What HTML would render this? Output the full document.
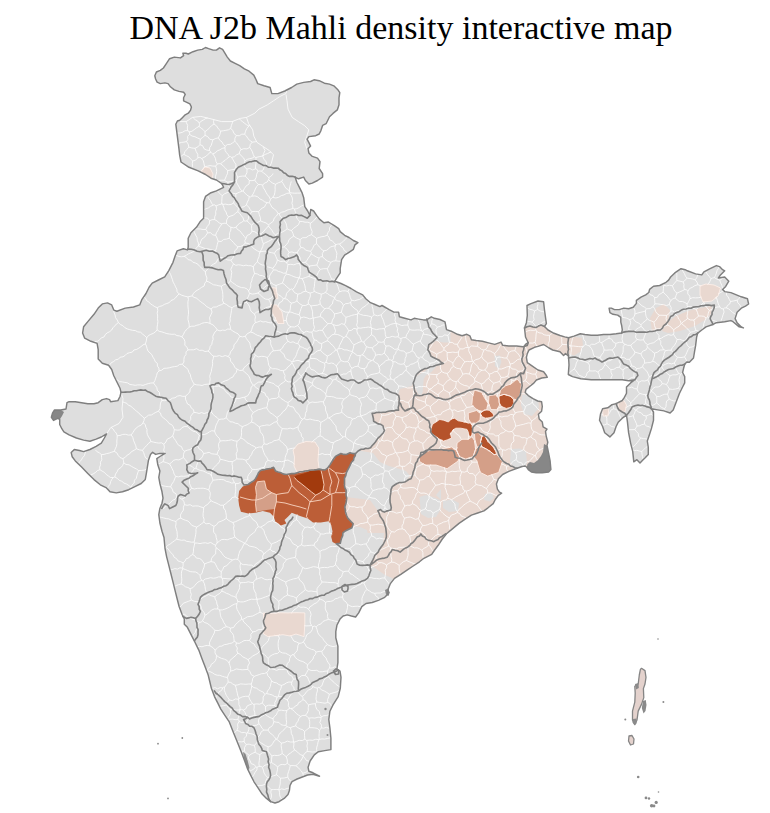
<!DOCTYPE html>
<html><head><meta charset="utf-8"><title>DNA J2b Mahli density interactive map</title>
<style>
html,body{margin:0;padding:0;background:#fff;width:770px;height:813px;overflow:hidden}
h1{position:absolute;left:0;top:0;width:770px;margin:0;text-align:center;font-weight:normal;font-size:34px;font-family:"Liberation Serif","Times New Roman",serif;color:#000;line-height:1}
svg{position:absolute;left:0;top:0}
</style></head><body>
<svg width="770" height="813" viewBox="0 0 770 813">
<defs><clipPath id="c"><polygon points="155.6,79 154.8,75.8 156.4,72 160.3,70.4 163.4,68 166.5,63.4 169.6,58.7 174.3,57.1 180.5,57.9 183.6,55.6 182.9,53.2 186,53.2 188.3,54 193,51.7 197.7,50.1 202.3,49.4 205.5,47.5 208.6,48.6 213.2,50.1 216.4,50.1 219.5,47.8 222.6,49.4 224.9,53.2 227.3,57.1 230.4,61 235.1,63.4 239.7,65.7 244.4,68.8 249.1,71.2 253.8,75.1 256.1,79.7 257.7,83.6 264.1,85.8 270.1,87.5 271.8,93.6 277.9,93.6 284.8,91 291.6,87.5 296.8,84.1 303.7,82.4 310.6,81.5 314,79.8 319.2,80.7 324.4,83.2 329.5,84.1 333.8,85.8 338.1,90.1 339.8,92.7 339,97.9 339,104.8 337.3,109.9 333,113.4 329.5,116.8 326.1,123.7 322.6,125.4 320.9,130.6 319.2,134 315.7,135.7 308.9,136.6 307.1,139.2 308.9,142.6 310.6,146.1 308,148.7 308.9,153 312.3,156.4 317.5,158.1 320,161.6 319.2,168.5 322.6,173.6 322.6,177.1 317.5,180.5 312.3,183.1 308.9,184 305.4,180.5 303.7,177.1 298.5,178.8 295.1,177.1 296.8,182.2 299.4,187.4 302,192.6 303.7,197.7 304.8,206.6 307.7,211 309.9,215.4 310.7,209.5 313.6,211 316.6,215.4 319.5,219.1 323.9,222.8 328.4,222 334.3,225.7 338.7,228.7 340.2,231.6 344.6,235.3 349,237.5 353.4,240.5 357.9,242.7 354.9,244.9 353.4,249.3 349,252.3 344.6,255.2 341.6,259.7 340.9,264.1 340.2,268.5 340.2,272.9 337.2,277.4 334.3,281.8 336.2,281.7 341,283.5 345.6,285.6 351,288.5 356.5,291.8 362.7,294.9 365.8,298.8 370.5,302.7 375,304.5 379.9,306.6 382,305.5 389.2,309.7 393.9,312.1 398.6,312.1 399.4,316.8 404.8,318.3 411,319.9 414.2,318.3 418.8,319.1 423.5,319.9 426.6,319.9 431.3,316.8 434.4,318.3 440,319.5 445,321.8 446.5,329.6 451.2,331.2 457.4,334.3 462.1,335.8 466.8,334.3 469.9,335.8 471.4,339.7 476.1,340.5 482.3,341.3 488.6,342.9 494.8,344.4 501,342.1 502.6,345.2 508.8,346 516.6,346 522.9,346.8 527.3,345.5 528.2,342.7 525.5,337 524.5,328 526.4,322.7 527.3,315.5 527,305.5 531,303.6 538,301 543.6,301.8 544.5,310 545.5,317.3 546.4,323.6 544.5,326.4 548,330 552.7,332.7 560,335.5 564.7,336.9 568.6,337.7 574,336.1 580.3,333.8 584.9,334.5 591.2,335.3 597.4,335.3 603.6,334.5 609.9,334.5 616.1,333.8 621.6,333 622.3,329.9 621.6,325.2 620.8,322.1 620.8,317.4 617.7,315.1 613,314.3 609.9,312.7 609.1,308.1 611.4,308.1 614.5,309.6 619.2,309.6 623.9,308.1 628.6,308.8 633.2,307.3 636.4,303.4 636.4,300.3 641,297.1 645.7,294.8 648.8,292.5 649.6,289.4 653.5,286.2 659.7,285.5 666,282.3 668.6,280.1 670.6,277 674.8,272.9 681,268.7 685.2,269.7 687.3,270.8 695.6,273.9 701.8,274.9 703.9,271.8 710.1,268.7 716.4,265.6 719.5,266.6 722.6,269.7 724.7,270.8 720.5,274.9 718.4,278 724.7,277 728.8,281.2 725.7,286.4 722.6,289.5 724.7,291.6 730.9,292.6 741.3,296.8 747.5,298.8 748.6,304 745.5,306.1 741.3,308.2 737.1,312.3 735.1,318.6 737.1,322.7 741.3,326.9 743.4,327.9 739.2,326.9 733,321.7 730.9,320.6 724.7,321.7 716.4,322.7 712.2,324.8 706,326.9 701.8,330 697.7,333.1 696.6,337.3 695.6,345.6 694.5,351.8 693.5,358 689.4,362.2 686.8,362 684.7,364.2 683.6,368.3 682.6,372.5 684.7,376.6 684.7,382.9 682.6,387 679.5,393.2 676.4,401.6 673.2,409.9 670.1,413 663.9,410.9 657.7,409.9 651.4,408.8 653.5,412 653.5,420.3 651.4,428.6 649.4,434.8 647.3,441 648.3,447.3 648.3,454.5 645.2,457.7 643.1,459.7 640,462.9 636.9,459.7 633.8,461.8 632.7,451.4 630.6,443.1 628.6,432.7 627.5,422.3 626.5,415.1 622.3,418.2 618.2,422.3 616.1,426.5 614,432.7 609.9,436.9 604.7,432.7 602.6,426.5 599.5,420.3 600.5,414 602.6,408.8 607.8,407.8 612,404.7 616.1,403.6 622.3,400.5 624.4,397.4 626.5,393.2 626.5,387 630.6,382.9 634.8,379.7 628.6,380.8 622.3,379.7 612,379.7 601.6,379.7 591.2,379.7 580.8,378.7 572.5,376.6 568.3,374.5 569,365 568.5,356 565.5,353.6 563.6,355.5 560,351.8 552.7,350 549,348 543.6,344.5 538,346.4 534.5,347.3 529,350 527.3,353.6 526.4,357.3 527.3,362.7 532.7,366.4 538,370 543.6,371.8 546.4,375.5 547.3,377.3 541.8,378 536.4,380 533.8,383.1 529.9,386.2 526,389.4 525.2,392.5 528.3,395.6 533,398.7 537.7,401 541.6,401.8 542.3,406.5 541.6,411.2 538.4,414.3 539.2,419 542.3,422.1 543.1,426.8 547,429.1 545.5,431.4 546.2,436.1 547.8,442.3 547,445.5 548.6,453.2 550.1,461 550.9,469.6 548.6,472 542.3,472.7 536.1,472.7 531.4,472 528.3,469.6 526.8,467.3 525.2,466 522,466.5 517.1,468.3 508.8,471.4 502.6,474.5 498.4,478.7 496.4,483.9 497.4,489.1 499.5,492.2 501.6,493.2 498.4,495.3 495.3,499.5 493.2,503.6 488,507.8 483.9,510.9 477.7,513 471.4,515.1 465.2,519.2 459,523.4 452.7,528.6 446.5,533.8 442.3,539 438.2,545.3 434.3,550.5 431.7,554.4 427.8,556.4 423.9,558.3 419.5,561.8 413.2,566 407,570.1 400.8,574.3 394.5,578.4 390.4,583.6 388.3,588.8 387.8,594.2 384.7,597.3 378.4,600.4 372.2,602.5 366,603.5 361.8,606.6 358.7,612.9 355.6,617 351.4,616 347.3,614.9 343.1,616 340,619.1 336.9,625.3 335.8,631.6 335.8,637.8 337.9,646.1 337.9,654.4 337.9,662.7 336.9,669 340,671 341,677.3 340.3,688.3 338.2,696.6 333,704.9 329.9,711.2 328.8,719.5 329.9,727.8 330.9,738.2 330.9,749.6 324.7,750.6 318.4,751.7 314.3,754.8 310.1,761 308.1,767.3 308.8,771.2 313,772.8 319.5,776.2 313,774.2 307.5,775 302.3,777 297.1,779 292,781.6 290,785.5 289.4,790.6 288,794.5 284.2,798.4 279,801.7 275,803 270.6,801.6 266.5,798.4 262.3,794.3 258.2,788.1 254,781.8 250.9,775.6 247.8,769.4 244.7,761 241.6,752.7 237.4,742.3 233.2,731.9 229.1,721.6 224.9,715.3 220.8,709.1 217.7,702.9 214.5,696.6 211.4,688.3 209.4,680 208.2,675.1 205.1,666.8 201.9,658.4 198.8,650.1 194.7,641.8 191.6,635.6 187.4,627.3 184.3,624.2 184.3,619 182.2,614.8 179.1,606.5 177,598.2 174.9,589.9 172.9,581.6 170.8,573.2 168.7,564.9 166.6,556.6 165,548.3 164.5,543 164,537.5 162,531.3 159.9,523 158.8,514.7 159.9,508.4 162,503.2 163,498.1 162,491.8 159.9,483.5 158.8,477.3 159.9,471 157.8,464.8 156.8,458.6 159.9,456.5 165.1,453.4 159.9,453.4 155.7,454.4 152.6,452.3 150.5,454.4 148.4,460.6 147.4,466.9 146.4,473.1 145.3,479.4 141.2,483.5 134.9,486.6 128.7,489.7 122.5,491.8 116.2,492.9 110,491.8 106.5,487.9 100.3,484.8 94,479.6 87.8,473.4 81.6,467.1 75.3,460.9 72.2,456.8 71.2,452.6 74.3,449.5 79.5,450.5 83.6,451.6 89.9,449.5 96.1,446.4 101.3,443.2 104.4,438 106.5,433.9 101.3,437 96.1,439.1 89.9,441.2 83.6,440.1 76.4,438 69.1,434.9 63.9,431.8 61.8,428.7 59.7,424.5 59.7,419.4 57.7,418.3 53.5,420.4 51.4,417.3 52.5,413.1 54.5,410 60.8,410 66,409 67,402.7 69.1,401.7 75.3,401.7 81.6,402.7 87.8,403.8 94,403.8 98.2,402.7 102.3,399.6 106.5,398.6 109.6,399.6 110.6,401.7 117.9,400.6 120,396.5 121,392.3 120,388.2 116.9,382 113.8,375.7 111.7,369.5 108.6,365.3 102.3,363.2 98.2,359.1 98.2,349.6 97.1,343.4 90.9,341.3 84.7,338.2 82.6,333 83.6,326.8 87.8,321.6 94,314.3 98.2,308.1 102.3,303.9 107.5,302.9 111.7,304.9 113.8,310.1 116.9,311.2 125.2,308.1 133.5,307 139.7,304.9 141.8,299.7 146,293.5 149.1,287.3 152.2,283.1 158.4,280 164.7,276.9 168.8,270.6 173,262.3 175.1,256.1 177.1,250.9 183.4,248.8 187.5,249.9 188.2,247.3 188.2,238.2 190.9,232.7 196.4,227.3 200,221.8 203.6,218.2 203.6,209.1 203.6,201.8 205.5,196.4 211,192.7 216.4,190.9 223.6,187.3 221.8,183.6 216.4,180 211,178.2 205.5,174.5 198.2,170.9 189,167.3 181,162 179.7,155.3 179,149.1 178.2,142.9 177.4,136.6 176.6,130.4 175.8,124.2 177.4,121 179.7,120.3 182.1,117.9 185.2,114.8 188.3,113.2 190.6,110.1 191.4,107 189.9,103.9 186.8,102.3 183.6,100.8 183.6,97.7 185.2,94.5 183.6,92.2 179,91.4 174.3,89.9 170.4,86.8 168.1,83.6 164.9,82.9 160.3,83.6 157.1,82.1"/></clipPath></defs>
<polygon points="155.6,79 154.8,75.8 156.4,72 160.3,70.4 163.4,68 166.5,63.4 169.6,58.7 174.3,57.1 180.5,57.9 183.6,55.6 182.9,53.2 186,53.2 188.3,54 193,51.7 197.7,50.1 202.3,49.4 205.5,47.5 208.6,48.6 213.2,50.1 216.4,50.1 219.5,47.8 222.6,49.4 224.9,53.2 227.3,57.1 230.4,61 235.1,63.4 239.7,65.7 244.4,68.8 249.1,71.2 253.8,75.1 256.1,79.7 257.7,83.6 264.1,85.8 270.1,87.5 271.8,93.6 277.9,93.6 284.8,91 291.6,87.5 296.8,84.1 303.7,82.4 310.6,81.5 314,79.8 319.2,80.7 324.4,83.2 329.5,84.1 333.8,85.8 338.1,90.1 339.8,92.7 339,97.9 339,104.8 337.3,109.9 333,113.4 329.5,116.8 326.1,123.7 322.6,125.4 320.9,130.6 319.2,134 315.7,135.7 308.9,136.6 307.1,139.2 308.9,142.6 310.6,146.1 308,148.7 308.9,153 312.3,156.4 317.5,158.1 320,161.6 319.2,168.5 322.6,173.6 322.6,177.1 317.5,180.5 312.3,183.1 308.9,184 305.4,180.5 303.7,177.1 298.5,178.8 295.1,177.1 296.8,182.2 299.4,187.4 302,192.6 303.7,197.7 304.8,206.6 307.7,211 309.9,215.4 310.7,209.5 313.6,211 316.6,215.4 319.5,219.1 323.9,222.8 328.4,222 334.3,225.7 338.7,228.7 340.2,231.6 344.6,235.3 349,237.5 353.4,240.5 357.9,242.7 354.9,244.9 353.4,249.3 349,252.3 344.6,255.2 341.6,259.7 340.9,264.1 340.2,268.5 340.2,272.9 337.2,277.4 334.3,281.8 336.2,281.7 341,283.5 345.6,285.6 351,288.5 356.5,291.8 362.7,294.9 365.8,298.8 370.5,302.7 375,304.5 379.9,306.6 382,305.5 389.2,309.7 393.9,312.1 398.6,312.1 399.4,316.8 404.8,318.3 411,319.9 414.2,318.3 418.8,319.1 423.5,319.9 426.6,319.9 431.3,316.8 434.4,318.3 440,319.5 445,321.8 446.5,329.6 451.2,331.2 457.4,334.3 462.1,335.8 466.8,334.3 469.9,335.8 471.4,339.7 476.1,340.5 482.3,341.3 488.6,342.9 494.8,344.4 501,342.1 502.6,345.2 508.8,346 516.6,346 522.9,346.8 527.3,345.5 528.2,342.7 525.5,337 524.5,328 526.4,322.7 527.3,315.5 527,305.5 531,303.6 538,301 543.6,301.8 544.5,310 545.5,317.3 546.4,323.6 544.5,326.4 548,330 552.7,332.7 560,335.5 564.7,336.9 568.6,337.7 574,336.1 580.3,333.8 584.9,334.5 591.2,335.3 597.4,335.3 603.6,334.5 609.9,334.5 616.1,333.8 621.6,333 622.3,329.9 621.6,325.2 620.8,322.1 620.8,317.4 617.7,315.1 613,314.3 609.9,312.7 609.1,308.1 611.4,308.1 614.5,309.6 619.2,309.6 623.9,308.1 628.6,308.8 633.2,307.3 636.4,303.4 636.4,300.3 641,297.1 645.7,294.8 648.8,292.5 649.6,289.4 653.5,286.2 659.7,285.5 666,282.3 668.6,280.1 670.6,277 674.8,272.9 681,268.7 685.2,269.7 687.3,270.8 695.6,273.9 701.8,274.9 703.9,271.8 710.1,268.7 716.4,265.6 719.5,266.6 722.6,269.7 724.7,270.8 720.5,274.9 718.4,278 724.7,277 728.8,281.2 725.7,286.4 722.6,289.5 724.7,291.6 730.9,292.6 741.3,296.8 747.5,298.8 748.6,304 745.5,306.1 741.3,308.2 737.1,312.3 735.1,318.6 737.1,322.7 741.3,326.9 743.4,327.9 739.2,326.9 733,321.7 730.9,320.6 724.7,321.7 716.4,322.7 712.2,324.8 706,326.9 701.8,330 697.7,333.1 696.6,337.3 695.6,345.6 694.5,351.8 693.5,358 689.4,362.2 686.8,362 684.7,364.2 683.6,368.3 682.6,372.5 684.7,376.6 684.7,382.9 682.6,387 679.5,393.2 676.4,401.6 673.2,409.9 670.1,413 663.9,410.9 657.7,409.9 651.4,408.8 653.5,412 653.5,420.3 651.4,428.6 649.4,434.8 647.3,441 648.3,447.3 648.3,454.5 645.2,457.7 643.1,459.7 640,462.9 636.9,459.7 633.8,461.8 632.7,451.4 630.6,443.1 628.6,432.7 627.5,422.3 626.5,415.1 622.3,418.2 618.2,422.3 616.1,426.5 614,432.7 609.9,436.9 604.7,432.7 602.6,426.5 599.5,420.3 600.5,414 602.6,408.8 607.8,407.8 612,404.7 616.1,403.6 622.3,400.5 624.4,397.4 626.5,393.2 626.5,387 630.6,382.9 634.8,379.7 628.6,380.8 622.3,379.7 612,379.7 601.6,379.7 591.2,379.7 580.8,378.7 572.5,376.6 568.3,374.5 569,365 568.5,356 565.5,353.6 563.6,355.5 560,351.8 552.7,350 549,348 543.6,344.5 538,346.4 534.5,347.3 529,350 527.3,353.6 526.4,357.3 527.3,362.7 532.7,366.4 538,370 543.6,371.8 546.4,375.5 547.3,377.3 541.8,378 536.4,380 533.8,383.1 529.9,386.2 526,389.4 525.2,392.5 528.3,395.6 533,398.7 537.7,401 541.6,401.8 542.3,406.5 541.6,411.2 538.4,414.3 539.2,419 542.3,422.1 543.1,426.8 547,429.1 545.5,431.4 546.2,436.1 547.8,442.3 547,445.5 548.6,453.2 550.1,461 550.9,469.6 548.6,472 542.3,472.7 536.1,472.7 531.4,472 528.3,469.6 526.8,467.3 525.2,466 522,466.5 517.1,468.3 508.8,471.4 502.6,474.5 498.4,478.7 496.4,483.9 497.4,489.1 499.5,492.2 501.6,493.2 498.4,495.3 495.3,499.5 493.2,503.6 488,507.8 483.9,510.9 477.7,513 471.4,515.1 465.2,519.2 459,523.4 452.7,528.6 446.5,533.8 442.3,539 438.2,545.3 434.3,550.5 431.7,554.4 427.8,556.4 423.9,558.3 419.5,561.8 413.2,566 407,570.1 400.8,574.3 394.5,578.4 390.4,583.6 388.3,588.8 387.8,594.2 384.7,597.3 378.4,600.4 372.2,602.5 366,603.5 361.8,606.6 358.7,612.9 355.6,617 351.4,616 347.3,614.9 343.1,616 340,619.1 336.9,625.3 335.8,631.6 335.8,637.8 337.9,646.1 337.9,654.4 337.9,662.7 336.9,669 340,671 341,677.3 340.3,688.3 338.2,696.6 333,704.9 329.9,711.2 328.8,719.5 329.9,727.8 330.9,738.2 330.9,749.6 324.7,750.6 318.4,751.7 314.3,754.8 310.1,761 308.1,767.3 308.8,771.2 313,772.8 319.5,776.2 313,774.2 307.5,775 302.3,777 297.1,779 292,781.6 290,785.5 289.4,790.6 288,794.5 284.2,798.4 279,801.7 275,803 270.6,801.6 266.5,798.4 262.3,794.3 258.2,788.1 254,781.8 250.9,775.6 247.8,769.4 244.7,761 241.6,752.7 237.4,742.3 233.2,731.9 229.1,721.6 224.9,715.3 220.8,709.1 217.7,702.9 214.5,696.6 211.4,688.3 209.4,680 208.2,675.1 205.1,666.8 201.9,658.4 198.8,650.1 194.7,641.8 191.6,635.6 187.4,627.3 184.3,624.2 184.3,619 182.2,614.8 179.1,606.5 177,598.2 174.9,589.9 172.9,581.6 170.8,573.2 168.7,564.9 166.6,556.6 165,548.3 164.5,543 164,537.5 162,531.3 159.9,523 158.8,514.7 159.9,508.4 162,503.2 163,498.1 162,491.8 159.9,483.5 158.8,477.3 159.9,471 157.8,464.8 156.8,458.6 159.9,456.5 165.1,453.4 159.9,453.4 155.7,454.4 152.6,452.3 150.5,454.4 148.4,460.6 147.4,466.9 146.4,473.1 145.3,479.4 141.2,483.5 134.9,486.6 128.7,489.7 122.5,491.8 116.2,492.9 110,491.8 106.5,487.9 100.3,484.8 94,479.6 87.8,473.4 81.6,467.1 75.3,460.9 72.2,456.8 71.2,452.6 74.3,449.5 79.5,450.5 83.6,451.6 89.9,449.5 96.1,446.4 101.3,443.2 104.4,438 106.5,433.9 101.3,437 96.1,439.1 89.9,441.2 83.6,440.1 76.4,438 69.1,434.9 63.9,431.8 61.8,428.7 59.7,424.5 59.7,419.4 57.7,418.3 53.5,420.4 51.4,417.3 52.5,413.1 54.5,410 60.8,410 66,409 67,402.7 69.1,401.7 75.3,401.7 81.6,402.7 87.8,403.8 94,403.8 98.2,402.7 102.3,399.6 106.5,398.6 109.6,399.6 110.6,401.7 117.9,400.6 120,396.5 121,392.3 120,388.2 116.9,382 113.8,375.7 111.7,369.5 108.6,365.3 102.3,363.2 98.2,359.1 98.2,349.6 97.1,343.4 90.9,341.3 84.7,338.2 82.6,333 83.6,326.8 87.8,321.6 94,314.3 98.2,308.1 102.3,303.9 107.5,302.9 111.7,304.9 113.8,310.1 116.9,311.2 125.2,308.1 133.5,307 139.7,304.9 141.8,299.7 146,293.5 149.1,287.3 152.2,283.1 158.4,280 164.7,276.9 168.8,270.6 173,262.3 175.1,256.1 177.1,250.9 183.4,248.8 187.5,249.9 188.2,247.3 188.2,238.2 190.9,232.7 196.4,227.3 200,221.8 203.6,218.2 203.6,209.1 203.6,201.8 205.5,196.4 211,192.7 216.4,190.9 223.6,187.3 221.8,183.6 216.4,180 211,178.2 205.5,174.5 198.2,170.9 189,167.3 181,162 179.7,155.3 179,149.1 178.2,142.9 177.4,136.6 176.6,130.4 175.8,124.2 177.4,121 179.7,120.3 182.1,117.9 185.2,114.8 188.3,113.2 190.6,110.1 191.4,107 189.9,103.9 186.8,102.3 183.6,100.8 183.6,97.7 185.2,94.5 183.6,92.2 179,91.4 174.3,89.9 170.4,86.8 168.1,83.6 164.9,82.9 160.3,83.6 157.1,82.1" fill="#dedede"/>
<g clip-path="url(#c)">
<polygon points="433,341.6 437,341 443,342.5 450.5,342.5 450.5,315 523,315 523,329 530,326 536,327.5 541,325 546,328 552,331 560,334 568.6,337.7 568,356 568,380 556,380 556,480 515,480 505,486 500,500 490,515 470,522 450,538 430,558 410,574 396,582 392,578 385,575 375,568 370,565.3 371.4,562.7 374,557.5 376.6,553.6 379.2,549.7 383.1,544.5 384,533 346,533 344,480 350,465 354,462 358.1,457 361.2,449.2 370.5,447.7 376.8,439.9 384.5,430.5 383,425.8 373.6,421.2 372.1,413.4 383.1,412.2 391.4,410.8 398.6,410.3 398,395 400,389 412,386 414,380 415.3,376.9 418.4,372.7 424.7,368.6 433,366.5 439.2,364.4 443.4,363.4 439.2,360.3 430.9,356.1 427.8,349.9 428.8,344.7" fill="#e9d8d0"/>
<polygon points="431.5,365.4 435.9,364.3 440.4,365.4 437,365.4 431.5,372 426,375.4 423.8,378.7 423.2,385.3 422.7,392 421.6,394.7 418.2,394.2 416,389.8 413.8,385.3 413.3,380.9 414.9,377.6 419.3,374.3 423.8,372 428.2,368.7" fill="#dedede"/>
<polygon points="346,450 362,451 373,453 380,462 389,466 398,468.6 406,471 410,476 404.8,482 397,483.5 392.3,486.6 390.8,492.9 390,499.1 390.8,505.3 390.8,510 384.4,512.1 380.5,509.5 377.9,510.8 370,500 346,497" fill="#dedede"/>
<polygon points="340,527 350,526 360,527 367,530 369,540 368,550 368,558 367.7,565.4 364.9,565.3 359.7,565.3 357.1,564 355.8,560.1 353.2,556.2 349.4,552.3 342.9,548.4 340,545" fill="#dedede"/>
<polygon points="419.5,497 426,495 433,497 440,500 440.3,510 436,517 428,518 421,514" fill="#dedede"/>
<polygon points="443,501 452,499.5 459,503 458,511 449,512 443,508" fill="#dedede"/>
<polygon points="485,494 492,493 494,498 490,501.6 484,500" fill="#dedede"/>
<polygon points="494.5,356 500,355.5 501.4,362 499,369 495,366" fill="#dedede"/>
<polygon points="522,395 530,394 538,398 539,408 532,416 524,414 521,405" fill="#dedede"/>
<polygon points="511,449 520,448.6 526,452 527,462 525,470.4 515,470 510,462" fill="#dedede"/>
<polygon points="436,495 441,489 441,500" fill="#dedede"/>
<polygon points="293,450 298,444 306,441.5 315,442 318.8,448 318,460 319.1,469 311.8,470 302.7,471.8 297.3,472.7 294,466 294.5,457" fill="#e9d8d0"/>
<polygon points="263.2,613 270,613.5 278,612.7 288,612.9 297,612.7 304.8,612.9 304.8,624 304,636.6 296,634 290,636 283,634.7 276,635.5 268,636.6 263.5,634 264.5,625" fill="#e9d8d0"/>
<polygon points="271.7,287.7 276,288 278,298.6 275,299 272.5,294" fill="#e9d8d0"/>
<polygon points="271,304.8 277,305 282,312 284,323.5 278,323.5 274,316 271,310" fill="#e9d8d0"/>
<polygon points="201,171 205,167 210,168 213,174 212,180 209,181 205,176" fill="#e9d8d0"/>
<polygon points="569,338 575,337 582,338 583,345 580,352 574,355.5 569,354" fill="#e9d8d0"/>
<polygon points="662,331 668,322 676,316 688,311 700,308 712,306 711,314 705,320 695,326 680,331 668,333" fill="#e9d8d0"/>
<polygon points="650,318 656,308 664,304 670,310 668,322 662,330 652,331" fill="#e9d8d0"/>
<polygon points="700,286 706,284 714,285 720.5,288 718,296 712,301 703,302 700,295" fill="#e9d8d0"/>
<polygon points="602.6,409 608.8,408.8 608,416 603,416" fill="#e9d8d0"/>
<polygon points="618,401 624,400.5 626.5,405 625,412 619,411" fill="#e9d8d0"/>
<polygon points="474.4,390 481.8,392.4 484.2,397.3 488,403.5 486.7,409.7 481.8,411.5 476.8,409.7 471.9,404.7 472.5,397.3" fill="#d49f88"/>
<polygon points="489,395.5 496,394.8 499,399 499.5,405 497,409.7 491,409.5 488.5,403" fill="#d49f88"/>
<polygon points="500.5,390 505,386 511,384 517,379 521.5,384 520.5,393 518,399 514,400 510.1,396.1 504,394.3 499,396.1" fill="#d49f88"/>
<polygon points="468.2,413 476.5,410.5 480.5,413.5 480,420 476,423.2 471,423.2 468.5,419" fill="#d49f88"/>
<polygon points="457.1,443 462,439.3 468.2,439.3 471.9,436.8 474.4,440.5 475.6,449.2 473.1,456.6 465.7,459 459.5,456.6 456.5,450.4" fill="#d49f88"/>
<polygon points="474.4,433.1 478,431.9 481.8,436.8 480.5,441.8 481.8,446.7 477,447 475,440" fill="#d49f88"/>
<polygon points="419.4,455.8 425,451.5 432,450 440,449 447.2,448 451.5,447 456.5,450.4 459.5,456.6 458.1,461 447.1,468.7 436,465 424.9,465 419.4,461.3" fill="#d49f88"/>
<polygon points="478,447 481.8,446.7 486.7,449.2 490.4,451.6 494.1,454.7 496.6,454.1 502.4,461.3 498.7,472.4 487.7,476.1 480.3,472.4 476.6,460 473.1,456.6 475.6,449.2" fill="#d49f88"/>
<polygon points="431.2,428.2 432.4,424.5 437.3,420.8 439.8,419.5 443.5,420.2 448.4,422 451.5,418.9 454.6,418.3 458.3,420.8 462,421.4 467,422.6 470.7,423.2 472.5,425.7 472.5,430.7 471.9,434.4 470.7,436.8 468.8,435.6 468.2,431.9 467,429.4 460.8,428.2 455.8,428.2 452.8,430 451.5,433.1 450.3,433.1 451.5,438.1 447.2,439.9 443.5,441.1 439.8,439.3 436.1,436.8 432.4,434.4 430.6,431.9" fill="#b5532b"/>
<polygon points="480.5,413.4 484.2,409.7 489.2,410.3 492.9,413.4 494.1,416.5 489.2,417.7 485.5,418.3 481.8,416.5" fill="#b5532b"/>
<polygon points="499,396.1 504,394.3 510.1,396.1 513.8,398 513.8,403.5 511.4,407.2 506.4,408.4 501.5,406.6 499,402.3" fill="#b5532b"/>
<polygon points="481.8,436.8 484.2,435.6 486.7,439.3 489.2,443 492.9,446.7 495.3,450.4 496.6,454.1 494.1,454.7 490.4,451.6 486.7,449.2 481.8,446.7 480.5,441.8" fill="#b5532b"/>
<polygon points="238.2,498.2 239.1,490.9 242.7,486.4 248.2,484.5 253.6,480.9 257.3,475.5 260,470.9 266.4,469.1 273.6,467.3 275.5,470.9 280.9,472.7 286.4,474.5 291.8,473.6 297.3,472.7 302.7,471.8 311.8,470 319.1,469.1 324.5,470 328.2,467.3 331.8,461.8 335.5,456.4 340.9,453.6 346.4,454.5 350,452.7 355.5,453.6 353.6,460 350,465.5 346.4,472.7 344.5,478.2 344.5,485.5 346.1,492.6 346.8,497.8 346.1,503 344.8,506.9 345.5,512.1 346.8,516 349.4,519.9 353.2,523.8 351.9,527.7 346.8,530.3 342.9,532.9 341.6,538.1 340.3,543.2 336.4,543.9 332.5,541.9 331.2,536.8 332.5,531.6 331.2,525.1 328.6,521.2 320.8,522.5 313,522.5 307.8,518.6 300,516 291.8,512.7 288.2,516.4 284.5,520 286.4,523.6 280.9,525.5 275.5,521.8 273.6,516.4 270,512.7 262.7,510.9 255.5,512.7 248.2,513.6 240.9,511.8 239.1,505.5" fill="#bc5e37"/>
<polygon points="257.3,481.8 264.5,480.9 266.4,489.1 271.8,492.7 276.4,494.5 276.4,501.8 274.5,509.1 266.4,510 256.4,511.8 255.5,503.6 256.4,494.5 255.5,487.3" fill="#d49f88"/>
<polygon points="294.4,476.4 297,475.3 304.3,473.2 309.5,471.2 314.7,470.1 321,470.6 322,474.3 323,479.5 324,484.7 323,489.9 319.9,493 315.7,495.1 311.6,492 306.4,487.8 301.2,483.6 297,480.5 294.4,477.4" fill="#a23a0d"/>
<path d="M282.1,799.7 282.1,799.4 280.3,797.3 279.7,794.9 279.5,792.4 279,789.9 M279,789.9 281.6,788.9 284.5,789.5 287,788.4 289.7,788.2 M93.9,342.3 94.6,341.6 97.8,341.2 99.7,339.7 101.4,337.8 104.1,336.9 105.3,334.5 107.2,332.9 109.6,331.7 111.6,330.1 112.9,327.8 114.7,326 116.3,324.1 118.4,322.6 M113.5,309.4 113.5,309.9 114,312.5 115.1,315 115.5,317.6 117.3,320.1 118.4,322.6 M199.9,144.7 200.1,141.9 200.3,139.2 M199.9,144.7 197.8,146.9 195,148.3 M200.3,139.2 197.6,138 194.9,136.7 192,136 189.5,134.3 M195,148.3 191.9,148 188.8,147.1 M188.8,147.1 188.2,144.1 186.5,141.5 M186.5,141.5 187.9,139.3 187.6,136.3 189.5,134.3 M180.1,157.5 181.6,155.7 183.9,154.4 M183.9,154.4 184.9,151.6 186.9,149.4 188.8,147.1 M178.3,143.6 179,143.2 181.5,142.4 184,142.1 186.5,141.5 M199.3,123.1 199.6,124.8 199,126.4 M199.3,123.1 197.7,121 195.2,119.7 193.3,117.9 192.8,117.4 M199,126.4 196.6,127.8 194.2,129.6 191.9,131.3 189,132 M186.2,121.6 186.4,122.7 187.7,125.4 187.3,128 187.7,130.7 M187.7,130.7 188.7,131 189,132 M214,119.6 213.5,121.6 214,124 M207.6,118 205.8,118.4 203.6,119.9 201.2,121.1 199.3,123.1 M214,124 211.5,125.7 209.4,127.9 207.4,130 204.9,131.7 M204.9,131.7 203.2,129.6 201.1,128.1 199,126.4 M205,135.4 202.7,137.4 200.3,139.2 M205,135.4 205.1,133.6 204.9,131.7 M189.5,134.3 189.7,133.1 189,132 M176.9,133.1 177.3,133 179.8,133 182.4,132.3 185.1,130.7 187.7,130.7 M245,761.8 246.6,759.9 248.8,758.7 M248.9,771.6 249.2,771.4 251.5,770.3 253.8,769.1 255.8,766.7 M255.8,766.7 254.2,764.6 251.2,763.7 250.2,761 248.8,758.7 M241,751.2 241.9,751.1 244.5,751.2 M248.8,758.7 248.4,757 249.3,755.4 M244.5,751.2 246.8,753.4 249.3,755.4 M255.8,766.7 256.4,767.3 257.1,767.1 M251.9,777.5 252.2,777.1 253.8,774.7 255.1,772.2 256.9,769.9 257.1,767.1 M143.6,297.1 145.5,298.2 146.7,300.8 148.9,302 150.6,304 152.8,305.3 154.8,306.7 157.3,307.7 M169.1,270 169.3,272.2 170.7,274.6 171.5,277.1 172.4,279.5 173.1,282.1 174.5,284.4 175.5,286.8 176.8,289.2 177.1,291.8 179.1,293.9 M179.1,293.9 177.2,295.8 175.5,297.9 173.5,299.6 171,300.5 169.3,302.6 166.8,303.5 164.3,304.4 162.2,305.8 159.5,306.4 157.3,307.7 M183.9,154.4 186.3,155.7 188.9,156.9 190.7,159 192.7,161 M195,148.3 196.1,151.4 197.8,154.4 197.8,157.8 M192.7,161 195.7,160.1 197.8,157.8 M192.7,161 192.3,163.6 192.5,166.4 191.5,168.3 M682,268.9 682.1,269.2 683.1,271.5 684.5,273.8 685.4,276.1 687.2,278.2 M697.9,274.3 697.8,274.6 696.9,277.4 695.2,279.9 M695.2,279.9 692.6,279 689.9,278.5 687.2,278.2 M264.9,784.4 265.8,780.8 267.6,777.5 M264.9,784.4 267.3,785.7 269.2,787.7 271.2,789.7 M267.6,777.5 270.5,776.6 273.5,775.8 276.5,774.8 M271.2,789.7 273.7,789.5 276.2,789.4 278.7,789.7 M278.7,789.7 279.5,786.9 280.2,784 280.3,781.1 280.5,778.2 M280.5,778.2 278.6,776.4 276.5,774.8 M256.7,785.9 259,785.4 262,785.4 264.9,784.4 M257.1,767.1 258.2,766.7 259.3,766.5 M262.4,767.5 261.1,766.3 259.3,766.5 M262.4,767.5 263.4,770.1 264,773 265.6,775.3 267.6,777.5 M270.6,801.6 270.1,799.8 271.3,797.5 271.4,795 270.8,792.2 271.2,789.7 M279,789.9 278.8,789.9 278.7,789.7 M287.8,777.1 284.2,778 280.5,778.2 M291.9,781.8 291.5,781.4 289.1,779.8 287.8,777.1 M118.4,322.6 120.4,324.5 122.8,325.6 124.8,327.6 127.2,328.9 129.8,329.7 132.5,330.3 135.4,330.6 137.7,331.9 140.6,332.2 142.7,334.2 144.8,335.8 146.8,337.8 M157.3,307.7 157.8,310.5 157.2,313.2 157.7,316 157.5,318.7 157.9,321.5 157.6,324.3 157.1,327 157.1,329.8 M157.1,329.8 155.4,331.9 153.2,333.4 150.7,334.4 148.4,335.6 146.8,337.8 M205,135.4 207.7,136.6 209.8,139.3 212.9,139.8 M199.9,144.7 202.6,145.7 204,148.7 206.5,150 209.5,150.5 M209.5,150.5 209.7,147.6 211.3,145.2 212.1,142.5 212.9,139.8 M179.1,293.9 181.9,295.3 184.8,296.2 187.9,296.9 M157.1,329.8 159.3,331.4 161.9,331.9 164.3,332.7 166.8,333.6 169.3,334 171.9,334.3 174.6,334.2 176.9,335.6 179.5,335.9 181.9,336.9 M181.9,336.9 183.5,334.3 184.8,331.4 187,329.3 189.2,327.1 M189.2,327.1 189.2,324.6 188.7,322.1 188,319.6 188,317 188.4,314.5 188.5,312 188.3,309.5 188,307 187.9,304.5 187.9,301.9 188.4,299.4 187.9,296.9 M145.4,343.9 146.3,340.9 146.8,337.8 M108.7,365.4 109.8,364.9 111.3,362.7 113.7,361.5 115.6,359.8 118.4,359.2 120.1,357.2 123,356.8 125.2,355.4 127,353.5 129.5,352.7 132.3,352.1 133.9,350 136.7,349.4 138.9,348.1 141,346.6 143,344.9 145.4,343.9 M95.5,450 97.1,451.8 99.5,452.8 101.3,454.7 M86.1,450.8 86.1,450.8 85.1,453.2 84.4,455.7 82.6,457.7 81.4,459.9 79.5,461.9 78.4,463.9 M90,475.6 90.7,474.9 93.2,473.9 95.4,472.5 97.4,470.6 99.9,469.7 M101.3,454.7 101.6,457.3 101.8,459.8 100.4,462.2 100.6,464.7 99.6,467.2 99.9,469.7 M219.3,706.1 220.9,706.1 223.7,705.6 226.6,705 M226.6,705 228.2,707.4 230.2,709.5 M227.5,719.2 228.3,717.1 230,714.9 230.6,712.4 230.2,709.5 M740,296.3 739.4,298.2 737.2,300.1 M741.4,308.1 741.1,307.2 739.8,304.9 737.8,302.8 737.2,300.1 M723.1,277.3 722,278.9 719.8,280.1 M719,266.4 718.4,268.4 717,270.6 716.4,273.1 715.5,275.4 714.4,277.7 M719.8,280.1 717,279.2 714.4,277.7 M705.1,271.2 706.1,272 707.5,274.5 709.3,276.6 711,278.8 M714.4,277.7 712.6,278 711,278.8 M259.3,766.5 258.9,763.5 259.3,760.5 259.6,757.6 259.8,754.6 M249.3,755.4 252.1,753.5 255.2,752.2 M259.8,754.6 257.4,753.7 255.2,752.2 M115.8,379.7 117.1,379.7 119.6,381.6 122.2,381.9 124.8,382.4 127.4,382.8 130,384.5 132.6,384.8 135.2,385.3 137.8,384.9 140.4,384.9 143,385.4 145.7,384.4 148.3,383.6 150.9,383 153.5,382.9 M145.4,343.9 146.5,346.1 147.1,348.7 148,351.1 150,352.9 151.9,354.7 152.9,357.1 154.3,359.2 155.2,361.6 157.3,363.3 157.4,366.1 158.9,368.1 159.1,370.9 M153.5,382.9 154.9,380.6 155.7,378.1 156.6,375.5 157.2,372.9 159.1,370.9 M184.1,256.3 186.4,255.2 188.5,253.8 190.9,252.8 193.2,251.7 195,249.9 196.5,247.6 198.4,246 M184.1,256.3 186.4,257.6 188.1,259.7 191,260.2 192.8,262.2 195.5,263 197.9,264.2 199.6,266.3 201.6,268.1 203.5,269.9 205.3,271.9 M205.3,271.9 207.1,269.6 209.2,267.7 211.2,265.7 213.6,264.1 216.2,262.6 217.5,259.9 219.1,257.5 M219.1,257.5 218.5,254.9 216.6,253 215.5,250.7 M198.4,246 200.8,246.9 203.1,247.8 205.5,248.7 208.1,248.9 210.5,249.5 213,250.1 215.5,250.7 M217.4,164 216,161.6 215.5,158.7 214.4,156.2 212.7,153.9 M217.4,164 216.5,165 215.7,166.1 M215.7,166.1 212.9,166.1 210.1,165.6 207.4,166.2 204.6,166.6 M210.1,152.5 211.6,152.9 212.7,153.9 M210.1,152.5 208.1,154.2 206.3,156.1 204,157.4 201.6,158.5 M201.6,158.5 203.4,160.9 204,163.8 204.6,166.6 M197.8,157.8 199.9,157.3 201.6,158.5 M209.5,150.5 210.4,151.3 210.1,152.5 M201.1,172.4 201.9,171.5 201.9,171.4 M202.4,170.3 203,168.9 204.6,166.6 M214,124 216.7,126 218.4,128.9 220.7,131.1 M233,121.2 232.5,122.5 231.4,125.4 230.7,128.3 M220.7,131.1 223.3,130.8 225.9,130.3 228.5,129.8 230.7,128.3 M212.9,139.8 215.6,138.5 218.4,137.8 M220.7,131.1 219.9,134.5 218.4,137.8 M215.8,699.2 216.1,696.6 218,694.6 218.9,692 221.5,690.4 222.8,688 M211.5,688.6 212.2,688.6 214.9,687.5 217.5,688.8 220.2,687.6 222.8,688 M641.8,451.6 639.3,451 636.8,450.3 634.1,450.7 632.2,449.3 M643.2,459.6 643.1,459.2 642.5,456.7 642,454.2 641.8,451.6 M695.2,279.9 697,282.1 697.9,284.7 M684.5,289.6 683.8,287.1 684,284.4 683.2,282 M684.5,289.6 686.5,289.7 687.8,291.3 M687.2,278.2 685.1,280.1 683.2,282 M697.9,284.7 694.9,285.6 692.4,287.3 689.6,288.5 687.8,291.3 M493.8,479.3 492.7,477 491.6,474.7 491.6,474.3 M493.8,479.3 492.1,481.7 490,483.8 488.1,486 486.5,488.5 M475.4,476.4 475.9,479.1 475,481.9 476.2,484.5 M475.4,476.4 477.4,473.8 479.7,471.7 480.5,471.4 M476.2,484.5 478.9,485.2 481.7,485.6 484,487.3 486.5,488.5 M506.5,466.3 509.6,465.7 511.4,463 513.6,461 516.2,459.6 M506.5,466.3 506.5,468.9 507.7,471.2 507.9,471.8 M516.2,459.6 518.3,462.1 521.8,462.9 523.1,466.1 M523.1,466.1 523.2,466.3 M498.6,495.2 498.4,495.1 495.3,495.2 493,494 490.6,493 487.6,492.9 M487.6,492.9 487.6,490.6 486.5,488.5 M493.8,479.3 496.3,480.1 497.8,480.2 M550.3,463.1 548.4,463.5 545.8,464 543.2,464.1 540.7,465.4 M540.7,465.4 539.8,467.7 538.7,470 538.1,472.5 537.9,472.7 M506.5,466.3 503.4,464.5 501,463.8 M244.5,751.2 244.5,747.6 246.4,744.4 M255.2,752.2 255.2,748.7 254.4,745.3 M254.4,745.3 251.8,745.1 249.1,744.1 246.4,744.4 M237.4,742.2 239,741.7 241.7,741.9 244.2,741.3 M244.2,741.3 244.8,743.2 246.4,744.4 M236.9,730.4 239.4,731.2 241.6,732.7 244.4,732.5 246.8,733.3 M233.7,733.2 235,732.2 236.9,730.4 M244.2,741.3 244.2,738.3 246.4,736.1 246.8,733.3 M227.7,719.5 229.9,719.2 232.5,719.1 235.1,719.6 237.7,719.6 M236.9,730.4 237.9,727.5 237.6,724.2 239,721.4 M237.7,719.6 238.9,720.1 239,721.4 M303.5,776.5 303.7,775.9 302.7,773.3 M287.8,777.1 287.8,774.1 288.7,771.3 289.6,768.5 290.3,765.6 M290.3,765.6 293.1,765.6 295.9,765.8 M302.7,773.3 301.4,771 299.6,769.3 298,767.3 295.9,765.8 M290.3,765.6 288.8,764.5 287.3,763.3 M276.5,774.8 276.9,772.2 277.5,769.7 277.6,767.1 M287.3,763.3 285.1,764.8 282.2,764.4 279.6,765 277.6,767.1 M262.4,767.5 264.2,765.5 266.7,764.7 269.1,763.6 271.4,762.4 M271.4,762.4 273.5,763.8 275.8,765.1 277.6,767.1 M189.2,327.1 191.7,326.2 194.3,326.2 196.8,325.2 199.4,324.7 201.8,323.3 204.4,322.7 207.1,322.5 209.9,323.4 M209.9,323.4 210,320.5 209.5,317.6 210.9,314.8 212.1,312 211,309 M187.9,296.9 190,296.4 192.1,295.9 M211,309 208.7,307.7 206.5,306.5 204.7,304.5 202.6,303.1 200.6,301.6 198.5,300.1 196.7,298.1 194.1,297.4 192.1,295.9 M175.4,255.4 176.5,255.5 179,256.5 181.6,256.8 184.1,256.3 M205.3,271.9 205.8,275 207,278 206.4,281.2 M192.1,295.9 193.4,293.5 195.1,291.6 197.3,290.2 199.6,288.8 201.6,287.3 204.1,286.1 204.8,283.2 206.4,281.2 M144.3,418.3 142.5,416.4 140.4,414.9 138.7,412.8 136.6,411.4 134.8,409.5 132.7,408.1 130.9,406.1 128.5,405.3 126.8,403.3 124.4,402.5 122.7,401.9 M144.3,418.3 146.5,416.8 148.6,415.1 151.4,415 153.6,413.6 155.8,412.3 158.3,411.3 M153.5,382.9 155.1,385.2 156.8,387.5 157.3,390.3 159.4,392.4 159.7,395.3 161.3,397.7 161.8,400.5 M158.3,411.3 160,408.9 160.2,406 160.5,403.1 161.8,400.5 M207.4,195.1 207.7,195.5 208.5,198.3 210.4,200.4 211.5,203.1 213.4,205.1 M203.6,209.7 205.7,208.9 208.4,207.9 210.7,206.2 213.4,205.1 M213.4,205.1 214.9,204.8 216,206 M221.6,204 218.7,204.8 216,206 M221.6,204 221.8,201.2 221.9,198.5 222.2,195.8 M222.2,195.8 220.4,193.9 218.4,192.2 217.5,190.3 M215.7,166.1 216.4,168.8 216.7,171.4 216.2,174 215.4,176.6 215.5,179.2 215.4,179.7 M198.4,246 198.2,245.9 198.4,246 M193.5,230.2 194.4,232.4 195.6,235 197,237.5 197.3,240.4 198.4,243 198.4,246 M203.6,216.5 204.7,217.8 207.8,218.3 209.6,220.7 M216,206 216.6,208.8 215.7,211.4 215.8,214.2 214.7,216.9 214.7,219.6 M209.6,220.7 212.1,219.7 214.7,219.6 M194.9,228.8 195,228.9 197.8,228.9 200.5,229 203.1,229.5 205.8,229.4 M209.6,220.7 209.3,224 207.2,226.5 205.8,229.4 M198.4,246 200.1,243.9 200.8,241.2 202.1,238.8 204.5,237.3 206.1,235.1 207.5,232.9 M205.8,229.4 207,231 207.5,232.9 M192.4,637.2 193.3,634.8 195.3,632.5 196.1,629.9 197.7,627.5 197.9,624.6 199.4,622.2 M199.4,622.2 196.7,621.5 194.4,619.8 191.8,618.9 189.2,618.1 186.9,616.3 184.7,614.4 181.9,614 181.9,614 M428.6,544.9 430.4,546.8 431.8,549.4 433.6,551.3 433.7,551.5 M428.6,544.9 426.7,547.1 424,548.3 421.9,550.2 M423.4,558.7 423.1,557.7 422.9,555.2 422.9,552.6 421.9,550.2 M409.3,545.8 411.9,546.7 414.3,547.9 417.1,547.8 419.6,548.8 421.9,550.2 M409.3,545.8 409,546.9 407.9,547.2 M415.9,564.2 413.9,563.7 411.5,562.6 409,561.7 406.6,560.5 M407.9,547.2 408,549.9 408.1,552.5 408.1,555.2 407.3,557.8 406.6,560.5 M117.2,435.7 120,435.5 122.7,434.4 125.5,434.3 128.4,435.1 131.2,434.9 M117.2,435.7 117.1,438.4 116.8,441 116.9,443.7 116.4,446.4 115.2,448.9 114.3,451.4 M131.2,434.9 132.8,437.4 133.5,440.3 134.6,443 135.8,445.8 136.4,448.7 M136.4,448.7 134.1,450.3 131.5,451.6 129.7,453.8 127.2,455.1 125.3,457.3 122.8,458.6 M114.3,451.4 116.8,452.8 118.2,455.4 120,457.5 122.8,458.6 M144.3,418.3 144,420.6 143,422.7 M111.1,427.4 111.1,427.4 113.2,429.1 114.5,431.3 116.3,433.1 117.2,435.7 M143,422.7 141.4,425 138.5,426.3 136.2,428 134.4,430.1 132.9,432.6 131.2,434.9 M101.3,454.7 104,454.4 106.6,453.6 109.2,453.1 111.8,452.1 114.3,451.4 M123.7,462.7 122.7,465.4 120.9,467.6 118.3,469.2 117.1,471.8 115.5,474.1 114.8,477 M123.7,462.7 123.5,460.6 122.8,458.6 M99.9,469.7 102.1,471.1 104.4,472.4 106.2,474.4 108.3,475.9 110.4,477.5 113.4,477.5 M113.4,477.5 114.1,477.3 114.8,477 M113.4,477.5 111.7,479.5 110.6,481.8 110,484.3 108.4,486.3 107.4,488.7 107.4,488.9 M169.8,569.1 169.9,569.1 172.5,569.5 174.9,568.6 177.6,569.1 179.9,567.8 182.5,568.2 M165.8,547.4 165,547.8 M165.8,547.4 168,548.8 169.5,551 171.2,552.9 173,554.8 174.2,557.3 176.5,558.6 177.9,560.9 180.7,561.7 183.1,562.9 M182.5,568.2 183.1,565.6 183.1,562.9 M143,422.7 145.3,424.5 145.8,427.1 147,429.3 146.9,432.1 147.4,434.7 148.6,437 150.1,439.1 150.9,441.5 M136.4,448.7 139.4,449.9 142.5,450.3 M142.5,450.3 144.4,447.9 146.5,445.7 148.5,443.4 150.9,441.5 M131.1,488.5 131.1,487.4 M131.1,487.4 132.1,484.9 134.2,483 134.4,480.2 136.4,478.2 136.9,475.6 137.7,473 138.6,470.5 M138.6,470.5 141.8,470.4 144.9,470 147.2,468.3 M114.8,477 117.2,478.3 119.2,480.3 121.9,481.3 124,483.1 126.7,484.1 129,485.6 131.1,487.4 M123.7,462.7 126,464.5 129,464.8 131.4,466.3 133.8,467.7 136.3,468.9 138.6,470.5 M142.5,450.3 143.7,452.7 144.5,455.4 145.6,457.9 148.4,459.6 148.6,460 M163.9,444.3 161.5,442.8 158.7,443.1 156.1,442.7 153.5,442.1 150.9,441.5 M163,461.6 160.6,462.9 158.2,464.2 157.7,464.1 M163,461.6 164,458.8 163.8,455.9 164.5,453.7 M164.7,453.4 164.8,453 163.7,450.1 164.4,447.2 163.9,444.3 M262.1,447.1 259.1,447 256.2,447.9 M262.1,447.1 263,449.9 263.9,452.7 265.1,455.3 266.9,457.7 268.1,460.3 M256.2,447.9 254.3,449.8 252.5,451.8 251.6,454.6 249.9,456.6 248.7,459.2 245.8,460.2 M268.1,460.3 265.9,462.2 265.3,465 264.1,467.4 M264.1,467.4 261.1,468 258.2,469.2 255.2,469.5 252.2,469.3 M245.8,460.2 246.8,462.8 249,464.7 250.4,467.1 252.2,469.3 M240.7,437.9 243.1,439 245.3,440.6 247,442.7 249.5,443.8 251.7,445.3 254.1,446.3 256.2,447.9 M240.7,437.9 239.2,439.8 237.1,441.2 M237.1,441.2 236.7,443.7 236.5,446.2 237.2,448.8 237.3,451.3 236.1,453.8 236.5,456.4 236.8,458.9 M245.8,460.2 242.8,459.2 239.8,459.1 236.8,458.9 M265.6,469.9 264.1,467.4 M251.9,482.6 250.4,481.3 247.8,479.9 M252.2,469.3 251.1,472 248.9,474.2 247.7,476.8 247.8,479.9 M169.5,463.9 166.3,462.6 163,461.6 M169.5,463.9 171,466.3 172.2,468.8 173.4,471.3 174.1,474.1 175.7,476.4 M160.2,484.8 160.5,484.9 163,485.8 165.5,486.3 168.1,486.7 170.7,486.8 M175.7,476.4 174.6,479 173.6,481.7 171.8,484.1 170.7,486.8 M238.8,498.9 237.4,498.2 235.2,496.9 M247.8,479.9 245.1,479.9 242.6,480.6 240.5,482.4 238.1,483.6 235.5,483.6 M235.2,496.9 235.1,494.2 235.6,491.6 235.8,488.9 235.5,486.3 235.5,483.6 M236.8,458.9 234.7,460.5 232.3,461.6 M232.3,461.6 232,464.3 232.7,466.9 232.5,469.6 233.2,472.2 232,475 232.3,477.6 233.2,480.2 234.5,482.7 M235.5,483.6 234.8,483.3 234.5,482.7 M170.7,486.8 172.3,489.2 173.2,492.1 176.1,493.8 176.6,496.9 M159.7,509.7 160.5,509.4 163,508.6 165.2,507.3 166.8,505.1 169.1,504 170.9,502.1 172.7,500.2 175.1,499.3 176.6,496.9 M159.1,516.9 161.5,517.4 163.9,518 166.3,518.6 168.8,518.9 171.2,520.1 173.6,520.8 176,521.5 M165.8,547.4 167.7,545.3 170.1,544.1 172.2,542.4 174.4,540.8 176.6,539.2 M176.6,539.2 177.4,536.7 177.2,534.1 177,531.6 176.3,529.1 175.5,526.6 176,524 176,521.5 M174.1,586.5 176.2,585.5 178.6,584.7 181.1,584 M182.5,568.2 182.9,568.2 182.8,568.6 M181.1,584 181.7,581.4 181.8,578.9 181.4,576.2 181.4,573.6 181.7,571.1 182.8,568.6 M263.8,553.8 262,551.1 259.4,550.2 257.3,548.3 254.8,547.1 252,546.6 249.2,546 247,544.3 244.3,543.5 M263.8,553.8 266,552.4 267.8,550.5 270,549.1 M270,549.1 271,546.8 271.3,544.3 M271.3,544.3 269.8,542.3 267.8,540.5 266.7,538.2 265.8,535.8 264.6,533.6 264.1,530.9 262.7,528.8 260.6,527.2 M258.3,526.8 259.4,527 260.6,527.2 M258.3,526.8 256.2,528.6 255.3,531.3 253.2,533.1 251,534.8 248.9,536.6 247.5,538.9 246.4,541.5 244.2,543.2 M244.2,543.2 244.5,543.3 244.3,543.5 M273.8,515.8 273.5,518.2 272.6,520.6 M249.7,512.9 249.8,515.3 M249.8,515.3 251.5,517.6 253.2,519.9 255.8,521.5 257.3,524 258.3,526.8 M272.6,520.6 269.9,521.4 267.3,522.3 265.3,524.5 263,525.8 260.6,527.2 M234.9,536.9 237,538.9 239.2,540.5 241.9,541.6 244.2,543.2 M232.9,522.5 234.1,525.3 233.5,528.3 234.2,531.1 234.1,534.1 234.9,536.9 M232.9,522.5 235.5,521.7 237.8,520.6 240.2,519.4 242.6,518.5 244.9,517.2 247.5,516.6 249.8,515.3 M237.1,441.2 234.3,440.8 231.5,439.8 228.6,440.4 225.8,440.8 223,440.7 220.2,441 M220.2,441 218.7,443.5 218.6,446.2 219.3,449.2 217.9,451.7 217.1,454.3 M232.3,461.6 229.1,461.6 226.2,460.7 223.2,459.9 220.2,459.2 M220.2,459.2 219.2,456.4 217.1,454.3 M676.8,280.5 674.6,283.1 672.4,285.8 M676.8,280.5 680,281.2 683.2,282 M684.5,289.6 682.1,290.9 679.5,292 677,293.1 M677,293.1 674.7,291.1 673.5,288.5 672.4,285.8 M677,293.1 676.1,295.4 675.3,297.9 M690,298.7 689.8,296.1 687.8,294 687.8,291.3 M690,298.7 688.7,301.4 687.2,303.9 M687.2,303.9 684.9,302.5 682.4,301.5 679.4,301.5 677.2,300 675.3,297.9 M654.6,297.6 657.4,297.3 658.7,294.7 661,293.6 663.1,292.1 M654.6,297.6 652.9,295.5 650.1,294.7 648.5,292.7 M663.7,285.4 663.4,288.8 663.1,292.1 M663.7,285.4 662.9,283.9 M675.3,297.9 672.8,298.9 670.8,300.6 M670.8,300.6 668.9,298.4 667.2,296.1 665.2,294.1 663.1,292.1 M672.4,285.8 669.5,285.2 666.6,285.9 663.7,285.4 M532.2,322.2 534.4,324.3 536,326.9 M534.7,310.9 534,313.7 533.5,316.5 534.1,319.6 532.2,322.2 M537.6,309.4 539.9,310.9 542.5,311.5 544.8,312.3 M537.6,309.4 536.2,310.2 534.7,310.9 M536,326.9 537.8,325 540.6,324.2 542.4,322.3 545.2,321.7 546,320.9 M733.7,322.3 734.3,321.8 736,320.4 M641.8,451.6 643.7,449.6 645.6,447.7 647.9,446.1 648.1,445.8 M631.7,447.4 633.8,446.3 635.7,444.4 637.4,442.3 639.2,440.2 640.7,437.9 M640.7,437.9 643.3,438.6 646,438.8 647.9,439.3 M640.7,437.9 638.5,436.4 638.3,433.5 636.5,431.6 634.9,429.6 M628.3,430.2 629.1,429.7 632,429.7 634.9,429.6 M711,278.8 709.9,281.4 708.5,283.7 707.4,284.7 M697.9,284.7 700.4,285.7 701.2,286.1 M690,298.7 692.8,297.7 695.8,297.9 698.7,297.7 701.5,297.1 M687.2,303.9 687,305.3 687.5,306.5 M687.5,306.5 690.7,306.4 693.3,308.3 696.2,309.4 M704,301.4 703.6,301.9 704,302.6 M696.2,309.4 698.3,307.8 700.2,306.1 701.8,304 704,302.6 M719.9,306.9 721.2,308.6 723.3,308.9 M719.9,306.9 718.3,304 717.4,300.8 716.5,297.7 M730.5,301.5 729.7,304 727.4,305.5 726.4,307.9 M730.5,301.5 729.2,299.3 728.2,297 726.6,295.1 726.3,292.4 725.7,291.8 M726.4,307.9 724.7,307.9 723.3,308.9 M723.7,290.6 720.9,292.3 718.1,294 M716.9,296.3 716.5,297.7 M721,322.1 721.1,320.6 722.2,317.7 723,314.9 724.1,312 723.3,308.9 M717.7,322.5 715.5,321.2 712.6,320.3 710,319 707.6,317 M709.3,310.4 708.2,313.6 707.6,317 M709.3,310.4 711.9,309.4 714.4,308.1 717,307 719.9,306.9 M709.3,310.4 707.2,308 705.3,305.5 704,302.6 M714.9,298 716.5,297.7 M736.2,315.1 734.8,313.8 732.6,312.4 730.7,310.6 728.7,308.9 726.4,307.9 M737.2,300.1 733.9,300.9 730.5,301.5 M719.8,280.1 720.6,282.8 721.8,285.3 722.5,288 723.1,289 M487.6,492.9 486,495.1 484.3,497.1 482.1,498.7 479.6,500 478.2,502.3 477,504.8 M482.2,511.5 482.1,511 480.2,509 478.7,506.9 477,504.8 M466.1,491.2 469.2,490.3 471.6,488.5 473.8,486.4 476.2,484.5 M466.1,491.2 466.9,493.8 468,496.3 469.2,498.7 470.3,501.2 M470.3,501.2 472.6,502.3 474.9,503.5 477,504.8 M465.1,490.8 463.4,493.3 460.8,494.3 458.5,495.6 456,496.8 453.8,498.4 451.4,499.7 M465.1,490.8 465.6,490.8 466.1,491.2 M470.3,501.2 467.7,502.3 465.4,503.9 463.2,505.5 461.3,507.6 459.1,509.2 457.4,511.6 M451.4,499.7 452.9,501.9 454.9,503.9 455.2,506.7 455.9,509.3 457.4,511.6 M466.3,518.5 466,518 463.7,516.8 461.1,515.9 459.7,513.6 457.3,512.5 M457.4,511.6 457.9,512.1 457.3,512.5 M475.4,476.4 473.2,473.7 469.4,473.5 467.2,471 M467.2,471 467.4,468.3 469.1,466.3 470.8,464.2 472.2,462.1 M477.8,462.1 475.7,462.2 472.2,462.1 M226.6,705 227.6,702.2 229.3,699.9 M222.8,688 223.4,687.1 224.6,687.2 M229.3,699.9 227.8,697.5 226.2,695.2 225.3,692.7 224.2,690.2 224.6,687.2 M273.1,718.7 274.3,716.5 276.4,714.8 277.3,712.4 278.8,710.3 M273.1,718.7 273.2,720.2 273.8,721.6 M273.8,721.6 276.3,722.2 278.9,722.4 280.9,724.6 283.3,725.3 286,725.4 M286,725.4 286.6,722.4 286.2,719.4 286.1,716.5 286,713.5 287,710.6 M278.8,710.3 281.5,710.2 284.3,710.7 287,710.6 M265.4,706.5 265.5,709.1 265.8,711.7 265.2,714.3 M265.2,714.3 267.6,716.2 270.2,717.7 273.1,718.7 M275,705.6 271.7,705.3 268.5,705.2 265.4,706.5 M275,705.6 276.9,708 278.8,710.3 M254.4,745.3 256.5,743.1 258.4,740.6 M246.8,733.3 247,732.8 247.5,732.9 M258.4,740.6 257.6,738.9 258,737 M247.5,732.9 250.3,733.6 253,734.2 255.5,735.7 258,737 M307.1,751.5 309.8,751.7 312.4,752 315,751.8 317.6,752.3 M307.1,751.5 304.9,753.2 303.2,755.6 M303.2,755.6 303.3,755.9 303.2,756.2 M303.2,756.2 305,758.3 306.5,760.6 309.8,761.2 310,761.5 M317.6,752.3 317.6,752.3 M319,739.7 315.8,739.2 312.8,740.3 309.7,740.1 306.7,740.4 M306.7,740.4 307.5,743.2 306.9,746 307.5,748.7 307.1,751.5 M319,739.7 318,742.1 317.6,744.6 316.8,747.1 316.5,749.6 317.6,752.3 M302.7,773.3 305.3,772.5 307.6,771.3 308.6,770 M295.9,765.8 298,763.6 300.2,761.5 301.9,759 303.2,756.2 M330.9,737.7 330,737.9 327.3,738.5 324.5,739.1 322,738.9 319.3,739.4 M319.3,739.4 319.2,739.7 319,739.7 M217.3,330 220,330.9 222.6,330.1 225.2,330.4 227.8,329 230.5,329.3 M230.5,329.3 230.3,326.5 229.2,323.7 230.3,321.1 230.1,318.4 230.6,315.7 231.1,313 231.5,310.3 232,307.7 M209.9,323.4 213,324.9 215.4,327.2 217.3,330 M211,309 213.3,307.1 216.3,307 218.8,305.6 221.5,304.7 223.9,303.2 M232,307.7 229.1,306.5 226.6,304.6 223.9,303.2 M206.4,281.2 208.9,282 211.2,283.4 213.5,284.8 216.2,285.1 218.8,285.8 221.4,286.2 M223.9,303.2 222.5,300.5 222.9,297.5 222.8,294.7 222.6,291.8 221.8,289 221.4,286.2 M169.5,463.9 171.6,462.5 173.4,460.4 175.9,459.6 178.8,459.9 181.1,458.9 183.3,457.6 M163.9,444.3 165.9,442 167.3,439.1 170.2,437.8 172.7,435.9 M183.3,457.6 183.5,454.3 184.5,451.3 M172.7,435.9 174,438.4 175.7,440.6 177,443.1 178.6,445.3 181.5,446.6 182.5,449.3 184.5,451.3 M158.3,411.3 160.5,413 161.2,415.9 163.2,417.7 165.4,419.4 167.5,421.2 169,423.5 171.7,424.7 173.3,426.9 174.3,429.7 M172.7,435.9 173.8,432.9 174.3,429.7 M217.8,180.9 219.4,180.3 221.9,180.2 224.5,180.3 M217.4,164 219.1,163.6 220.7,163.9 M220.7,163.9 223.2,165.9 225.5,168.2 227.6,170.6 M224.5,180.3 225.5,178 226.5,175.6 227.6,173.3 227.6,170.6 M218.2,241.2 217.1,238.1 215.7,235.3 M218.2,241.2 221.2,241.5 223.7,239.4 226.6,239.1 229.3,238.2 M215.7,235.3 216.4,232.7 217.9,230.6 218.9,228.2 220.4,226.1 221.8,223.9 M229.3,238.2 229.5,235.4 229.7,232.6 230.9,230 230.8,227.2 M230.8,227.2 228.3,225.6 226.4,223.4 M226.4,223.4 224,223.2 221.8,223.9 M215.5,250.7 216.6,247.6 217.3,244.4 218.2,241.2 M207.5,232.9 210.5,232.7 212.8,234.9 215.7,235.3 M219.1,257.5 222.2,257.5 225,258.6 227.8,260 230.9,260.1 M237.8,246.8 236.8,249.1 234.7,250.8 234.8,253.7 233.5,255.8 232.9,258.4 230.9,260.1 M237.8,246.8 235.4,244.9 233.5,242.5 231.4,240.4 229.3,238.2 M214.7,219.6 217.1,221 219.2,222.9 221.8,223.9 M221.6,204 222.4,203.6 222.6,204.5 M228.5,216.9 226.8,214.7 226.1,212 224.4,209.8 223.8,207 222.6,204.5 M228.5,216.9 226.7,219.9 226.4,223.4 M212.7,153.9 215.3,152.9 217.3,150.8 219.9,149.8 222.2,148.4 225,147.7 M220.7,163.9 222.7,161.8 225.1,160.4 227.1,158.4 229.4,156.8 M229.4,156.8 228.2,154.6 226.4,152.6 225.1,150.5 225,147.7 M218.4,137.8 219.7,140.2 222,141.9 223.2,144.4 225.3,146.2 M225,147.7 224.9,146.9 225.3,146.2 M222.2,195.8 224.5,193.8 227.3,192.6 230,191.4 M224.5,180.3 226.1,181.4 227.9,182.1 M230,191.4 230,188.1 228.1,185.3 227.9,182.1 M249.6,293.2 248.5,296.2 246.9,299.1 246.5,302.4 M254.4,313.9 251.9,312.2 250.3,309.9 249.7,307 248.4,304.5 246.5,302.4 M254.4,313.9 256.4,312.2 258.9,311.6 261.2,310.7 263.5,309.7 265.5,308 267.9,307 270.4,306.6 M270.4,306.6 270.8,303.9 269.8,301.6 268.6,299.3 M249.6,293.2 252.2,294.1 254.9,293.8 257.6,293.1 M257.6,293.1 259.8,294.4 261.7,296.1 263.5,298.1 265.8,299.2 268.6,299.3 M320.9,422.4 318.4,420.7 315.5,420.4 312.7,419.8 310,419 306.9,419.8 304.2,418.6 M320.9,422.4 323.3,421 325.7,419.6 327.8,417.8 M304.2,418.6 305.3,416.1 305.4,413.3 306.8,410.8 306.9,408 307.3,405.3 309.4,403.1 M309.4,403.1 312.1,402 315,402.4 317.8,402.2 320.6,401.7 323.4,401.8 M327.8,417.8 327.6,415 326.5,412.5 325.5,409.9 325.6,407 324,404.5 323.4,401.8 M323.4,401.8 325,399.1 326.3,396.1 M325.8,393.7 325.8,395 326.3,396.1 M325.8,393.7 323.7,392.2 321.8,390.2 319.5,388.9 316.9,388.1 314.8,386.6 312.6,385.1 M309.4,403.1 307.7,400.7 306,398.2 304.1,395.9 M304.1,395.9 305.5,393.5 306.9,391.1 308.6,389 310.2,386.8 312.6,385.1 M254.4,313.9 255.5,316.7 254.9,319.7 255.3,322.7 M239.9,336.3 238,333.8 235.3,332.5 232.8,331 230.5,329.3 M232,307.7 234.2,306.2 236.7,305.6 239.1,304.8 241.9,304.8 244,303 246.5,302.4 M239.9,336.3 242.6,336.9 245.3,336.2 M245.3,336.2 247.5,333.5 250.6,332.1 M255.3,322.7 253.5,324.7 252.4,327.1 251.7,329.7 250.6,332.1 M327.4,644.7 325.9,642.5 323.9,640.7 322.7,638.3 320.8,636.4 318.8,634.6 317.6,632.2 317,629.5 316.1,627 M327.4,644.7 325,646.4 324,649.3 321.8,651.2 M321.8,651.2 318.9,651.4 316.1,652.1 M316.1,652.1 314.3,650 311.4,649.3 308.9,648.1 306.4,646.8 305.1,644.2 303.4,641.9 M303.4,641.9 304.7,639.8 305.8,637.5 306.6,634.9 308.9,633.3 311.1,631.7 312.3,629.4 312.7,626.7 M316.1,627 314.5,626.1 312.7,626.7 M293.8,654.8 295.3,652.7 297.1,650.8 297.6,648.2 297.9,645.6 299,643.3 M299,643.3 301.3,643.1 303.4,641.9 M293.8,654.8 295.3,657.5 297.5,659.4 300,660.8 302.9,661.5 305.3,663 307.6,664.7 M307.6,664.7 309.6,663 311.1,661 313,659.2 313.6,656.5 315.3,654.6 316.1,652.1 M366.9,589.4 369.4,590.9 371.8,592.6 374.6,593.3 M374.6,593.3 375.6,595.7 378.2,597.6 378.7,600.1 378.7,600.2 M366.9,589.4 365,591.5 363.9,593.9 362.7,596.3 361.9,598.8 362.1,601.7 361.9,604.5 360.1,606.6 M360.1,606.6 360.9,608.5 M329.6,668.1 330,665 328.3,662.8 327,660.5 326.1,658 324.1,656 322.4,653.8 321.8,651.2 M329.6,668.1 332.2,668 334.5,666.9 337.2,667.3 M327.4,644.7 330.2,645.9 333,646.6 335.7,646.1 337.7,645.5 M406.6,560.5 403.8,561.5 401.4,563.2 399.3,565.4 M399.3,565.4 399.1,568.1 399.4,570.8 400,573.4 400.4,574.5 M368.5,577.8 371.2,577.7 373.9,578.4 376.6,578.4 379.3,578.9 382.1,578 384.8,578 M368.5,577.8 366.6,580.8 363.9,583.1 M363.9,583.1 365.4,586.3 366.9,589.4 M374.6,593.3 377.5,593 380.5,593 383,591.9 385.7,591 388.1,589.2 388.3,589.1 M384.8,578 386.2,580.1 387.8,582 389.2,584.1 389.9,584.8 M399.3,565.4 396.9,563.8 394.4,562.4 391.5,562.1 M407.9,547.2 405,547.1 402.2,547.3 399.4,547.4 396.6,548.8 393.7,548.6 390.9,548 M390.9,548 390,550.9 390.9,553.7 391,556.5 391.8,559.3 391.5,562.1 M384.8,578 385.3,575.4 385.5,572.8 385.2,570.1 386.7,567.6 386.5,565 M386.5,565 388.9,563.4 391.5,562.1 M383.9,487.6 384.2,484.8 382.6,482 382.6,479.2 383.1,476.4 383.2,473.6 M383.9,487.6 381.3,488.9 378.3,488.9 375.5,489.8 372.8,490.6 M372.8,490.6 370.9,487.7 371.1,484.5 370.8,481.4 370.5,478.3 M383.2,473.6 380.5,474 378.1,475.3 375.1,475 372.8,476.8 370.5,478.3 M288,405.1 290.2,406.5 293.3,407 294.6,409.3 295.8,411.7 297.9,413.2 299.4,415.3 300.5,417.9 302.7,419.2 M288,405.1 286.7,407.7 285.2,410.1 282.8,411.7 281.3,414.1 279.2,415.9 276.9,417.6 M282.3,428.6 285,428.8 287.6,428.9 290.2,428.1 293,429 295.5,427.9 298.1,426.8 M282.3,428.6 279.9,426.7 278.1,424.4 276.9,421.6 M302.7,419.2 300.8,421.5 299.6,424.3 298.1,426.8 M276.9,417.6 277.7,419.6 276.9,421.6 M279,439.5 279.9,436.8 280.6,434.1 281.3,431.3 282.3,428.6 M279,439.5 281,441.3 282.9,443.2 284.9,445 286.7,446.9 287.4,449.7 M287.4,449.7 289.8,448.8 292.3,448.3 295,448 295.3,448 M303.8,442.7 302.8,441.1 303.3,438.2 301.4,436.2 301.2,433.7 299.6,431.6 298.3,429.4 298.1,426.8 M264.1,443.9 263.9,441.4 263.8,438.8 263.3,436.3 262.2,434 260.3,431.9 259.9,429.4 259.3,426.9 M264.1,443.9 267,444.4 269.3,443.1 271.8,442.4 274,440.7 276.5,440.3 279,439.5 M259.3,426.9 261.7,425.8 264.3,425.5 266.9,424.9 269.8,425.3 272,423.8 274.3,422.3 276.9,421.6 M320.1,435.9 320.2,433.2 320.6,430.5 320.3,427.8 320.5,425.1 320.9,422.4 M320.1,435.9 317.7,437 315.9,438.7 313.8,440.2 312,442 311.7,442.3 M304.2,418.6 303.4,418.8 302.7,419.2 M232.9,522.5 230.5,521.5 228.2,520.1 226.3,518.3 M235.2,496.9 232.2,497.5 230.4,500 228,501.6 225.9,503.6 223.5,505.2 M226.3,518.3 226.3,515.5 225.9,512.9 225.3,510.3 223.5,508 223.5,505.2 M226.3,518.3 223.9,520 221.2,521.2 218.3,522.2 216.5,524.8 214,526.4 M234.9,536.9 232.5,538.1 229.8,538.8 227.3,539.8 224.4,539.4 221.6,539.6 219.3,541.2 217.1,543 M214,526.4 213.5,529.3 213.7,532.2 215.8,534.7 216.2,537.5 217,540.2 217.1,543 M184.4,504.6 183.4,507.2 183.4,510.1 181.7,512.5 180.4,515.1 180.8,518.1 M184.4,504.6 187.1,505.3 190.1,504.7 192.7,506.2 195.5,505.9 198.4,506 201,507 203.7,507.7 M180.8,518.1 183.1,519.4 185.6,520.3 188.1,521.1 190,523.1 191.7,525.3 194.2,526.3 196.7,527.1 M203.7,507.7 203.5,510.6 203.1,513.5 203.1,516.4 204.1,519.3 203.8,522.1 M196.7,527.1 199.1,525.6 201.4,523.8 203.8,522.1 M176.6,496.9 179.4,497.6 181.7,499.2 M181.7,499.2 184,501.4 184.4,504.6 M176,521.5 178,519.2 180.8,518.1 M176.6,539.2 179.1,539.8 181.6,540.3 184.2,540 186.5,541.3 189.1,541.7 191.5,542.2 194.1,542.1 M194.1,542.1 194.7,539.6 195.2,537.1 195.7,534.7 196,532.1 195.9,529.6 196.7,527.1 M211.2,500.9 213.5,502 216,502.9 218.4,504.1 220.7,505.3 223.5,505.2 M211.2,500.9 209.1,502.4 207.6,504.5 205.3,505.7 203.7,507.7 M214,526.4 211.6,525 209.3,523.4 206.1,523.8 203.8,522.1 M242.6,619.5 243.8,622.1 245.9,623.8 247.6,625.9 249.8,627.6 250.9,630.1 253,631.9 M242.6,619.5 245,618.3 247.3,616.8 250.1,616.4 252.8,616 255.2,614.7 257.6,613.4 260,612.2 M263.6,628.9 262.8,626.2 263.3,623.5 263.9,620.8 263.9,618.1 264.1,616.7 M253,631.9 255.7,631.3 258.1,629.8 260.9,629.5 263.6,628.9 M260,612.2 262.5,613.4 263.9,615 M194.2,468.6 195.1,468.4 195.9,468.3 M194.2,468.6 192.7,471.2 190.4,473.1 188.9,475.7 M195.9,468.3 198.1,469.5 200.4,470.5 203.1,470.9 205.3,472 207.5,473.2 210,473.9 211.6,476.3 M188.9,475.7 189.2,478.2 189.4,480.8 189.5,483.4 190.5,485.8 191.6,488.2 M191.6,488.2 194.4,489 197.3,488.3 200.2,488.3 203.1,488.2 205.9,488.8 208.7,489.9 M208.7,489.9 209.5,487.4 210.1,484.7 211.7,482.5 212.9,480.2 M212.9,480.2 212.4,478.1 211.6,476.3 M184.5,451.3 187.1,450.2 190,449.6 192.3,447.8 195.1,447.1 197.7,445.9 M203.6,453.5 202,450.7 199.1,448.9 197.7,445.9 M203.6,453.5 202.7,456.2 201.1,458.5 198.6,460.2 197.6,462.8 196.7,465.5 195.9,468.3 M183.3,457.6 185.1,459.3 186.7,461.5 187.9,463.9 189.9,465.5 192.4,466.7 194.2,468.6 M175.7,476.4 178.4,476.9 181,476.1 183.6,476.3 186.2,476 188.9,475.7 M220.2,459.2 219.4,461.9 217.6,464 215.5,466 213.4,468 212.2,470.5 211.2,473 211.6,476.3 M217.1,454.3 214.4,454.1 211.7,453.8 209.1,452.3 206.4,453 203.6,453.5 M181.7,499.2 184.7,497.9 185.7,494.8 188,492.9 189.7,490.5 191.6,488.2 M211.2,500.9 209.5,498.4 210.2,495.3 210.2,492.4 208.7,489.9 M234.5,482.7 231.7,483.1 229.1,481.9 226.4,481.4 223.9,479.8 221.2,479.5 218.4,479.6 215.6,479.9 212.9,480.2 M319.3,739.4 319,736.3 319.2,733.2 319.4,730.1 M329.9,727.8 328.8,728.2 326.4,727.3 323.7,728.2 321.2,727.8 M319.4,730.1 320.6,729.2 321.2,727.8 M329.6,668.1 328.2,669.3 327.8,671 M307.6,664.7 307.1,667.2 308.4,669.3 M327.8,671 325,671.2 322.2,671.8 319.4,671.8 316.7,670.3 313.9,670.5 311.1,670.5 308.4,669.3 M516.2,459.6 516.7,456.1 515.5,452.7 M515.5,452.7 512.9,451.4 511.2,449.1 M500.6,459.9 501.2,458 502.2,455.4 502.2,452.5 502.7,449.8 M511.2,449.1 508.3,448.8 505.6,450.3 502.7,449.8 M523.7,449.5 524.1,446.6 526,444.2 526.5,441.3 527.2,438.6 M523.7,449.5 526,451.8 528.7,453.3 531.8,454.2 534.6,455.6 M539.8,450.2 538.2,448 536.5,445.9 536.3,442.8 535.5,440.1 532.9,438.7 530.7,436.9 M539.8,450.2 536.9,452.2 535.5,455.5 M530.7,436.9 528.9,437.5 527.2,438.6 M534.6,455.6 535,455 535.5,455.5 M511.2,449.1 510.9,446.1 511.6,443.4 514,441 513.5,438 514.2,435.2 M514.2,435.2 516.8,435.8 519.5,436.1 521.9,437.8 524.7,437.6 527.2,438.6 M515.5,452.7 518.3,451.8 521.1,451 523.7,449.5 M523.1,466.1 524.6,463.9 526.4,462 529.3,461.3 531,459.3 532.9,457.6 534.6,455.6 M515.6,426.2 518.2,425.6 520.7,424.9 523.3,424.4 525.8,423.6 528.3,422.9 531,423.1 M515.6,426.2 514.2,429 512.1,431.4 M512.1,431.4 513.3,433.2 514.2,435.2 M533.7,431.6 531.7,429.1 531.1,426.2 531,423.1 M533.7,431.6 532.5,434.4 530.7,436.9 M540.7,465.4 539,463.1 537.9,460.5 536.2,458.3 535.5,455.5 M512.1,431.4 508.9,431.9 505.9,430.5 M498.9,416.2 498.5,416.4 498.7,416.7 M513.7,414.8 510.7,414.4 507.9,416.2 504.9,416.2 501.9,417 498.9,416.2 M513.7,414.8 513,417.8 514.2,420.6 515.2,423.3 515.6,426.2 M498.7,416.7 499.4,419.3 500.9,421.4 500.9,424.3 501.7,426.9 503.4,428.9 505.9,430.5 M501.1,448.7 501.6,449.6 502.7,449.8 M501.1,448.7 499.1,446.4 498.8,443.7 498.8,441 498.8,438.2 498.7,435.5 M498.7,435.5 500.7,433.3 503.7,432.5 505.9,430.5 M536,326.9 535.8,328.5 535.8,330.1 M535.8,330.1 536.5,330.6 536.6,331.3 M536.6,331.3 539,332.8 541.8,333.2 544.1,334.8 546.8,335.3 549.6,335.3 M549.6,335.3 551.7,333.7 553.5,333 M514.8,350.7 515.6,347.9 516.4,346 M514.8,350.7 517.2,352.7 519.1,355.1 520.7,357.8 M520.7,357.8 523.5,357.6 525.4,355.9 527.2,354.1 M527.2,353.9 526.7,351.4 526.2,348.8 524.7,346.4 524.7,346.3 M536.6,331.3 536.1,334.1 535.9,336.9 535.7,339.7 535.1,342.4 M525,332.5 525.1,332.4 527.5,331 530.2,330.2 533.1,330.4 535.8,330.1 M528.1,343.1 529.9,343 532.6,343.1 535.1,342.4 M549.6,335.3 549.4,338 549.5,340.8 548.4,343.4 548.1,346.1 547.7,347.1 M535.1,342.4 536.2,344.9 537,346.7 M707.6,317 706.9,317.6 706,317.9 M702.2,329.7 702.2,329.1 703.4,326.4 703.9,323.4 705,320.6 706,317.9 M696.2,309.4 697.5,312.6 698.5,316 M706,317.9 703.8,316.3 701.2,316 698.5,316 M651.4,428.7 651.3,428.6 649.2,426.8 646.5,426 644.5,424.1 M634.9,429.6 636,427.8 637.1,426 M644.5,424.1 641.9,424.6 639.7,425.8 637.1,426 M436.7,420.9 435.7,422.6 M433.4,434.4 433.2,435.3 M436.7,420.9 436.8,418.4 435.1,416.6 M431.5,435.5 429.7,433.4 426.8,432.8 424.8,430.9 422.2,429.8 419.5,428.8 418.1,426.1 M431.5,435.5 432.4,435.6 433.2,435.3 M418.1,426.1 418.1,424.2 419,422.4 M419,422.4 421.5,420.9 423.8,418.8 426.5,417.9 429.4,417.7 432.1,416.8 435.1,416.6 M367.8,430.5 368.5,428.4 368.2,426.2 M368.2,426.2 371,424.9 374,424.9 376.8,423.7 379.7,423 M379.3,441.2 380.6,441.3 381.4,440.1 M379.3,441.2 378,438.7 375.8,437.3 373.4,436 372,433.7 369.7,432.3 367.8,430.5 M381.4,440.1 382.6,437.3 383.5,434.4 384.7,431.6 385,428.4 M385,428.4 383.2,426.6 381,425.2 379.7,423 M446.4,472.2 449.3,472.1 452.1,471.2 455,471.7 457.8,471.1 460.7,471.1 M446.4,472.2 445.8,475.2 445.6,478.2 445.1,481.2 445.3,484.3 M445.3,484.3 445.7,484 445.4,484.4 M445.4,484.4 448.4,484.3 451.3,484.7 454.3,485.6 457.3,484.9 460.2,484.7 M460.2,484.7 460.5,482.1 460,479.4 460,476.8 460.9,474.3 461.7,471.8 M461.7,471.8 461.4,471.2 460.7,471.1 M444.5,467.3 444.6,468.9 445.8,471.4 M458.6,457.9 459.5,459.2 459.2,462.3 459.2,465.3 459.6,468.3 460.7,471.1 M445.8,471.4 446.7,471.4 446.4,472.2 M451.4,499.7 449.6,498.8 447.7,498.3 M447.7,498.3 448.2,495.4 446.7,492.7 446.1,490 445,487.3 445.4,484.4 M465.1,490.8 463,489.2 462.7,486.1 460.2,484.7 M467.2,471 464.5,472.2 461.7,471.8 M501.1,448.7 498.5,449.9 495.7,449.8 494.3,449.7 M489,451.3 489.7,450.5 M472.2,462.1 470.2,459.5 469.1,457.4 M458.9,456.5 460.1,456.3 M476.5,449.1 476,448.5 474.9,447.7 M293.3,679.2 292.2,676.3 289.1,674.6 287.6,672 286.7,669 M293.3,679.2 296.5,679 299.2,677.6 301.8,675.5 305,675.4 M293.8,654.8 292,654.7 290.8,656.2 M305,675.4 306.8,672.4 308.4,669.3 M290.8,656.2 289.6,658.6 289.3,661.3 287.3,663.6 286.6,666.2 286.7,669 M234.2,641.3 235.6,641.8 236.4,643 M234.2,641.3 232.1,643 229.4,643.5 226.9,644.3 224.2,644.7 221.9,646.1 219.2,646.3 217.2,648.4 215.1,650.1 M236.4,643 235.8,645.7 237.4,648 236.8,650.7 237.8,653.1 M237.8,653.1 236.1,655.2 234,656.9 232,658.7 230,660.4 229.1,663.1 M229.1,663.1 227.2,660.5 224.5,659.2 221.5,658.4 218.8,657.1 216.4,655.4 M215.1,650.1 215,652.9 216.4,655.4 M249.3,640.5 246.7,640.4 244,640.6 241.6,642.1 239.2,643.4 236.4,643 M249.3,640.5 251,637.8 250.8,634.4 253,631.9 M241.6,619.3 239.3,621 237.2,622.9 235.2,624.9 233.6,627.5 230.4,628.1 M230.4,628.1 230.1,631 232.4,633.2 233.6,635.7 233.9,638.5 234.2,641.3 M241.6,619.3 242.2,619 242.6,619.5 M259.7,651 257.7,648.8 255.5,646.9 254.2,644 251.5,642.6 249.3,640.5 M259.7,651 257.8,653.4 255.2,654.7 252.6,656.1 250.4,658 248,659.6 M248,659.6 245.4,658.1 242.6,656.8 240.5,654.5 237.8,653.1 M207.4,670.8 208.1,668.3 210.5,666.7 211.3,664.2 213.7,662.7 215.4,660.7 216.3,658.3 216.4,655.4 M206.7,671 207.4,670.8 M209.9,645.8 212.8,647.5 215.1,650.1 M209.9,645.8 207.2,645.4 204.6,645.9 202,646.8 199.3,646.3 197.2,646.8 M277.1,697 274.4,696.4 272.1,694.9 269.4,694.2 266.7,693.6 M275,705.6 274.8,702.6 276.3,699.9 277.1,697 M265.4,706.5 263.8,704.7 262.3,702.9 M262.3,702.9 263.2,700.1 263.1,697 264.9,694.5 M266.7,693.6 265.7,693.7 264.9,694.5 M287.2,700 289,697.5 290.7,694.9 292.7,692.5 294.1,689.8 M287.2,700 284.4,698.4 281.7,696.8 278.4,696.3 M278.4,696.3 279.1,693.6 279.7,690.8 281,688.2 281.5,685.4 M281.5,685.4 284,684.5 286.4,682.9 288.9,682 291.8,682.2 M294.1,689.8 293.8,687.1 291.5,685.1 291.8,682.2 M289.9,708.4 290.3,708.3 290.7,708.5 M290.7,708.5 293.5,708.1 295.2,706.1 297.5,705.1 298.7,702.5 301.1,701.5 302.8,699.6 M289.9,708.4 288.3,705.8 288.7,702.6 287.2,700 M302.8,699.6 303.1,697.9 302.2,696.4 M302.2,696.4 300.1,694.9 298.5,692.6 296.5,691 294.1,689.8 M289.9,708.4 288.2,709.1 287,710.6 M277.1,697 277.9,697 278.4,696.3 M271.5,680.9 270.9,683.6 270.3,686.3 269.3,688.8 267.5,691 266.7,693.6 M271.5,680.9 273.9,682.4 276.6,682.9 278.9,684.6 281.5,685.4 M266.8,672.5 267.8,675.7 270.1,678.1 271.5,680.9 M293.3,679.2 292.6,680.7 291.8,682.2 M269,668.8 268.2,670.8 266.8,672.5 M269,668.8 271.5,668.9 274,669.3 276.6,670.4 279.1,669.3 281.6,669.5 284.2,669.3 286.7,669 M313.2,686.7 310.7,685 309.7,682.3 308.5,679.7 307.5,677 305,675.4 M302.2,696.4 304.6,694.6 306.2,692.1 308.4,690.1 311.3,688.9 313.2,686.7 M287.3,763.3 287.3,760 286.3,756.8 M303.2,755.6 300.7,754.8 298.6,753.3 296.9,751.4 294.7,750.1 M286.3,756.8 288,754.7 290.3,753.2 292.4,751.5 294.7,750.1 M306.7,740.4 305.7,739.8 304.9,739 M304.9,739 302.3,740.6 299.2,740.3 296.5,741.4 293.8,742.3 M294.7,750.1 293.5,747.6 293.9,744.9 293.8,742.3 M246.6,722.2 248.1,719.6 248.9,716.8 M246.6,722.2 248.2,724.2 249.1,726.6 M249.1,726.6 251.6,725.9 254.1,725.5 256.8,725.1 259,723.7 M248.9,716.8 251.9,716.1 254.9,715.4 M254.9,715.4 257.3,716.4 259.2,718.2 M259.2,718.2 258.4,720.9 259,723.7 M239,721.4 241.5,722.5 244.1,721.9 246.6,722.2 M247.5,732.9 248.8,729.9 249.1,726.6 M263.9,730.1 261.2,731.8 260.1,734.8 258,737 M263.9,730.1 261.9,728.2 260.7,725.8 259,723.7 M262.3,702.9 259.7,704.2 256.8,703.9 254.1,704.2 M254.1,704.2 254.2,707 253.9,709.9 254.8,712.6 254.9,715.4 M265.2,714.3 262.2,716.2 259.2,718.2 M268.1,730.1 269.2,727.7 271.7,726.4 273.1,724.2 273.8,721.6 M268.1,730.1 266,730.1 263.9,730.1 M252.5,703.6 250.9,701.3 249.5,699 248.7,696.3 M252.5,703.6 249.8,704.7 247.2,705.9 245.8,708.8 243.2,710.1 M248.7,696.3 245.4,696.3 242.2,696.9 239.2,698.4 M243.2,710.1 241.7,709.3 240.1,709.9 M238.5,699.3 238.5,698.5 239.2,698.4 M238.5,699.3 238.9,701.9 238.9,704.6 240.1,707.1 240,709.9 M240,709.9 240.3,709.5 240.1,709.9 M254.1,704.2 253.1,704.3 252.5,703.6 M251.8,685.8 253.8,687.6 256.5,688.2 258.6,689.8 260.9,691.1 263.3,692.1 264.9,694.5 M251.8,685.8 251.3,688.5 250.5,691.2 249.9,693.9 248.7,696.3 M248.9,716.8 246.1,715.3 245,712.4 243.2,710.1 M237.7,719.6 238.5,717.2 239.1,714.8 239.1,712.2 240.1,709.9 M230.2,709.5 233.5,710.1 236.8,710 240,709.9 M229.3,699.9 232.4,700.7 235.4,698.9 238.5,699.3 M230.8,227.2 233.5,227.9 236.1,227.2 M237.8,246.8 240.8,246.4 243.3,245.2 245.3,243 M245.3,243 244.8,240.7 245.9,238.6 M245.9,238.6 244.4,236.6 242.8,234.7 241.3,232.7 239.7,230.7 237.4,229.4 236.1,227.2 M676.8,280.5 676.8,277.8 676.9,275.1 676.7,272.5 676.6,271.7 M230.9,260.1 232,262.1 233.5,263.9 M221.4,286.2 223.6,284.8 226.1,283.9 228.7,283.1 230.5,280.9 M233.5,263.9 232.1,266.6 230.8,269.3 231.8,272.4 231.3,275.2 231,278.1 230.5,280.9 M249.6,293.2 248.9,292.1 248.6,290.8 M230.5,280.9 232.5,282.6 234.6,284 236.7,285.6 239,286.7 241.5,287.6 244.4,287.8 246.8,288.8 248.6,290.8 M187.2,426.3 189,428.2 191,429.7 193.1,431.2 195.8,431.8 197.7,433.5 199.3,435.6 M187.2,426.3 188.8,424.2 189.1,421.5 190.8,419.4 190.6,416.5 192,414.3 194,412.4 M194,412.4 196.5,412.7 199.1,413.5 201.6,412.6 204.1,413.5 206.6,412.8 209.1,412.5 211.7,412.4 M199.3,435.6 201.8,434.7 204.5,434.5 207,433.5 209.3,431.9 211.8,430.7 214.6,431.1 M214.6,431.1 215.3,428 216.1,425 217.5,422.3 218.8,419.5 M218.8,419.5 217.1,417.5 214.9,416.2 213.2,414.4 211.7,412.4 M174.3,429.7 177.1,430.1 179.9,430 182,427.6 184.5,426.5 187.2,426.3 M197.7,445.9 196.9,443.1 197.7,440.6 198.5,438.1 199.3,435.6 M161.8,400.5 164.6,400.7 167.1,399.9 169.9,399.9 172.3,398.2 175,397.8 177.4,396.1 180,395.6 182.9,396.4 185.6,396.2 M185.6,396.2 185.5,399.2 186.5,401.6 187.5,404 190.3,405.5 191.2,408 193.5,409.7 194,412.4 M220.2,441 219.3,438.3 217.1,436.2 215.5,433.8 214.6,431.1 M159.1,370.9 161.7,370.2 164,368.3 166.7,368.2 169.4,367.8 172,367 174.7,366.6 177.3,366.2 179.6,364.4 182.4,364.2 M185.6,396.2 187.7,394 189.9,391.9 190.2,388.5 192.5,386.5 194.2,384.1 M194.2,384.1 192.8,381.9 191.7,379.6 190.8,377.1 190.3,374.5 188.9,372.3 188.1,369.8 186.5,367.8 184,366.2 182.4,364.2 M181.9,336.9 184,339.1 185,341.8 184.8,345.1 186.9,347.2 188,349.9 M217.3,330 215.1,331.8 213.8,334.1 212.8,336.4 213.1,339.4 212.2,341.8 211.8,344.4 210.1,346.5 209.7,349.1 207.9,351.1 M207.9,351.1 205,351.5 202.2,350.2 199.4,350.4 196.6,348.7 193.7,349.8 190.9,349.8 188,349.9 M188,349.9 186,351.9 186,354.6 184.3,356.7 183.9,359.3 183.9,362.1 182.4,364.2 M235.8,167.2 235.9,164.3 234.3,162.1 233,159.7 231.6,157.4 M235.8,167.2 238.6,166.9 241.2,165.8 243.9,165.3 M243.9,165.3 244.2,163.1 244.9,160.9 M244.9,160.9 243.7,158 241.3,155.9 239.4,153.6 M231.6,157.4 234.5,156.7 236.7,154.7 239.4,153.6 M227.6,170.6 231.1,169.9 234.7,169.3 M234.7,169.3 235,168.1 235.8,167.2 M229.4,156.8 230.6,156.6 231.6,157.4 M239.4,153.6 239.8,151.5 240.9,149.7 M254.3,156.8 252.1,158.2 249.5,158.7 247.1,159.4 244.9,160.9 M254.3,156.8 253.2,154.4 252.4,151.9 251.2,149.6 249.7,147.4 M240.9,149.7 243.8,148.7 247,148.9 249.7,147.4 M225.3,146.2 227.4,144.5 230.4,144.3 232.6,142.9 234.8,141.2 M240.9,149.7 239.7,147.3 238.2,145.2 236.7,143 234.8,141.2 M230.7,128.3 232.8,130.6 234,133.5 236.4,135.5 M236.4,135.5 234.9,138.2 234.8,141.2 M282.7,179.5 281.7,181.6 M291.3,181.4 290.6,183.8 289.9,186.3 289.4,189 289.6,192 M281.7,181.6 283.3,183.7 284.5,186 285.9,188.3 288.3,189.7 289.6,192 M302,192.6 300.2,193.1 297.6,193.1 294.9,193.2 292.3,193 289.7,192.7 M289.6,192 289.8,192.3 289.7,192.7 M261.3,171.1 263.8,173.1 266.5,175.1 268.6,177.7 M261.3,171.1 263.5,169.5 264.2,166.5 266.7,165.1 M268.6,177.7 270.8,176.3 272.7,174.5 273,173.5 M266.7,165.1 269.1,166.7 269.7,166.6 M262.7,156.1 265.1,154.4 267.7,153.5 270.2,152.2 271.1,152.3 M262.7,156.1 263.9,159.1 266.1,161.8 266.7,165.1 M268.6,177.7 269.1,178.6 268.6,179.5 M281.7,181.6 278.5,182.7 275.5,184.3 M268.6,179.5 270.5,181.6 272.8,183.2 275.5,184.3 M236.1,227.2 237.6,225.1 239.5,223.4 241.8,222.2 243.8,220.7 M228.5,216.9 231,215.9 233.6,215.1 235.6,213.1 237.9,211.7 M237.9,211.7 239.9,213.6 241.4,215.8 243.1,217.9 243.8,220.7 M532.2,322.2 529.7,321.5 527.1,321.2 526.6,321.3 M534.7,310.9 532.3,309.8 529.8,309.3 527.5,307.9 527.1,307.9 M538,301 537.9,301.8 538,304.3 537.2,306.9 537.6,309.4 M437.5,327 434.9,324.8 431.7,323.6 M437.5,327 436,329.4 436,332.1 436.9,334.9 435.7,337.4 M423.1,334 425.7,334.5 428.3,334.9 430.8,335.7 433,337.3 435.7,337.4 M423.1,334 423.6,332.4 422.3,331.3 M431.7,323.6 429.9,326.2 427.9,328.5 424.6,329.3 422.3,331.3 M445.5,324.5 445.2,324.6 442.6,325.2 440.2,326.4 437.5,327 M450.7,331 449.7,333.3 447.9,335.4 M435.7,337.4 435.4,337.8 435.9,337.7 M447.9,335.4 444.7,334.9 442,336.7 438.9,336.7 435.9,337.7 M420.2,340.9 421.7,343.7 424,345.7 426.2,347.7 428.5,349.6 M420.2,340.9 421.5,338.7 422.2,336.3 423.1,334 M435.9,337.7 436,338.6 436,339.6 M436,339.6 433.7,341.7 432.2,344.5 430.5,347.1 428.7,349.6 M428.5,349.6 428.6,349.4 428.7,349.6 M326.3,396.1 328.8,396.5 331.4,396.6 333.9,397 336.3,398.1 338.9,398.3 341.5,398.3 344,399.1 M328.6,418 331.2,416.8 333.5,414.9 336.1,413.7 339.1,413.3 341.8,412.3 M328.6,418 328.2,418.1 327.8,417.8 M341.8,412.3 341.7,409.6 342.9,407.1 341.7,404.1 342.3,401.5 344,399.1 M268.8,400.2 268,397.3 265.8,395.8 264.9,393 262.3,391.9 260,390.5 258,388.7 255.6,387.4 254.1,385.2 M268.8,400.2 271.1,398.8 274,398.5 276.8,398.2 279,396.4 M263.6,380.1 261.6,382 258.6,382.1 256.3,383.5 254.1,385.2 M263.6,380.1 266,381.3 268.6,382 271.2,382.8 273.8,383.6 275.8,385.6 278.2,386.7 M278.2,386.7 279.8,389.9 278.6,393.2 279,396.4 M266.7,407.8 268.2,410.4 269.9,412.6 272.5,414.1 274.7,415.8 276.9,417.6 M266.7,407.8 267.4,405.3 267.7,402.7 268.8,400.2 M288,405.1 288.1,403.8 287.9,402.5 M279,396.4 280.9,398.4 283.2,399.8 285.4,401.4 287.9,402.5 M304.1,395.9 301.6,395.3 298.9,395.8 296.5,394.9 M287.9,402.5 290.3,400.9 292.4,398.9 293.9,396.3 296.5,394.9 M269.4,338.8 266.9,338.5 264.7,337.3 262,337.3 259.8,336 257.4,335.3 255.2,334.1 253,332.7 250.6,332.1 M269.4,338.8 270.8,341 270.6,343.8 271.4,346.2 272.7,348.5 273.3,350.9 M255.4,355.2 253.7,353.1 252.5,350.6 251,348.4 250.3,345.7 249.8,343 248.1,340.8 246.4,338.7 245.3,336.2 M255.4,355.2 258.1,357 261.3,356.3 264.3,356.5 267.2,357.5 M273.3,350.9 270.8,352.6 269.4,355.4 267.2,357.5 M242.7,370.3 244.7,372.1 246.8,373.9 248.6,375.8 249.8,378.1 250.5,380.8 251.7,383.1 253.3,385.2 M253.3,385.2 253.7,385.1 254.1,385.2 M242.7,370.3 244,367.7 246.2,365.8 248.1,363.8 251.2,362.7 252.6,360.2 254.1,357.8 255.4,355.2 M263.6,380.1 265.6,377.9 266.4,375 267.6,372.4 269.5,370.1 270.2,367.3 M270.2,367.3 268.7,365.1 268.3,362.5 267.8,360 267.2,357.5 M301.4,376.7 299.3,378.2 297.5,380 295.7,381.9 293.5,383.2 M301.4,376.7 301.2,376.4 301.4,376 M301.4,376 299.2,374.3 298,371.8 296,369.8 294.5,367.5 293.4,365 291.9,362.7 M293.5,383.2 291.1,381.8 288.1,381.9 285.7,380.4 M285.7,380.4 284.6,378.1 285.1,375.4 283.9,373.1 283.2,370.7 M283.2,370.7 286.1,369.5 287.8,366.9 290.2,365.2 291.9,362.7 M312.3,383.4 310,382.2 307.5,381.4 305.1,380.4 303.1,378.8 301.4,376.7 M312.6,385.1 312.7,384.2 312.3,383.4 M296.5,394.9 295.6,392 295.4,389 294.7,386 293.5,383.2 M319,374.3 316.6,372.4 314.3,370.3 311.1,369.3 309.4,366.5 M319,374.3 317.1,376.4 315,378.3 313.2,380.5 312.3,383.4 M309.4,366.5 307.2,367.8 306,370.1 305.2,372.7 303,374.1 301.4,376 M278.2,386.7 280.4,384.3 283.2,382.5 285.7,380.4 M270.2,367.3 272.6,368.8 275.4,368.7 278.1,369.2 280.5,370.5 283.2,370.7 M402,466.3 402.7,468.9 403.3,471.5 403.9,474.2 406.1,476.1 M402,466.3 400.9,466.3 400,465.7 M400,465.7 397.4,466.3 395.2,467.5 393.2,469.1 390.8,470 388.8,471.4 M388.8,471.4 389.7,474 390.8,476.4 392.8,478 394.5,480 396.4,481.7 398.8,483.1 400.4,485 M400.4,485 403,483.6 404.3,481.3 404.5,478.3 406.1,476.1 M411.1,454.6 409.4,452.6 408.1,450.3 M396.5,453.1 399.4,452.6 402.4,452.4 405.3,451.5 408.1,450.3 M409.8,462.6 407.3,464.1 405.2,466.3 402,466.3 M409.8,462.6 410.8,460 410.9,457.3 411.1,454.6 M396.5,453.1 397.4,455.5 399.1,457.8 399.3,460.4 399.2,463.2 400,465.7 M422.8,443.4 420.2,442.2 417.7,440.8 414.7,441 M431.5,435.5 429.1,437.2 426.7,438.9 425.1,441.6 422.8,443.4 M418.1,426.1 417.3,427.5 415.7,428 M415.7,428 416,430.7 414.8,433.2 413.8,435.7 413.8,438.3 414.7,441 M422.8,443.4 423.1,447 424.5,450.4 M424.5,450.4 422.5,452.6 420.8,455.1 M420.8,455.1 417.6,455.5 414.4,455.1 411.1,454.6 M408.1,450.3 408.8,446.9 409.8,443.6 M414.7,441 412.1,441.9 409.8,443.6 M429.1,495.5 430.2,492.6 432.2,490.3 433.9,487.8 435.6,485.3 M445.3,484.3 442,483.3 438.8,484.7 435.6,485.3 M447.7,498.3 445.6,500 442.9,500.5 440.7,502 M429.1,495.5 428.8,495.7 429.1,495.7 M440.7,502 437.8,501.7 435.9,499.8 433.1,499.3 431,497.7 429.1,495.7 M400.5,487.3 398.8,488.7 397.9,490.7 M400.5,487.3 403.2,488.1 406.1,488.1 409.1,487.7 412.1,487.4 414.9,488 417.4,490.2 M397.9,490.7 398.4,493.5 400.2,495.8 400.5,498.8 402.5,500.9 403.7,503.5 404.7,506.1 M417.4,490.2 417.9,491.1 418.4,491.8 M418.4,491.8 416.2,493.7 415.5,496.3 414.4,498.8 412.7,500.9 412.4,503.7 M412.4,503.7 410.1,505.3 407.2,505.2 404.7,506.1 M385.1,470.9 384.2,472.2 383.2,473.6 M391.2,492.4 388.8,490.7 386.8,488.4 383.9,487.6 M400.4,485 400.9,486.1 400.5,487.3 M385.1,470.9 387,471 388.8,471.4 M391.2,492.4 394.3,490.8 397.9,490.7 M362.5,474 365.6,474.6 367.8,476.9 370.5,478.3 M372.8,490.6 371.1,493.4 369.2,496.1 M362.5,474 361.9,477 359.6,479 357.9,481.5 355.7,483.5 354.8,486.4 M369.2,496.1 366.6,494.8 364.1,493.3 361.9,491.4 359.5,489.8 357.6,487.5 354.8,486.4 M388.8,511.4 391.4,511.6 393.9,512 396.4,513.2 399,512.6 401.6,512 M388.8,511.4 388.3,514 386.9,516.5 386.6,519.1 386.9,521.9 386.3,524.5 M402.3,528.9 401.9,526 403.4,523.5 403.8,520.8 404.5,518.2 M402.3,528.9 399.5,529.1 396.9,530.1 394.5,532.1 391.6,531.6 M404.5,518.2 402.5,515.3 401.6,512 M386.3,524.5 387.6,527.2 389.1,529.7 391.6,531.6 M409.3,545.8 410.6,542.6 410.3,539.3 409.6,536 M409.6,536 408.1,533.9 406.3,532.1 405,529.9 402.3,528.9 M390.9,548 389.7,547.2 388.8,546.1 M388.8,546.1 387.8,543 387.4,539.9 M387.4,539.9 389.3,537.4 390,534.3 391.6,531.6 M370.8,551.8 369,553.6 368.2,556.1 366.4,557.9 364.5,559.6 363.1,561.7 M370.8,551.8 372.6,552.7 374.5,553.2 M374.5,553.2 376,555.4 376.1,558.2 376.5,560.9 378.7,562.8 M378.7,562.8 377.2,564.9 374.7,565.9 372.2,566.9 370.4,568.7 369.1,571.1 M369.1,571.1 368.1,568.4 366.7,565.9 364.4,564.1 363.1,561.7 M388.8,546.1 386.4,547.3 384,548.4 381.6,549.4 379.2,550.7 376.9,552 374.5,553.2 M386.5,565 384.1,563.5 381.5,562.6 378.7,562.8 M368.5,577.8 369.2,574.4 369.1,571.1 M272.6,520.6 274.7,522.2 277.2,523.1 279.2,524.7 280.7,526.9 283.1,528.1 285,529.8 M297.2,514.3 297.2,514.4 296.6,517 296.7,519.6 M296.7,519.6 294.4,520.9 292.3,522.4 291,524.9 289,526.6 286.8,528 285,529.8 M271.3,544.3 273.7,543.1 276.2,542.2 278.5,540.8 280.9,539.6 282.6,537.4 284.9,536.1 M285,529.8 284.7,533 284.9,536.1 M268.1,460.3 270.9,461.2 273.6,460.3 276.3,461.9 279.1,461.2 281.8,461.8 284.6,460.9 M281.5,473.4 282,471.8 282.2,469 283.8,466.4 284.1,463.7 284.6,460.9 M262.1,447.1 262.8,445.3 264.1,443.9 M287.4,449.7 287.2,452.5 285.9,455.1 285.1,457.8 285.1,460.6 M284.6,460.9 284.6,460.4 285.1,460.6 M392.7,442.5 392.7,445.2 393.4,447.7 394.8,450 395.4,452.6 M395.4,452.6 392.6,454.1 389.6,454.9 386.8,456.4 M381.4,440.1 384.1,441.1 387.2,440.2 390,441.3 392.7,442.5 M379.3,441.2 377.7,444.5 376.2,447.8 M376.2,447.8 378.5,449.4 380.2,451.6 381.8,453.9 384.6,454.9 386.8,456.4 M385.1,470.9 384.2,469.6 383.8,468 M395.4,452.6 396.2,452.3 396.5,453.1 M386.8,456.4 385.8,459.2 384.5,462 384,465 383.8,468 M230.4,628.1 228.5,627.2 226.4,626.7 M209.9,645.8 209.4,642.8 210.5,640.3 211.7,637.9 213,635.4 214.3,633 214.8,630.3 M214.8,630.3 218.1,630.6 221,629.7 223.5,627.6 226.4,626.7 M199.4,622.2 201.3,622.2 202.5,620.7 M214.8,630.3 213,628.4 211.2,626.5 209.2,624.8 207.1,623.3 204.5,622.5 202.5,620.7 M299,643.3 296.6,642 293.9,641.1 292.4,638.7 291,636.3 290.1,635.4 M312.7,626.7 312.3,626.1 311.7,625.6 M304.2,625.7 306.1,625.9 308.9,625.8 311.7,625.6 M200.1,575.5 200.4,578.2 201.9,580.4 M182.8,568.6 185.3,569.5 187.7,570.5 190.2,571.6 192.9,571.9 195.8,572 198.1,573.4 200.1,575.5 M181.1,584 183.4,585.1 185.4,586.8 187.9,587.5 190.1,588.7 M201.9,580.4 199.1,581.4 196.8,583.1 194.9,585.4 192.9,587.7 190.1,588.7 M179.5,607.5 179.7,607.3 181.6,605.4 183.4,603.2 186.1,602.2 188.7,601.2 191.3,600.1 M190.1,588.7 190.4,591.6 191.3,594.4 190.6,597.3 191.3,600.1 M202.5,620.7 204,618.1 204.9,615.3 M204.9,615.3 204.3,612.8 202.7,610.8 201.4,608.6 200.9,606 199.7,603.8 198,601.8 M191.3,600.1 194.6,601.4 198,601.8 M200.1,575.5 202.2,573 202.9,569.9 204.1,567.1 204.6,564 M183.1,562.9 185,561.2 186.2,558.7 188.8,557.9 190.3,555.8 192.7,554.6 M204.6,564 203,561.8 201.5,559.7 199.3,558.4 196.4,558.1 194.9,555.9 192.7,554.6 M194.1,542.1 194.2,542.7 194.8,543 M192.7,554.6 193.4,551.8 193.5,548.8 194.2,545.9 194.8,543 M217.1,543 216.2,544.1 215.7,545.3 M194.8,543 197.4,543.1 200,543.6 202.7,543 205.4,542.8 207.9,543.4 210.7,542.4 213.2,544.1 215.7,545.3 M270,549.1 272,551.1 274.9,551.8 276.9,553.9 279.5,554.9 281.9,556.5 284,558.3 286.6,559.5 M262.9,558.6 264.8,560.4 266.4,562.4 268.8,563.9 270.5,565.8 271.7,568.1 272.9,570.5 274.3,572.7 275.8,574.9 M263.8,553.8 262.6,556.1 262.9,558.6 M275.8,574.9 278.5,573.5 280.3,571.5 281.8,569.3 283.1,566.9 283.3,563.7 285.1,561.7 286.6,559.5 M298,547 295.9,545.1 293.2,543.9 291.5,541.4 290,538.8 287.3,537.6 284.9,536.1 M298,547 296.2,549.3 295.9,552.1 295.9,554.9 295.2,557.5 M295.2,557.5 292.3,557.9 289.4,558.6 286.6,559.5 M302.7,567.4 300.5,565.2 298.6,562.7 297.3,559.8 295.2,557.5 M275.8,574.9 275.7,575.9 275.7,576.9 M298.7,577.3 296.2,578.5 293.4,578.9 290.8,579.7 288.2,580.7 285.8,582 M298.7,577.3 299.6,574.8 301,572.5 301.9,570 302.7,567.4 M285.8,582 283.2,580.8 280.7,579.6 278.3,578 275.7,576.9 M329.5,714.5 328.8,714.7 326.4,715.6 323.8,715.7 321.5,716.8 M321.2,727.8 321.5,725.2 319.8,722.6 320.8,720 321.1,717.4 M321.5,716.8 321.2,717 321.1,717.4 M316.9,702 315.9,702.7 315.3,703.7 M327.8,702.4 325,703.2 322.3,702.8 319.6,702.4 316.9,702 M332,706.8 331.4,706 330.3,703.6 327.8,702.4 M321.5,716.8 319.8,714.4 319.3,711.4 316.8,709.4 315.8,706.7 315.3,703.7 M313.2,686.7 315.2,687.6 317.4,688.2 M316.9,702 316,699.2 316.2,696.4 316.5,693.7 317.4,691 317.4,688.2 M302.8,699.6 305.3,700.7 306.7,703.2 308.7,704.8 M308.7,704.8 312,704 315.3,703.7 M304.6,731.6 302.7,729.7 300,728.9 297.8,727.6 295.6,726 M304.6,731.6 306.9,729.6 309.3,727.7 M309.3,727.7 309.7,724.5 309.7,721.3 308.7,718.2 M295.6,726 296.3,723.3 298,721.2 298.9,718.6 300.6,716.4 M300.6,716.4 302.8,715.4 305.3,715.4 M305.3,715.4 307.3,716.5 308.7,718.2 M304.9,739 304.5,735.3 304.6,731.6 M319.4,730.1 317.1,728.3 314.6,727.9 311.9,727.7 309.3,727.7 M321.1,717.4 318,717.2 314.9,718.1 311.8,717.8 308.7,718.2 M308.7,704.8 308.2,707.6 308.3,710.5 307.2,713.1 305.3,715.4 M290.7,708.5 292.8,709.9 294.6,711.7 296.4,713.6 298.4,715 300.6,716.4 M328.4,676.6 325.8,678.2 323.9,680.2 322.8,683 321.8,685.9 319.4,687.6 M328.4,676.6 330.2,678.8 332.1,680.8 334.2,682.5 336.1,684.5 338.3,686 340.4,687.3 M319.4,687.6 321.4,689.9 324.3,691 326.9,692.5 329.3,694.2 M339.8,690.3 338.7,690.7 336.5,691.9 334.1,692.6 331.7,693.3 329.3,694.2 M327.8,671 327.5,673.9 328.4,676.6 M317.4,688.2 318.2,687.2 319.4,687.6 M327.8,702.4 327.6,699.5 328.7,696.9 329.3,694.2 M622.5,317.3 622.1,314.6 621.5,312 621.3,309.4 621.4,308.9 M622.5,317.3 620.8,318.6 M622.5,317.3 626.2,318 629.6,319.5 M634.9,314 635,311 634.1,308.3 633.3,307.2 M634.9,314 634.3,316.2 632.9,318 M629.6,319.5 631.4,319.1 632.9,318 M654.6,297.6 654.7,300.7 654.9,303.8 M670.8,300.6 669.8,302.3 669.4,304.4 M669.4,304.4 666.5,305.6 663.6,304.7 660.7,304.4 657.8,303.9 654.9,303.8 M681.2,389.8 680.5,389.7 678.4,388.3 M678.4,388.3 679.8,385.6 679.4,382.7 679,379.8 679.6,377.1 680.4,374.3 M682.8,372.9 680.4,374.3 M665.4,411.4 665.4,411.3 664.6,408.8 M676.6,400.9 674,401 671.6,400.3 669.3,399.2 M664.6,408.8 666,406.5 666.2,403.7 666.7,400.9 669.3,399.2 M678.4,388.3 675.4,389 672.4,389.4 669.4,389 M669.4,389 668.4,391.6 667.6,394.2 M669.3,399.2 668.3,396.7 667.6,394.2 M653.5,415.9 653.1,415.7 651,414.1 M644.5,424.1 644.4,421.3 646.3,418.8 646.1,416 M651,414.1 648.5,415 646.1,416 M539.8,450.2 542,448.8 544.4,447.9 546.6,446.7 547.2,446.7 M533.7,431.6 536.2,432.2 538.6,433.9 541.1,434.8 543.7,434.9 546.1,435.2 M531,423.1 531.4,422.1 531.6,421.1 M531.6,421.1 533.8,419.4 536.1,417.7 537.9,415.3 538.5,415.1 M541.1,411.6 539.1,410 537.1,408.3 535.7,406 533.4,404.5 532.3,401.9 M532.3,401.9 532.9,398.9 532.9,398.7 M587.6,362.6 584.9,361.5 582,360.9 579.4,359.8 M587.6,362.6 589.5,365.1 589.3,368 589.6,370.9 M577.9,360.2 578.6,359.7 579.4,359.8 M574.2,369 576.2,370.8 577.6,373.2 579.2,375.3 581.9,376.4 584.1,377.8 M574.2,369 575.6,366.2 576.3,363 577.9,360.2 M589.6,370.9 587.1,372.7 586.3,375.8 584.1,377.8 M392.7,442.5 394.4,439.6 397.5,438 399.4,435.3 M385,428.4 388.3,427.4 391.7,427.4 M391.7,427.4 393.4,429.5 394.7,432.1 396.8,433.9 399.4,435.3 M409.8,443.6 408.2,441.4 406.7,439.1 403.6,438.7 401.2,437.4 399.6,435.2 M415.7,428 412.5,427.8 409.3,426.9 406,427.8 M406,427.8 404.4,430.7 402,433 399.6,435.2 M399.4,435.3 399.5,434.8 399.6,435.2 M439.3,449.6 439.5,447.8 441.5,445.1 M457.8,454.2 457.8,452.9 456.4,449.5 M456.4,449.5 453.9,448.8 453.3,448.9 M450,447.9 449,447 446.3,447.3 443.9,446.2 441.5,445.1 M433.2,435.3 435.2,435.6 M436.9,436.8 437.9,439.1 440.6,440.5 M428.2,451.3 427.2,450.8 424.5,450.4 M441.5,445.1 440.7,442.9 440.6,440.5 M259.8,651 261.8,653 264.3,654.5 266.3,656.5 268.2,658.6 M259.8,651 261.1,648.6 262.7,646.4 264.7,644.5 266.8,642.6 268.4,640.4 269.2,637.6 269.9,635.8 M268.2,658.6 269.9,656.3 272.2,654.9 274.7,653.8 277.6,653.4 279.6,651.5 M279.6,651.5 278.5,649 278.2,646.3 278.1,643.6 278.4,640.9 279.4,638.2 278.3,635.6 M274.4,635.2 275.6,635.7 278.3,635.6 M263.6,628.9 264.5,629.9 M259.7,651 259.7,651.1 259.8,651 M269,668.8 269.1,666.2 268.5,663.7 268.2,661.2 268.2,658.6 M290.8,656.2 288.2,654.6 285.5,653.2 282.3,652.9 279.6,651.5 M279.7,634.6 278.3,635.6 M254.3,676.3 252.6,678.6 252.2,681.4 251.3,684 M254.3,676.3 251.3,674.8 250,671.7 247.9,669.4 M251.3,684 248.6,684 245.9,684.3 243.2,684.1 240.5,683.9 237.9,684.9 235.2,685.2 M247.9,669.4 245,669.6 242.1,669.8 239.2,669.4 236.2,668.9 233.5,670.4 230.6,671.1 M235.2,685.2 232.8,684.1 230.8,682.4 228.1,682.1 M230.6,671.1 228.6,674.1 227.4,677.5 M227.4,677.5 228,679.8 228.1,682.1 M266.8,672.5 264.4,673.5 261.7,673.7 259.2,674.6 256.8,675.4 254.3,676.3 M251.8,685.8 251.2,685 251.3,684 M248,659.6 249.6,662.9 247.8,666.1 247.9,669.4 M239.2,698.4 237.8,695.9 237.3,693.2 236.6,690.5 236.1,687.8 235.2,685.2 M229.1,663.1 230,665.7 230.7,668.4 230.6,671.1 M224.6,687.2 226.4,684.7 228.1,682.1 M207.4,670.8 209.9,671.6 212.3,672.7 214.6,674.3 217.1,675.2 219.8,675.3 222.3,676.3 224.8,677 227.4,677.5 M295.6,726 293,726.6 290.4,727.7 M293.8,742.3 293.9,741.7 293.5,742 M293.5,742 293.2,739.1 292.7,736.2 291.3,733.5 291.1,730.5 290.4,727.7 M286,725.4 286.5,725.8 286.8,726.5 M286.8,726.5 288.6,727.2 290.4,727.7 M268.4,226 266.6,228 264.8,230 263.1,232.2 260.8,233.7 M268.4,226 270.2,228.2 272,230.4 273.4,232.9 275.5,235 M275.5,235 275.4,235.8 275.2,236.7 M275.2,236.7 273.2,238.6 270.8,240 268.4,241.4 265.8,242.5 263.4,243.8 M260.8,233.7 261.4,236.3 261.8,238.8 262.4,241.4 263.4,243.8 M245.3,243 248.3,243.5 250.8,245 252.6,247.5 254.9,249.3 257.3,250.8 260,252 M245.9,238.6 247.1,235.5 250.3,234 252,231.2 M252,231.2 254.9,231.8 257.6,233.6 260.8,233.7 M263.4,243.8 262.7,246.6 261.5,249.3 260.2,251.8 M260,252 260,251.7 260.2,251.8 M294.3,209.1 295.3,211.6 296.5,214 296.3,217 297.6,219.4 299.7,221.4 M299.7,221.4 302.4,221.5 305,222.2 307.8,222.2 310.4,223.2 M294.3,209.1 296.9,208.7 299.2,207.5 301.3,206.1 303.6,205 304.6,205 M317.7,216.8 315.9,218 314.3,220 312.6,221.8 310.4,223.2 M244.7,397.1 241.9,397.7 239.2,398.6 236.3,398.5 M244.7,397.1 245.5,399.5 247.3,401.4 247.8,404 248.9,406.3 250.2,408.5 251.4,410.7 253.3,412.5 M236.3,398.5 235.5,401.1 233.9,403.4 232.9,405.9 230.8,407.9 229.1,410.1 227.4,412.3 226.8,415.1 226.1,417.8 M226.1,417.8 228.1,419.6 230,421.8 232.9,422 235.3,423.2 238.1,423.7 240.1,425.6 242.5,426.6 M253.3,412.5 251.5,415.5 252.1,418.9 251.5,422.1 M242.5,426.6 244.8,425.6 247.2,424.8 249.3,423.4 251.5,422.1 M253.3,385.2 251.1,387.2 250.7,390.5 249.4,393.2 247.8,395.7 244.7,397.1 M266.7,407.8 263.8,408.1 261.1,409.1 258.3,409.7 255.8,411.1 253.3,412.5 M218.8,419.5 221.2,419.1 223.8,419 226.1,417.8 M240.7,437.9 241.5,435.1 241.6,432.3 241.5,429.4 242.5,426.6 M259.3,426.9 256.8,425.1 254.4,423.1 251.5,422.1 M213.1,386.1 216,386.3 218.8,386 M213.1,386.1 211.1,385.7 209.8,384 M209.8,384 209.8,381.5 210.2,378.9 209.7,376.3 210.4,373.8 211.3,371.4 211.7,368.8 212.3,366.3 212.7,363.8 212.4,361.2 213.2,358.7 213.6,356.2 M218.8,386 220.4,383.7 222.6,382 225.3,380.8 228.2,379.9 230.4,378.2 233,376.9 234.4,374.3 236.3,372.3 237.1,369.1 M237.1,369.1 234.8,367.6 233.8,365.1 232.3,363 230.5,361.1 230.2,358.1 228,356.5 M228,356.5 225.2,355.5 222.3,356.7 219.4,355.6 216.5,356.3 213.6,356.2 M211.7,412.4 211.5,409.7 210.6,407 211.2,404.4 210.8,401.8 211.3,399.2 213.1,396.6 213.4,394 213.5,391.4 213.2,388.8 213.1,386.1 M236.3,398.5 233.6,397.6 230.8,396.9 229.3,394.4 227,392.9 225.3,390.8 223.6,388.6 221.1,387.4 218.8,386 M194.2,384.1 196.8,384.9 199.4,385 202,385.5 204.6,384.5 207.2,384.2 209.8,384 M207.9,351.1 210,352.5 211.5,354.8 213.6,356.2 M242.7,370.3 239.7,370.5 237.1,369.1 M239.9,336.3 238.5,338.5 237.4,340.8 235.8,342.9 234,344.9 233.7,347.7 232.2,349.9 230.5,351.9 229.8,354.5 228,356.5 M244.7,134.3 246.6,136.2 248,138.7 250,140.6 252.3,142.1 M244.7,134.3 245.5,131.2 246.9,128.4 248.9,126 M252.3,142.1 255.4,141.8 256.4,141.3 M248.9,126 249.8,125.4 M236.4,135.5 239.3,135.8 241.8,134.1 244.7,134.3 M249.7,147.4 250.3,144.4 252.3,142.1 M239.4,118.8 240.6,120.2 242.6,121.7 244.6,123.3 246.6,124.8 248.9,126 M262.6,156 263.8,153.2 265,150.4 263.3,147.4 263.3,146.6 M262.6,156 259.2,156.7 255.9,157.5 M255.9,157.5 255,157.3 254.3,156.8 M262.7,156.1 262.8,155.7 262.6,156 M278,213.6 276.6,211.1 274.5,209 272,207.4 270.7,204.8 269.2,202.3 M278,213.6 278.6,213.5 279.1,213.8 M279.1,213.8 281.6,212.2 284.5,211.6 287,210.1 289.9,209.4 292.7,208.5 M272.7,197.4 271.5,198.4 270.4,199.5 M272.7,197.4 275.9,198 278.7,197.3 281.3,195.6 284,194.9 286.6,193.4 289.6,193.1 M292.7,208.5 292.8,205.8 291.9,203.3 292.5,200.5 292.3,197.9 291.2,195.4 289.6,193.1 M269.2,202.3 270,201 270.4,199.5 M287.1,228.8 285,230.5 282.7,231.8 280.4,232.9 277.6,233.3 275.5,235 M287.1,228.8 286.7,225.8 285.9,223 284.4,220.6 282.4,218.4 280.3,216.4 279.1,213.8 M268.4,224.8 270.9,223.1 273.3,221.2 274.2,218.1 276.4,216.1 278,213.6 M268.4,224.8 269,225.4 268.4,226 M294.3,209.1 293.7,208.2 292.7,208.5 M287.1,228.8 289.2,229.9 291.5,230.5 M299.7,221.4 298.6,224.6 296.1,226.5 293.6,228.3 291.5,230.5 M262.6,185.1 264.5,183.1 267.2,182 268.6,179.5 M262.6,185.1 263.3,187.8 264.9,190.1 266.1,192.5 267.5,194.9 269.4,197 270.4,199.5 M275.5,184.3 275,186.9 275.2,189.7 274.9,192.4 274.3,195 272.7,197.4 M289.7,192.7 289.2,192.7 289.6,193.1 M258.4,184.6 256.6,186.6 255.3,189 254.3,191.5 253.1,193.9 251.7,196.2 M267.5,202.7 264.7,201.9 262.4,200.1 259.8,198.9 257.6,196.7 254.9,195.9 251.7,196.2 M267.5,202.7 268.5,203 269.2,202.3 M258.4,184.6 260.6,184.5 262.6,185.1 M258.4,184.6 256.4,182.5 254.7,180.1 M261.3,171.1 259.6,171 257.9,171.3 M254.7,180.1 256.2,177.3 256.7,174.2 257.9,171.3 M243.9,165.3 245,167.5 247,169 M255.9,157.5 256.1,160.4 256,163.2 255.6,166 255.5,168.8 M247,169 249.8,168.5 252.7,170 255.5,168.8 M257.9,171.3 257.2,169.5 255.5,168.8 M230,191.4 232.7,193.2 235.9,193.8 M222.6,204.5 225.3,204.1 228.2,204.7 231,204.5 233.6,203 M235.9,193.8 235.8,197.1 234.5,200 233.6,203 M237.9,211.7 238.1,209.9 238.8,208.2 M233.6,203 236,205.8 238.8,208.2 M258.6,211.7 255.2,211.4 251.8,211.7 M258.6,211.7 259.3,214.7 260.4,217.7 260.5,220.9 M251.8,211.7 250.4,213.8 248.6,215.8 248.5,218.8 246.9,220.9 M260.5,220.9 257.5,222.4 254,222.7 251.6,225.3 M251.6,225.3 249.3,223 246.9,220.9 M249.3,196.6 248.7,199.5 247.3,202.2 246.3,205 M246.3,205 248.7,206.8 250.1,209.4 251.8,211.7 M251.7,196.2 250.5,196.9 249.3,196.6 M267.5,202.7 265.7,204.4 264.6,206.9 262.2,208.1 260.3,209.7 258.6,211.7 M268.4,224.8 266,222.9 263.2,222 260.5,220.9 M246.3,205 244.1,206.7 241.4,207.3 238.8,208.2 M243.8,220.7 245.3,221.2 246.9,220.9 M252,231.2 251.6,228.3 251.6,225.3 M531.6,421.1 530,419.1 528.7,417 526.6,415.4 524.1,414.2 523.8,411.2 M513.7,414.8 514.9,414.2 515.1,412.9 M515.1,412.9 517.9,412 520.8,411.7 523.8,411.2 M532.3,401.9 530.5,404.1 527.6,405 525.4,406.6 M525.4,406.6 524.9,409 523.8,411.2 M497.4,408.4 497.3,408.1 M497.4,408.4 499.8,407.4 502.2,406.6 502.4,406.4 M497.6,393.6 497.1,396.2 497,397 M497.6,393.6 500.5,392.1 500.5,392.1 M505.9,394.3 506.3,395.5 M525.4,406.6 523.1,404.6 521.3,402.3 519.8,399.7 517.9,398 M515.1,412.9 513.8,410.4 512.3,407.9 511.4,406.2 M515,399.2 513.3,401.4 M498.9,416.2 497.9,413.7 498.1,411 497.4,408.4 M501.8,343.7 501.7,343.9 M514.8,350.7 511.6,351 508.8,352.5 M501.7,343.9 502.6,345.1 M502.6,345.2 503.3,346.2 505,348.5 506.7,350.6 508.8,352.5 M520.7,357.8 520.8,358.4 520.4,358.8 M520.4,358.8 517.5,359.6 515.3,361.6 513,363.4 510.1,364 M510.1,364 508.9,360.7 506.7,358 M508.8,352.5 507.8,355.3 506.7,358 M501.7,343.9 499.8,346.1 498.5,348.9 496.7,351.3 494.7,353.6 M490.5,343.4 488.2,345.1 487.2,347.6 485.3,349.6 M485.3,349.6 487.6,350.8 490.2,351 492.5,352.3 494.7,353.6 M506.7,358 504.1,358 501.5,357.3 499,357 496.4,358.2 M494.7,353.6 495.1,356 496.4,358.2 M432.9,317.6 433,318.1 431.8,320.9 431.7,323.6 M485.3,349.6 484.5,349.7 484,350.1 M477.8,340.7 477.6,341.2 478,343.9 477.4,346.3 M477.4,346.3 479.5,347.7 481.5,349.4 484,350.1 M468.3,347.5 467.3,345 466.7,342.5 465.9,340 465.6,337.5 465.3,335 465.3,334.8 M468.3,347.5 468.8,347.3 468.9,347.8 M477.4,346.3 474.5,346.2 471.5,345.9 468.9,347.8 M417.4,318.9 417.6,319.2 419.1,321.5 420.1,323.8 420.3,326.4 420.8,328.9 422.2,331.2 M409.1,319.4 408.8,319.6 408,322.2 407.8,325.1 M422.2,331.2 419.8,330 417.2,329.9 414.6,330.2 412,330.1 409.5,329.5 M407.8,325.1 408.6,327.3 409.5,329.5 M422.3,331.3 422.3,331.2 422.2,331.2 M396.1,323.2 395,320.4 395.5,317.6 394.4,314.9 395.6,312.1 395.6,312.1 M396.1,323.2 396,323.4 396.2,323.3 M396.2,323.3 399,324.4 401.8,325.6 404.8,325.1 407.8,325.1 M447.9,335.4 448.6,338.9 449.4,342.4 M436,339.6 438.5,341.4 440.6,343.5 442.1,346.2 444,348.4 M449.4,342.4 448.2,344.9 445.7,346.3 444,348.4 M462.2,335.8 461.7,337.6 460.3,339.8 458.8,342.1 457.4,344.3 M449.4,342.4 452.2,342.4 454.6,344.1 457.4,344.3 M468.3,347.5 465.6,347.6 463.1,349 460.4,348.9 M457.4,344.3 458.2,347 460.4,348.9 M420.2,340.9 416.8,342.4 413.6,344.1 M422.3,357.4 423.8,354.4 426.4,352.1 428.5,349.6 M422.3,357.4 420.6,356.9 419.3,358.1 M419.3,358.1 416.8,356.9 415.5,354.6 414.3,352.3 412.1,350.9 M413.6,344.1 412.8,347.5 412.1,350.9 M409.5,329.5 408.3,332.2 406.6,334.7 405.8,337.6 M413.6,344.1 411.3,342.8 409.7,340.8 407.8,339.2 405.8,337.6 M396.2,323.3 396.4,326 397.7,328.5 397.2,331.4 398.7,333.9 398.2,336.7 M398.2,336.7 399.3,338 400.9,338.5 M405.8,337.6 403.3,337.6 400.9,338.5 M423.5,464 426.4,465.5 429.5,466.4 M423.5,464 420.9,465 418.5,466.2 416.1,467.5 M429.1,476.4 426.6,476.8 424.6,478.9 422.2,479.8 419.6,480 M429.1,476.4 430.5,473.5 431,470.4 M431,470.4 430,468.5 429.5,466.4 M416.1,467.5 415.9,470 415.3,472.5 414.9,475 M414.9,475 416.9,477.8 419.6,480 M420.8,455.1 420.8,455.4 M422.9,463.1 423.5,464 M430.7,464.5 429.5,466.4 M409.8,462.6 412.2,463.8 414.2,465.6 416.1,467.5 M429.1,495.5 426.7,493.7 424,493 420.9,493.3 418.4,491.8 M435.6,485.3 434.2,482.9 432.5,480.8 431,478.4 429.1,476.4 M417.4,490.2 417.7,487.6 418.4,485.1 419.4,482.6 419.6,480 M445.8,471.4 442.8,470.9 439.9,471.2 436.9,470.9 433.9,471.4 431,470.4 M406.1,476.1 409,475.9 411.9,475.2 414.9,475 M457.3,512.5 454.6,514 451.4,515 449.5,517.8 M440.7,502 440.5,505.7 439.7,509.3 M439.7,509.3 441.2,511.5 443,513.4 445,515.1 447,516.7 449.5,517.8 M450.9,530.1 449.4,528.8 449.5,525.8 448.9,523.1 448.7,520.2 M448.7,520.2 449,518.9 449.5,517.8 M412.4,503.7 415,504.9 417.3,506.5 418.8,509.1 421.3,510.5 M429.1,495.7 429.1,498.5 427.6,500.9 426.5,503.4 426.4,506.3 425.4,508.8 M421.3,510.5 423.4,509.8 425.4,508.8 M401.6,512 403.1,509 404.7,506.1 M404.5,518.2 407.3,517.4 410.1,517 412.9,518.1 415.6,519.4 418.4,518.6 M421.3,510.5 419.5,512.9 419.5,515.9 418.4,518.6 M439.7,509.3 437.5,510.7 435.2,511.9 433,513.3 M425.4,508.8 427.8,510.6 431.1,510.8 433,513.3 M347.5,604.4 347.5,607.5 346.9,610.2 346.2,613 344.1,615.2 343.6,615.9 M347.5,604.4 346,601.9 343.5,600.2 342.6,597.2 M342.6,597.2 339.9,597 337.6,598.3 335.1,598.8 333,600.7 330.5,601.4 327.8,601.5 325.4,602.3 M325.4,602.3 325.4,605.3 325.2,608.2 326.1,611 327.8,613.6 327.4,616.6 328.5,619.4 M328.5,619.4 331.5,620.2 334.5,621 337.6,621.5 338.6,622 M360.1,606.6 357.6,606.2 355,606.3 352.3,606.7 349.9,605.8 347.5,604.4 M362.4,582.9 363.2,583 363.9,583.1 M362.4,582.9 360.2,584.5 357.5,585.5 355.1,587.1 352.6,588.2 350.4,590 347.5,590.7 345.2,592.3 343.2,594.4 M343.2,594.4 342.6,595.7 342.6,597.2 M316.1,627 318.3,624.9 321,623.9 322.9,621.5 325.6,620.3 328.5,619.4 M344,484.9 344.2,485.1 346.6,486.7 349.2,488 M349.2,488 349.5,491.1 347.6,493.8 347.6,496.8 346.3,499.6 347.1,502.8 M347.1,502.8 345.6,503 M362.4,582.9 360.5,581.1 358.7,579.3 356.5,577.8 354.5,576.3 352.5,574.6 350,573.6 348.6,571.2 M363.1,561.7 360.3,560.9 357.6,560.4 354.8,560.6 M354.8,560.6 353.2,563.3 351.7,565.9 349.7,568.3 348.6,571.2 M343.2,594.4 341.9,591.8 340.9,589 338.2,587 338.1,583.8 M338.1,583.8 338.5,581.1 339.1,578.5 341.6,576.7 342.3,574.2 343.4,571.8 M348.6,571.2 346,571.2 343.4,571.8 M285.1,460.6 288,460 290.3,461.3 292.7,462.3 294.6,464.5 M299.7,472.8 299.4,471.8 M383.8,468 381.4,467.2 379.5,465.1 377,464.5 374.9,463 372.8,461.5 370,461.3 M362.5,474 361.8,470.8 360.8,467.7 M360.8,467.7 362.9,465.8 365.1,464.1 367.5,462.6 370,461.3 M349.2,488 351.9,486.9 354.8,486.4 M350,464.6 352.6,463.5 M360.8,467.7 358.2,466 355.4,464.7 352.6,463.5 M376.2,447.8 373.9,448.8 371.9,450.4 M371.9,450.4 370.9,453 371.6,455.9 371.2,458.7 370,461.3 M367.8,430.5 366.4,432.8 364.4,434.5 362.2,436 359.3,436.7 357.8,438.9 355.4,440.1 354.5,443 M371.9,450.4 369.7,448.6 367.3,447.4 365,446 362.2,445.6 359.7,444.7 357,444.2 354.5,443 M325.4,602.3 322.9,600.2 319.9,599 M311.7,625.6 310.3,623.1 310.1,620.3 310.3,617.5 311.1,614.5 310.4,611.8 308.6,609.4 M308.6,609.4 309.8,606.9 312,605.5 314,603.9 316.5,602.9 318.3,601.1 319.9,599 M322.1,582 320.5,584.3 318.5,586.4 317,588.7 317.1,591.9 M338.1,583.8 335.5,582.8 332.9,582.6 330.1,582.6 327.5,582.3 324.8,582.1 322.1,582 M319.9,599 318.5,596.8 317.3,594.5 317.1,591.9 M262.9,558.6 260.4,560.3 258.2,562.4 255.5,563.9 254,566.7 M272.6,579.4 274.4,578.4 275.7,576.9 M272.6,579.4 269.9,579.3 267.1,579.8 264.4,579.2 261.6,577.5 258.8,578.3 256.1,579.4 M254,566.7 253.8,569.3 254.5,571.8 255.5,574.3 256.6,576.7 256.1,579.4 M244.3,543.5 242.9,546.1 241.7,548.7 239.8,551 239,553.7 238.3,556.5 237.8,559.4 M237.8,559.4 239.5,561.1 240.6,563.2 M254,566.7 251.5,565.1 248.7,565.1 246,564.6 243.1,564.7 240.6,563.2 M226.4,626.7 225.1,624.4 223.6,622.3 222.7,619.8 221.2,617.7 220.4,615.2 220.1,612.6 219.6,610 M241.6,619.3 241.3,616.5 239.7,614.2 238.4,611.7 237,609.3 236.5,606.6 236.9,603.6 M236.9,603.6 234.4,604.2 232,605.4 229.7,606.9 227.4,608.1 224.9,609.1 222.4,609.9 219.6,610 M204.9,615.3 207.4,614 209.5,611.8 211.8,610 214.3,608.9 217.6,609 M217.6,609 218.8,609.1 219.6,610 M216.2,547.7 215.7,550.7 215.7,553.9 213.1,556.1 211.5,558.6 211,561.6 M216.2,547.7 218.2,549.3 220.2,550.9 221.8,553.1 223.3,555.3 225.1,557.2 227.5,558.3 230,559.2 232.6,560 M211,561.6 214.4,562.3 215.9,564.9 217.2,567.6 218.7,570.2 221.3,571.7 M232.6,560 230.5,561.8 228.5,563.6 226.8,565.7 223.9,566.7 222.8,569.4 221.3,571.7 M204.6,564 207.7,562.6 211,561.6 M215.7,545.3 215.3,546.7 216.2,547.7 M237.8,559.4 235.1,559.1 232.6,560 M278.7,601.1 281.1,599.8 282.9,597.6 285.3,596.2 287.7,595 M278.7,601.1 279.1,604 278.7,606.8 278.6,609.6 278.5,612.4 M278.5,612.4 279.1,613.2 M291.6,613.3 292,612.3 293.9,610.1 296.3,608.3 298.4,606.3 M287.7,595 290.6,596 293.6,596.6 296.3,598.2 M296.3,598.2 296.7,601 297.5,603.6 298.4,606.3 M270.2,594.7 272.5,596.2 274.6,597.7 276.7,599.4 278.7,601.1 M270.2,594.7 270.1,592.1 269.7,589.4 270.2,586.9 271.1,584.4 271.8,581.9 272.6,579.4 M285.8,582 286,584.6 287.3,587.1 287.5,589.7 287.2,592.4 287.7,595 M257.2,599.2 260.1,598.9 262.6,598 265.2,597 267.8,596.1 270.2,594.7 M257.2,599.2 257.1,601.9 258,604.5 259.2,606.9 259.8,609.5 260,612.2 M268.3,613.9 269.7,613.1 272.6,612.5 275.7,613.2 278.5,612.4 M308.6,609.4 306.3,607.6 303.7,607.1 300.8,607.3 298.4,606.3 M305.3,589.6 303,591.7 300.5,593.6 298.2,595.7 296.3,598.2 M298.7,577.3 299.5,580 301.9,581.9 303.6,584.2 304.7,586.8 305.3,589.6 M305.3,589.6 308.1,591.3 311.2,591 314.1,591.5 317.1,591.9 M634.7,332 636.2,329.4 638.6,327.9 641,326.4 M634.7,332 636,334.3 635.5,337.1 636.9,339.4 M643.5,339.8 640.1,340.1 636.9,339.4 M643.5,339.8 644.2,336.9 645.4,334.2 646.8,331.5 M646.8,331.5 644.5,330.3 643,328 641,326.4 M629.6,319.5 630.7,322.2 630.2,324.7 628.9,327.1 628.7,329.7 M632.9,318 634.3,320.4 636.4,322.1 638.9,323.2 640.9,324.9 M628.7,329.7 631.9,330.3 634.7,332 M640.9,324.9 641.2,325.6 641,326.4 M653.1,306.6 654.7,308.7 655.6,311.4 657.1,313.6 659.4,315.2 M653.1,306.6 650.2,308.6 646.6,308.8 M646.6,308.8 645.7,309.8 645.4,311.1 M645.4,311.1 645.6,313.8 646.1,316.4 647.3,318.8 M647.3,318.8 649.3,320.3 651.8,321.1 654,322.2 M659.4,315.2 657.6,317.5 656.1,320 654,322.2 M636.4,300.9 638,302.2 640,304 642,305.8 644.5,307.2 646.6,308.8 M654.9,303.8 654,305.2 653.1,306.6 M634.9,314 637.5,313.1 640.1,312.4 642.8,311.8 645.4,311.1 M640.9,324.9 642.9,322.7 645.4,321 647.3,318.8 M699.7,331.6 699.2,331.4 696,330.3 M698.5,316 696.4,318.2 693.8,320 M696,330.3 695,327.8 694.4,325.3 694.5,322.6 693.8,320 M687.5,306.5 687.3,307.7 686.3,308.3 M686.3,308.3 687.8,310.7 687.6,313.3 687,316 687.5,318.5 M693.8,320 690.5,320 687.5,318.5 M666.4,384.5 668,386.7 669.4,389 M666.4,384.5 668.1,381.8 668.9,378.7 670.1,375.8 M680.4,374.3 679.7,373.7 678.8,373.7 M670.1,375.8 672.9,374.8 676,374.9 678.8,373.7 M661.7,366.8 662.2,366.1 662.8,365.6 M661.7,366.8 663.3,369.5 665.5,371.7 667.7,373.8 670.1,375.8 M678.8,373.7 677.3,371.2 675.9,368.6 675.7,365.6 674.3,363 M662.8,365.6 665.5,364.2 668.3,363.1 671.5,363.9 674.3,363 M665.3,350.8 664.2,353.1 663.9,355.6 662.9,358 662.7,360.5 661.9,362.9 662.8,365.6 M661.7,366.8 661.7,366.8 661.7,366.8 M665.3,350.8 664.7,349.8 663.5,349.8 M661.7,366.8 659.2,365.7 657.2,364 655.2,362.1 652.6,361.3 M652.6,361.3 653.5,358.7 654.5,356 654.6,353.1 M663.5,349.8 660.2,350.1 657.6,352.1 654.6,353.1 M695.6,345.8 694.7,345.7 692.1,347 689.6,347.3 M686.9,362 686.8,361.4 685.8,359 684.5,356.9 M689.6,347.3 688.1,349.6 687,352.1 685.9,354.6 684.5,356.9 M665.3,350.8 668.1,350.2 671,350.2 M674.3,363 676,360.1 677.5,357.2 M671,350.2 673.1,352.5 674.9,355.2 677.5,357.2 M684.5,356.9 681,357.6 677.5,357.2 M535.6,374.1 536.8,371.8 536.8,369.2 M535.6,374.1 532.4,374.1 529.5,373.2 526.5,372.2 M526.5,372.2 525.8,370.5 524.3,369.3 M528.9,363.8 528.3,364.3 526.5,366.2 524.6,367.9 M524.3,369.3 523.9,368.5 524.6,367.9 M531.4,385 531.4,385 529,384 527.2,382 525,380.6 M525,380.6 526.6,378 526.8,375.2 526.5,372.2 M537.5,379.6 537.4,379.5 536.6,376.8 535.6,374.1 M520.4,358.8 521.5,361 522,363.6 523.2,365.8 524.6,367.9 M509.8,366.3 512,368.9 515.5,369.3 518.1,371.3 M518.1,371.3 521.5,371.1 524.3,369.3 M510.1,364 510.4,365.2 509.8,366.3 M568.4,372.6 569.5,372.7 571.8,370.7 574.2,369 M577.9,360.2 575.4,358.9 572.7,358 570.7,355.9 M568.5,356.4 570.7,355.9 M560.4,335.6 561,336.6 561.8,339.1 561.7,341.9 562.1,344.4 M555,350.6 556.6,350.1 558.6,348.4 560.7,346.7 562.1,344.4 M582.6,334.1 582.5,334.7 583.3,337.1 583.8,339.6 585.7,341.8 585.8,344.4 M573.5,336.2 572.5,338.4 572,340.9 571.4,343.4 570.7,345.9 M585.8,344.4 584.6,345.1 583.6,346 M583.6,346 581,346.8 578.5,346.6 575.9,346.3 573.4,346 570.8,346 M570.7,345.9 571.1,345.7 570.8,346 M589.3,345.9 591.6,344.2 594.7,344.4 597.2,343 599.7,341.7 M598.8,335.1 599.3,336.4 599.6,339 599.7,341.7 M589.3,345.9 587.4,345.3 585.8,344.4 M562.1,344.4 565.1,344.5 568,344.8 570.7,345.9 M594.6,356.8 593.3,354.1 592.7,351 591.3,348.3 589.3,345.9 M579.4,359.8 579.6,356.8 580.3,354.1 581.3,351.4 581.5,348.4 583.6,346 M594.6,356.8 592.4,359 590.1,360.9 587.6,362.6 M570.7,355.9 571,352.6 571.5,349.3 570.8,346 M600.2,357.5 601.4,355 603.3,352.7 604.1,350 M605,363.6 604,361.1 601.5,359.7 600.2,357.5 M605,363.6 607,361 610.4,360.6 612.9,358.7 615.3,356.7 M615.3,356.7 614.1,353.1 612.1,350 M612.1,350 609.4,349.9 606.8,350.2 604.1,350 M594.6,356.8 597.4,357 600.2,357.5 M599.7,341.7 600.5,342.5 601.7,342.5 M601.7,342.5 602.4,345 603.6,347.4 604.1,350 M664.6,408.8 661.6,407.4 659.2,405.1 656.7,403 M667.6,394.2 664.8,394.2 662.1,395.2 659.5,396.6 656.6,396.4 M656.7,403 656.8,399.7 656.6,396.4 M651,414.1 651.6,411.4 651.7,409.3 M651.7,408.9 651.7,408.8 650.6,406.2 M656.7,403 653.8,404.8 650.6,406.2 M646.1,416 643.2,415.3 641.3,412.9 638.5,412 636.2,410.2 M650.6,406.2 648,405.1 645.7,403.3 M645.7,403.3 643.5,405.2 641.3,407.2 638.2,408 636.2,410.2 M637.1,426 636.3,423.4 635.1,420.8 633.9,418.3 633.3,415.6 M633.3,415.6 634.6,413 635.5,410.2 M636.2,410.2 635.8,409.6 635.5,410.2 M633.3,415.6 630.9,416.5 628.3,416.9 626.8,417.3 M631.1,405 633.1,407.8 635.5,410.2 M631.1,405 628.4,406.1 625.8,407.7 625.3,408 M619.4,410.1 617.8,411.3 M617.8,411.3 618.8,413.6 619.8,415.9 620.9,418.2 621.1,419.4 M601.8,424.8 604.5,424.9 607,423.8 M607,423.8 609.4,425 611.6,426.5 614.3,426.9 615.6,428.1 M617.8,411.3 616.2,409.3 613.6,408.8 M607,423.8 606.9,421.1 606.8,418.3 606.1,415.7 M613.6,408.8 611.1,409.9 609.9,412.3 608.4,414.5 607.6,414.9 M606.5,415.5 606.1,415.7 M606.1,415.7 605.4,415.5 M603.4,414.9 601.2,413.8 600.7,413.6 M584.1,377.8 583.7,379 M436.7,361 436.7,357.6 436.8,354.2 M436.7,361 438.6,362.6 440.4,364.2 M440.4,364.2 442.8,362.7 445.6,361.9 447.7,359.9 M436.8,354.2 439.2,352.7 441.9,351.8 443.9,349.8 M447.7,359.9 447.2,356.3 447.1,352.6 M447.1,352.6 445.8,350.9 443.9,349.8 M422.3,357.4 424.4,359.9 427.4,361.3 429.9,363.3 M429.9,363.3 433.5,362.7 436.7,361 M428.7,349.6 431.3,351.3 434.1,352.6 436.8,354.2 M444,348.4 443.4,349.1 443.9,349.8 M458.5,352 459,350.2 460.4,348.9 M458.5,352 455.7,352.5 452.8,352.1 450,352.5 447.1,352.6 M349.8,394.5 352.1,395.5 354.5,396.2 357,396.9 358.9,398.9 M344,399.1 347.1,397 349.8,394.5 M352.7,419 355.5,418.3 357.9,416.4 360.9,416.2 M352.7,419 350.5,417.7 347.8,417.2 345.7,415.7 343.8,414 341.8,412.3 M360.9,416.2 361.2,416.2 361,416 M361,416 360.1,413.2 360.3,410.3 360.5,407.4 361.6,404.3 360.5,401.6 358.9,398.9 M381.8,387.8 382.2,390.5 382.9,393.2 383.8,395.7 384.9,398.2 M370.2,388.5 373.1,387.9 376.1,388.9 378.9,387.9 381.8,387.8 M370.2,388.5 369,390.9 367.9,393.3 366.6,395.6 M366.6,395.6 368.4,397.5 370,399.6 372.6,400.3 374.1,402.5 376.6,403.3 M384.9,398.2 382.1,399.9 379.4,401.6 376.6,403.3 M368.2,426.2 366.8,423.4 364.4,421.3 362.6,418.8 360.9,416.2 M379.7,423 380.2,420.2 381.2,417.6 381.9,415 M361,416 363.6,415.1 366.2,414.1 368.5,412.5 370.9,411.1 373.6,410.4 376.1,409.4 M381.9,415 380.2,412.9 377.6,411.7 376.1,409.4 M358.9,398.9 361.4,397.7 364.2,397.3 366.6,395.6 M376.1,409.4 376.1,406.3 376.6,403.3 M419,422.4 418,419.3 417,416 414.5,413.6 M435.1,416.6 434.5,416.1 435.2,415.9 M435.2,415.9 433.5,413.9 431.8,411.9 430.7,409.5 430.2,406.8 M430.2,406.8 428.8,405.5 426.9,405.1 M414.5,413.6 416.6,412.2 418.2,410.1 420.8,409.5 422.9,408.1 425,406.7 426.9,405.1 M488.1,442.3 488,441.9 486.9,439.4 485.8,436.8 M474.1,442.1 475.2,441.4 475.8,440.8 M480.6,439.5 480.7,439.5 481.7,439.2 M484.9,437.5 485.8,436.8 M498.7,435.5 495.8,436 493.3,434 490.4,433.9 487.7,433.5 M485.8,436.8 486.8,435.2 487.7,433.5 M491,421.2 489.8,424 490.3,427.3 489.5,430.2 487.5,432.8 M479.9,414.9 482,415.7 M485.8,417.8 486.7,418.4 488.6,420.1 491,421.2 M479.9,414.9 479.9,414.9 M474,422.7 473.6,424.3 M473.6,424.3 476,425.5 478.5,426.7 480.9,428 482.4,430.6 484.7,432.1 487.5,432.8 M498.7,416.7 495.9,417.7 493.5,419.7 491,421.2 M487.7,433.5 487.8,433.1 487.5,432.8 M281.4,743.1 279,741.2 276.7,739.2 M281.4,743.1 281.1,745.7 281.5,748.3 282,750.9 282.2,753.5 M282.2,753.5 279.8,755 277.2,755.6 274.4,755.3 271.9,755.9 M276.2,739.2 274.1,741 272.7,743.5 271.1,745.8 268.2,746.8 M276.2,739.2 276.4,739.7 276.7,739.2 M271.9,755.9 269.9,753.4 267.9,751 M267.9,751 267.9,748.9 268.2,746.8 M293.5,742 290.4,742 287.3,741.1 284.4,742.6 281.4,743.1 M286.8,726.5 285.1,728.6 283,730.4 281.2,732.4 279,734.2 278.2,736.9 276.7,739.2 M286.3,756.8 284.3,755.1 282.2,753.5 M271.4,762.4 271.6,759.2 271.9,755.9 M268.1,730.1 269.7,732.7 272.2,734.6 274.3,736.7 276.2,739.2 M258.4,740.6 260.6,742.6 263.1,744.1 265.5,745.7 268.2,746.8 M259.8,754.6 262.2,752.8 265.4,752.7 267.9,751 M293.7,236.1 292.9,233.2 291.5,230.5 M293.7,236.1 296.8,238.2 300.1,239.6 M310.4,223.2 310.2,226.1 311.1,228.9 312.2,231.7 311.5,234.7 M300.1,239.6 302.7,237.7 306,237.7 308.6,235.8 311.5,234.7 M286.9,262.7 288.6,260.4 289,257.8 287.9,254.8 289.1,252.4 M286.9,262.7 283.9,261.1 280.4,261.5 277.4,260 M277.4,260 275.9,256.6 274.4,253.3 M274.4,253.3 276.3,250.4 279.1,248.7 281.7,246.8 M289.1,252.4 287.1,249.2 284.2,246.9 M284.2,246.9 282.9,247.2 281.7,246.8 M260.2,251.8 263.1,251.3 266,251.1 268.8,252 271.6,252.7 274.4,253.3 M275.2,236.7 276.9,239.2 278.3,241.9 279.2,244.9 281.7,246.8 M293.7,236.1 291.2,237.8 289,239.6 288,242.6 286.2,244.8 284.2,246.9 M277.9,307.2 278.3,305.6 279.3,302.8 282.2,301.3 283.3,298.8 M270.4,306.6 271.5,307.4 M268.6,299.3 271.7,297.8 273.6,295.1 M283.3,298.8 281.2,296.4 278.5,294.8 276.5,293.1 M257.6,293.1 259.9,291.4 262.1,289.6 264.2,287.7 266.3,285.8 268.7,284.4 271.2,282.9 M271.2,282.9 273.5,284.5 276,285.5 M276.2,291.7 276.4,289.2 276,285.5 M273.5,269.9 272,272.1 270.5,274.2 269.3,276.5 269.7,279.4 M273.5,269.9 273,269.2 272.8,268.4 M272.8,268.4 270.2,267.5 267.4,266.8 265.1,265.2 262.1,265 259.6,263.7 257.4,261.8 M269.7,279.4 267.3,278.1 264.9,276.9 262.4,275.7 259.6,275.3 257.3,273.9 254.5,273.5 M254.5,273.5 253.7,270.2 253.3,266.8 M253.3,266.8 255.1,264 257.4,261.8 M277.4,260 276.5,263.1 274.8,265.8 272.8,268.4 M286,273.1 283.3,273.2 280.9,272 278.4,271.5 276.2,270 273.5,269.9 M287.9,264.6 287.5,267.4 287,270.3 286,273.1 M287.9,264.6 287.1,263.8 286.9,262.7 M260,252 259.3,254.4 259,256.9 257.8,259.2 257.4,261.8 M248.6,290.8 250,288.5 250.9,286 250.7,283.2 251.8,280.8 252.2,278.2 253.4,275.8 254.5,273.5 M271.2,282.9 270.2,281.3 269.7,279.4 M233.5,263.9 235.8,265.3 238.4,264.8 240.9,265.1 243.3,265.8 246,265.1 248.4,265.7 250.9,265.7 253.3,266.8 M287.9,264.6 290.8,264.3 293.8,264.8 296.6,263.8 299.5,263.4 M289.1,252.4 291.9,251.9 294.6,252.8 297.4,252.4 M299.5,263.4 299.8,262.4 300.8,262.1 M300.8,262.1 300.4,259.6 299.8,257 298.3,254.8 297.4,252.4 M300.1,239.6 300.1,242.3 299.7,245 301.1,247.5 M297.4,252.4 298.8,249.6 301.1,247.5 M284.5,298.6 283.9,298.3 283.3,298.8 M288.7,312.2 285.6,312.1 282.9,311 280.5,309.1 279.1,308.7 M284.5,298.6 287.4,299.3 289.1,301.6 291.4,303.1 M288.7,312.2 289.3,312.5 289.5,311.8 M289.5,311.8 290.3,308.9 290.5,305.9 291.4,303.1 M311.5,234.7 314.1,236.5 316.6,238.4 M331.6,224 331.3,225.5 329.5,227.7 329.5,230.4 327.9,232.7 327.1,235.2 M327.1,235.2 324.5,236.3 321.8,236.7 319.1,237.4 316.6,238.4 M310.5,251.3 308,250.8 305.5,250.1 303.7,247.9 301.1,247.5 M310.5,251.3 312.6,248.7 313.8,245.5 316.6,243.5 M316.6,243.5 316.4,241 316.6,238.4 M347.6,236.8 347.2,237.3 345.5,239.2 343.7,240.9 341.8,242.6 339.5,243.9 M327.1,235.2 328.9,237 329.7,239.8 332.3,241 334.2,242.8 335.8,244.9 M339.5,243.9 337.6,244.1 335.8,244.9 M323.9,250.8 326.4,250.4 328.5,248.9 330.4,246.9 332.9,246.3 335.4,245.7 M323.9,250.8 321.5,249.5 320,247.3 318,245.6 316.6,243.5 M335.8,244.9 335,244.9 335.4,245.7 M245.1,176.1 247.4,178.1 249.3,180.5 M245.1,176.1 242.5,176.1 240,176.4 237.7,177.3 M249.3,180.5 249.1,184 246.2,185.9 244.4,188.5 243,191.2 M237.7,177.3 237.4,178.9 236.3,180 M236.3,180 236.6,182.7 237.9,184.9 239.2,187.1 240.3,189.4 242.4,191.1 M242.4,191.1 242.8,190.8 243,191.2 M254.7,180.1 252,180.7 249.3,180.5 M247,169 246.9,172.8 245.1,176.1 M234.7,169.3 235.6,172 236.6,174.7 237.7,177.3 M249.3,196.6 246.9,195.1 245,193.1 243,191.2 M227.9,182.1 230.8,181.6 233.6,181.1 236.3,180 M235.9,193.8 239.1,192.3 242.4,191.1 M509.7,385 511.1,383.2 512,380.1 M519.7,382.6 519.6,382.7 M519.7,382.6 519.4,382.4 M516.3,380.2 515.7,379.7 M515.7,379.7 513.9,380.6 512,380.1 M526.1,393.4 525.2,393.8 522.3,393.7 520,392.9 M525,380.6 522.5,382 519.7,382.6 M518.1,371.3 516.5,373.8 516.5,376.9 515.7,379.7 M509.8,366.3 510.2,366.8 509.7,366.4 M512,380.1 509.6,378.4 507.7,376.1 M507.7,376.1 508.9,373 509.1,369.7 509.7,366.4 M499.7,381.4 500.5,379.4 501,377.4 M504.1,387.5 503.4,386.6 501.2,384.3 499.7,381.4 M507.7,376.1 504.5,377.3 501,377.4 M497.6,393.6 494.6,392.3 491.8,390.5 M499.7,381.4 496.8,382.3 493.8,383.2 M493.8,383.2 492.5,385.5 492,388 491.8,390.5 M468.9,347.8 468.7,350.7 469.8,353.3 471.3,355.7 471.6,358.5 472.5,361.2 M484,350.1 482.6,353.3 481.7,356.6 M472.5,361.2 472.6,361.7 473.2,361.6 M481.7,356.6 479.2,358.8 475.8,359.6 473.2,361.6 M481.7,356.6 483.2,359.3 485.7,361.1 487.7,363.4 M496.4,358.2 496.5,360 495.1,361.1 M495.1,361.1 492.7,362 490.2,362.8 487.7,363.4 M509.7,366.4 506.8,366.9 504,368.1 501.2,369.1 498.2,368.8 M495.1,361.1 496.8,363.4 497.4,366.1 498.2,368.8 M501,377.4 499.3,374.3 497.3,371.4 M498.2,368.8 498.1,370.2 497.3,371.4 M460.4,368.9 461.9,366.6 463.2,364.1 464.8,361.9 M460.4,368.9 456.8,368.3 453.6,366.3 M452.9,362.9 452.9,364.7 453.6,366.3 M452.9,362.9 454.7,360.4 456.2,357.7 458.8,355.9 M458.8,355.9 461.1,357.7 463,359.7 464.8,361.9 M469.1,374 470.4,371.2 470.9,368.1 471.5,365 473.4,362.3 M469.1,374 465.9,373.6 462.8,374.2 M462.8,374.2 461.7,371.5 460.4,368.9 M473.4,362.3 473.6,361.9 473.2,361.6 M472.5,361.2 469.9,361.7 467.3,361.4 464.8,361.9 M447.7,359.9 450.3,361.3 452.9,362.9 M447.2,373.4 449.8,371.4 451,368.3 453.6,366.3 M441.6,371.6 444.3,372.9 447.2,373.4 M441.6,371.6 440.3,368 440.4,364.2 M458.5,352 458.3,354 458.8,355.9 M328.4,308.4 326.6,308.2 324.8,308.7 M324.8,308.7 322.1,306.7 320.3,303.9 M320.3,303.9 319.8,300.6 321.1,297.4 321.2,294.1 M321.2,294.1 323.3,293.6 325.3,292.5 M334.7,298.3 333,300.8 332.4,303.9 330.2,306 328.4,308.4 M334.7,298.3 335.3,297.8 334.5,297.6 M334.5,297.6 332.3,296.3 329.8,295.3 327.7,293.7 325.3,292.5 M348.1,291.5 349.5,294.3 350.2,297.4 351.5,300.2 M348.1,291.5 349.1,289.1 349.7,287.8 M351.5,300.2 354.5,300.8 357,300 359.6,299.4 361.9,298 364.1,296.6 M334.7,298.3 336.6,300.5 339.7,301.1 342,302.8 343.4,305.5 M343.4,305.5 345.5,303.7 348.2,303.4 350.7,302.5 M350.7,302.5 351,301.3 351.5,300.2 M339.5,291.8 337.6,293.5 335.9,295.4 334.5,297.6 M339.5,291.8 342.3,290.9 345.2,290.8 348.1,291.5 M339.5,291.8 338.8,289.3 338.1,286.8 337.1,284.4 335.9,282 335.9,281.7 M335.6,279.8 335.5,279.5 M336,279.3 335.5,279.5 M350.7,302.5 351.2,305.3 353,307.1 355,308.8 357.3,310.3 358.2,312.7 M369,301.4 368.3,303.2 366.4,305.2 364,306.8 361.6,308.4 360.1,310.8 358.2,312.7 M339.5,243.9 340.9,246.2 343.1,247.8 344.2,250.5 346.5,251.9 347.4,253.4 M341.3,261.3 338.6,261.2 335.7,260.8 M335.4,245.7 334.8,248.2 335.9,250.7 336.9,253.2 336.6,255.7 336.3,258.3 335.7,260.8 M288.7,312.2 287.4,314.8 286.6,317.6 286.3,320.5 M275.2,317.2 275.4,318 274.6,320.9 M286.3,320.5 283.3,320.7 283,320.8 M277,320.6 274.6,320.9 M269.4,338.8 271,336.8 272.7,334.9 274.6,333.2 275.9,330.9 M255.3,322.7 257.9,321.9 260.4,320.9 263,322 265.6,321.6 268.2,322.5 270.7,322.9 273.3,322.6 M275.9,330.9 275.7,327.9 273.9,325.4 273.3,322.6 M273.3,322.6 273.4,321.4 274.6,320.9 M396.1,323.2 393.3,323.7 390.6,324.4 388.2,325.8 385.5,326.6 M387.9,308.9 386.6,309.4 384.7,311 382.9,312.9 381.2,314.8 M385.5,326.6 384.4,324.3 383.8,321.9 383,319.5 381.8,317.3 381.2,314.8 M372.2,303.4 372.1,306.3 373,309.1 373.2,312 374.1,314.8 M381.2,314.8 377.6,315.8 374.1,314.8 M325.8,393.7 326.6,391.3 327.1,388.7 328.2,386.4 330.4,384.7 331.7,382.5 332.8,380.2 M319,374.3 320.3,373.6 321.8,373.4 M332.8,380.2 330.8,378.7 328.4,377.6 326.9,375 324.5,373.9 321.8,373.4 M291.9,362.7 292,362.4 292.1,362.1 M273.3,350.9 276.6,350.5 279.9,350.1 M279.9,350.1 281.6,352.4 283.9,354.1 284.9,357.2 286.8,359.4 289.7,360.4 292.1,362.1 M328.4,308.4 331.1,309.5 332.8,311.7 334.5,313.9 M343.4,305.5 342.2,308.8 341.4,312.2 M334.5,313.9 338,313.2 341.4,312.2 M436.5,526 434.5,524.8 432.7,523.5 M436.5,526 437.6,528.7 437.8,531.5 438,534.4 M432.7,523.5 430.1,523.6 427.7,524.7 425.2,525.4 422.6,525.4 M438,534.4 435.5,535.7 433.5,537.6 431.5,539.5 429.2,541 M429.2,541 427.3,539.1 425.9,536.7 424.5,534.4 422.3,532.7 420.1,531.1 M420.1,531.1 420.9,528.1 422.6,525.4 M448.7,520.2 446.3,521.5 443.6,522 441.2,523.3 438.7,524.3 436.5,526 M433,513.3 432.9,515.8 432.1,518.4 432.7,520.9 432.7,523.5 M444,536.9 443.1,536.1 440.6,535.1 438,534.4 M418.4,518.6 419.6,521 421.2,523.2 422.6,525.4 M428.6,544.9 428.5,542.9 429.2,541 M409.6,536 412.5,535.3 415.2,534.3 417.6,532.6 420.1,531.1 M322.1,582 320.6,579.4 320.7,576.6 319.4,573.9 319.9,571 319.3,568.2 M302.7,567.4 305.3,568.7 308,568.3 310.7,567.5 313.3,566.7 316,567 318.6,567.7 M318.6,567.7 318.6,568.4 319.3,568.2 M343.4,571.8 341.1,570.5 338.9,569 337.4,566.6 335.4,564.9 M319.3,568.2 322,567.6 324.7,567.4 327.6,567.7 330.1,566.7 332.9,566.7 335.4,564.9 M367.9,519.3 367.1,516.7 365.6,514.4 363.6,512.4 362.2,510 362.1,507.1 M367.9,519.3 369.5,517.1 371.8,516 373.6,514.1 376.4,513.6 378.7,512.5 381.4,511.9 383.4,510.3 384.9,507.9 M362.1,507.1 364.8,505.2 365.6,502 367.3,499.4 369.2,497 M369.2,497 372,498 375.1,498.4 377.4,500.2 379.4,502.5 381.5,504.7 384.3,505.7 M384.3,505.7 385.1,506.6 384.9,507.9 M349.3,506 351.8,506.8 354.4,506.7 356.9,507.7 359.6,507 362.1,507.1 M347.1,502.8 348.3,504.3 349.3,506 M369.2,496.1 369.1,496.5 369.2,497 M391.2,492.4 389.3,494.8 389,498 387,500.3 385.7,503.1 384.3,505.7 M388.8,511.4 387.1,509.4 384.9,507.9 M387.4,539.9 384.8,539.2 382.1,538.7 379.5,538.1 376.5,538.9 374.2,537 371.7,535.9 M386.3,524.5 383.6,525.1 380.9,524.6 378.2,524.2 375.5,524.6 372.8,525.1 370.1,525 M370.1,525 370.4,527.7 370,530.6 371.3,533.1 371.7,535.9 M367.9,519.3 367.7,520.7 367.7,522 M370.1,525 368.8,523.6 367.7,522 M370.8,551.8 369.3,549.1 367.5,546.6 366.1,543.9 M371.7,535.9 369.3,538.2 368.2,541.4 366.1,543.9 M315.6,469 316.4,469.9 M351.3,453.4 351.9,451.1 353,448.6 353.5,445.9 353.7,443.2 M334.6,458.7 332.4,458 M333.6,442.6 332.6,445.6 332.4,448.7 330.9,451.5 330.3,454.6 M333.6,442.6 336,441 338.7,440.1 341.2,438.7 343.4,436.8 M353.7,443.2 351.8,441.5 349.5,440.2 347.3,438.9 345.6,436.9 M330.3,454.6 330.8,456.6 332.4,458 M343.4,436.8 344.5,436.6 345.6,436.9 M352.6,463.5 352.3,461.1 M354.5,443 354.2,443.4 353.7,443.2 M331.5,463.2 331.2,460.7 332.4,458 M317.9,454.5 319.6,454.5 322.3,453.5 324.9,454.6 327.6,454.3 330.3,454.6 M320.1,435.9 322.5,436.7 324.2,438.9 326.6,439.7 328.8,441 330.9,442.4 333.6,442.6 M328.6,418 331,419.5 332.4,421.7 334,423.9 335.9,425.8 336.3,428.9 337.3,431.4 339.7,433 341,435.4 343.4,436.8 M352.7,419 351.1,421.3 350.7,424.1 349.2,426.5 346.8,428.5 345.9,431.1 345.5,433.9 345.6,436.9 M257.2,599.2 256.8,599.6 257,599 M256.1,579.4 254.3,580.7 253.3,582.6 M257,599 256.1,596.4 255.9,593.5 254.5,591 253.5,588.3 253.7,585.4 253.3,582.6 M236.9,603.6 237.7,602.6 237.7,601.4 M257,599 254.3,599.4 251.4,599.2 248.7,600 246.1,601.1 243.3,601.9 240.5,601.9 237.7,601.4 M201.9,580.4 202.4,580.6 202.9,580.9 M221.3,571.7 221.1,574.3 221.3,576.9 M221.3,576.9 218.5,576.9 216,577.9 213.3,578.2 210.4,577.7 207.9,578.5 205.2,579 202.9,580.9 M198,601.8 200,600.2 201.6,598.1 203.9,596.9 206.2,595.8 208.4,594.5 M202.9,580.9 204.3,583.5 205,586.4 205.4,589.4 206.3,592.2 208.4,594.5 M217.6,609 217.9,606.3 216.9,604 216.6,601.4 215.2,599.1 214.8,596.7 M208.4,594.5 211.5,595.8 214.8,596.7 M461.3,395.6 464.6,395.4 466.6,392.8 469.2,391.3 M461.3,395.6 460,393.4 458.8,391.1 456.9,389.3 455.5,387.1 M455.5,387.1 456,384.4 456.2,381.7 M469.3,387.6 468.7,389.4 469.2,391.3 M469.3,387.6 467.2,385.9 464.4,385.5 462.1,384.4 459.7,383.2 458.1,380.8 M458.1,380.8 457.1,381.2 456.2,381.7 M443.1,385.8 443.4,387.7 443.6,389.6 M449.2,392.7 446.4,391.2 443.6,389.6 M450.6,379.2 447.5,380.7 445.3,383.2 443.1,385.8 M450.6,379.2 453.1,381 456.2,381.7 M449.2,392.7 451.8,391.4 453.8,389.4 455.5,387.1 M447.2,373.4 448.4,376.6 450.6,379.2 M462.8,374.2 461.4,376.5 459.4,378.5 458.1,380.8 M484,394 482.1,394.2 M484,394 485.8,396 485.8,399 487.7,401 488.5,403.7 489.6,404.6 M473.8,406 473.8,406 M490,405.5 488,405.8 486.8,406.9 M481.5,410.9 479.5,411.4 M479.5,411.4 477.3,409.9 476.6,408.8 M473.9,406 473.8,406 M491.8,390.5 489.6,391.9 487.2,392.6 484.6,392.7 M484.6,392.7 484.6,393.5 484,394 M479.9,414.9 479.9,414.9 M479.2,413.1 479.5,411.4 M696,330.3 693.5,331.7 690.6,332.1 M687.5,318.5 685.6,320.2 683.3,321.6 681.6,323.6 M681.6,323.6 684,325.6 686.3,327.6 688.4,330 690.6,332.1 M689.6,347.3 687.5,345.7 686.6,343.2 685.2,341 M671,350.2 672.4,347.5 674.5,345.2 676.1,342.6 677,339.6 M677,339.6 679.9,339.3 682.5,340.4 685.2,341 M690.6,332.1 688.8,334.1 687.8,336.5 686.3,338.7 685.2,341 M652.6,361.3 650.1,362.6 647.4,362.7 644.7,363.1 M654.6,353.1 652,351.4 649.8,349.2 647.5,347.2 M647.5,347.2 645.9,350 642.7,351.2 641,353.9 M644.7,363.1 644.3,359.7 642.2,356.9 641,353.9 M630.9,345.3 631.8,347.8 633.5,349.9 634.9,352.1 M630.9,345.3 627.8,345.4 625,344.2 M625,344.2 623.2,346.5 623.2,349.4 623,352.3 621.9,354.9 620.7,357.4 M620.7,357.4 623.8,357.4 626.5,359.3 629.6,359.3 M629.6,359.3 631.4,357 633.8,355 634.9,352.1 M636.9,339.4 635.2,341.7 632.8,343.2 630.9,345.3 M647.7,344.6 646.9,345.8 647.5,347.2 M643.5,339.8 645,342.7 647.7,344.6 M641,353.9 637.9,353 634.9,352.1 M619.8,357.9 620,357 620.7,357.4 M631.7,365.8 630.7,362.6 629.6,359.3 M619.8,357.9 619,361 620.5,364.1 619.6,367.2 M631.7,365.8 628.8,367.1 625.6,367.9 622.9,369.9 M619.6,367.2 621,368.9 622.9,369.9 M622.9,342.3 619.3,342.3 615.9,343.4 M622.9,342.3 622,339.2 622.5,336 623,332.9 M615.9,343.4 613.3,342.1 611.8,339.3 609,338.2 M623,332.9 621.8,332.2 M609.4,334.5 609.1,335.3 609,338.2 M625,344.2 623.6,343.7 622.9,342.3 M619.8,357.9 617.8,356.3 615.3,356.7 M612.1,350 614.1,348.2 615.5,346.1 615.9,343.4 M628.7,329.7 625.9,331.5 623,332.9 M601.7,342.5 604.1,341 606.4,339.4 609,338.2 M395.6,400.9 398.2,400.8 400.9,400.4 403.5,400.7 405.9,402.1 408.5,402.4 M395.6,400.9 395,401.5 394.3,401.8 M394.3,401.8 394,404.4 392.9,406.9 393.8,409.7 392.8,412.2 M411.6,412.2 410.5,409.8 409.8,407.3 409.1,404.8 408.5,402.4 M411.6,412.2 409.2,413.7 407.2,415.7 404.5,416.7 402,417.8 M402,417.8 399.1,416.7 396,416.4 M396,416.4 394.7,414.1 392.8,412.2 M384.9,398.2 387.2,399.3 389.5,400.2 392,400.6 394.3,401.8 M381.9,415 384.8,415.3 387.6,414.7 390.2,413.7 392.8,412.2 M406,427.8 406.1,424.9 404,422.8 402.5,420.5 402,417.8 M414.5,413.6 412.9,413.2 411.6,412.2 M391.7,427.4 393.4,424.9 393.3,421.7 394.8,419.1 396,416.4 M408.5,402.4 409.9,400.3 411.8,398.6 413.3,396.6 M426.9,405.1 425.7,403.9 425.4,402.2 M413.3,396.6 415.7,397.9 417.8,399.7 420.4,400.4 422.9,401.4 425.4,402.2 M437.9,383.1 436,384.9 433.7,386.1 432,388.2 429.5,389.1 M437.9,383.1 438.5,380.2 436.6,377.6 437,374.7 M437,374.7 434.1,374.4 431.1,374.3 428.3,373.8 M428.3,373.8 429.5,376.6 428.7,379.2 427.4,381.7 426.7,384.3 426.6,387 M426.6,387 427.8,388 429.2,389.1 M429.5,389.1 429.4,389.6 429.2,389.1 M438.1,394.9 435.9,393.5 433.8,392 431.6,390.6 429.5,389.1 M438.1,394.9 439.6,392.8 441.8,391.3 443.6,389.6 M443.1,385.8 440.6,384.4 437.9,383.1 M441.6,371.6 439.4,373.3 437,374.7 M429.9,363.3 429.4,365.9 428.2,368.2 428.2,370.8 427.9,373.4 M427.9,373.4 428,373.6 428.3,373.8 M438.7,398.7 438.5,396.8 438.1,394.9 M438.7,398.7 437,401.2 434.5,402.9 432.2,404.7 430.2,406.8 M425.4,402.2 425.5,399.4 426.8,396.9 427.3,394.2 428.2,391.6 429.2,389.1 M462.1,439.8 460.7,438.4 459.4,435.9 457.1,434.3 455.1,432.5 453.1,430.6 M468.1,439.8 468.6,437.4 468.6,434.6 469,433.9 M472,427.7 472.1,427.4 472.2,424.7 M453.1,430.6 453.6,429.1 453.6,429 M472.2,424.7 470.8,424.3 M468.5,423.4 465.8,421.6 M465.8,421.6 463.7,422.3 M440.6,440.5 442.3,440 M450.2,434.7 451.2,432.5 453.1,430.6 M456.4,449.5 457.3,447.2 M473.6,424.3 473.1,425.2 472.2,424.7 M436.7,420.9 437.6,421.2 M466.6,407.5 465.2,404.8 463.4,402.3 462.1,399.5 460.8,396.8 M466.6,407.5 465.5,409.1 463.9,410.3 M463.9,410.3 460.9,410.8 457.8,411.7 454.7,409.9 451.7,410.4 M460.8,396.8 458.1,397.5 455.4,398.5 452.8,399.8 450.3,401.3 M449.2,403.3 449.3,402 450.3,401.3 M449.2,403.3 450.1,406 449.7,408.9 M449.7,408.9 451.1,409.2 451.7,410.4 M469.2,391.3 471.4,393.5 473.5,395.4 M461.3,395.6 460.6,396 460.8,396.8 M473.8,406 470.3,407 466.6,407.5 M465.8,421.6 464.3,418.9 465,415.9 464.5,413.1 463.9,410.3 M451.3,419.8 451.3,418.8 452.9,415.8 452.9,413 451.7,410.4 M449.2,392.7 450.1,395.5 450.2,398.4 450.3,401.3 M438.7,398.7 441.2,400.2 444,400.8 447.1,400.8 449.2,403.3 M435.2,415.9 437.6,414.7 440.6,414.8 442.3,412.1 444.8,411 447.2,409.8 449.7,408.9 M286.4,274.1 284.4,276.8 283.6,280.1 282.3,283.1 M286.4,274.1 289,274.6 291.5,275.6 293.9,276.7 296.5,277.5 299.1,277.9 M282.3,283.1 284.5,284.4 286.3,286.3 288.2,288 290.2,289.6 M299.1,277.9 299.4,277.7 299.1,277.9 M299.1,277.9 297.8,280.3 297,282.9 295.5,285.1 294.6,287.6 292.4,289.5 M292.4,289.5 291.3,288.9 290.2,289.6 M276,285.5 279.1,284.3 282.3,283.1 M286,273.1 286.2,273.6 286.4,274.1 M299.5,263.4 300.4,266.4 300.4,269.3 300.3,272.2 300.2,275.1 299.1,277.9 M284.5,298.6 286,296.3 286.5,293.5 288.1,291.4 290.2,289.6 M297.8,294.2 300.6,293.5 303,291.9 305.9,291.2 M302.1,278.7 303.4,281.1 304.2,283.5 305,286 305.3,288.7 305.9,291.2 M302.1,278.7 300.6,278.4 299.1,277.9 M297.8,294.2 294.5,292.6 292.4,289.5 M291.4,303.1 294.3,302.5 296.9,301 M297.8,294.2 297.3,297.6 296.9,301 M300.8,262.1 303.2,262.6 305.5,262.2 M310.5,251.3 311.3,252.5 311,253.8 M311,253.8 309.9,256 308.3,258 307.1,260.2 305.5,262.2 M488.7,378.3 486.1,380 484.2,382.7 481.2,384 M488.7,378.3 489.7,376.3 489,374.2 M489,374.2 487.2,371.8 484.7,370.1 M481.2,384 478.3,382.4 475.3,381 M481.9,370.2 483.3,370.3 484.7,370.1 M481.9,370.2 479.5,371.8 477.6,373.8 476.3,376.4 474.8,378.7 M474.8,378.7 474.3,380 475.3,381 M493.8,383.2 491,381 488.7,378.3 M484.6,392.7 482.8,390.1 482,387.1 481.2,384 M497.3,371.4 494.3,371.8 491.8,373.4 489,374.2 M487.7,363.4 487.1,367.1 484.7,370.1 M469.3,387.6 471.1,385.2 473.6,383.5 475.3,381 M473.4,362.3 475.6,364.3 477.6,366.3 478.9,369.2 481.9,370.2 M469.1,374 472.1,376.1 474.8,378.7 M374.1,314.8 372.8,315.9 371.6,317 M358.2,312.7 358.5,313.1 358.2,313.4 M358.2,313.4 360.8,314.5 363.4,315.3 366.2,315.5 368.9,316.1 371.6,317 M398.2,336.7 395.2,337.1 392.2,336.3 389.3,337.4 386.3,337.6 M385.5,326.6 385.4,327.8 384.3,328.5 M384.3,328.5 385.1,331.5 385.3,334.6 386.3,337.6 M400.9,338.5 401,341.4 399.7,343.8 398.6,346.3 398,348.9 M386,346.1 389.2,345.8 392,347.4 394.7,349.4 398,348.9 M386,346.1 384.3,344.2 384.1,341.7 M386.3,337.6 384.7,339.4 384.1,341.7 M413.3,396.6 413.5,393.5 413.5,390.4 413.4,387.3 M426.6,387 423.9,386.4 421.4,386.7 418.8,386.5 416.2,387.8 413.6,387.2 M413.4,387.3 413.7,387.4 413.6,387.2 M395.6,400.9 396.8,398.5 397.1,396 397,393.4 396.4,390.7 398.3,388.5 398.6,386 M413.4,387.3 410.4,387.9 407.4,388 404.5,386.8 401.6,386.1 398.6,386 M381.8,387.8 383.2,385.6 383.9,383 386.4,381.6 387.8,379.4 M391,379 392.4,379.6 393.9,380 M387.8,379.4 389.4,379.2 391,379 M398.6,386 397.2,383.9 395.1,382.2 393.9,380 M392.1,360.6 392.3,361.4 393,361.7 M392.1,360.6 393.5,358.5 393.8,355.7 395.5,353.8 396.3,351.3 398.2,349.4 M393,361.7 395.8,361.9 398.2,363.7 400.9,364.3 403.8,363.9 M403.8,363.9 405,361.3 405.1,358.6 406.3,356.1 406,353.3 M398.2,349.4 400.8,350.8 403.9,351 406,353.3 M388.9,359.8 390.6,359.9 392.1,360.6 M384.3,353 386,355.1 387.9,357.2 388.9,359.8 M386,346.1 385.3,349.6 384.3,353 M398,348.9 398.3,349.1 398.2,349.4 M412.1,350.9 409.2,352.6 406,353.3 M366.6,379.4 366.8,378.1 367.6,377.1 M370.2,388.5 368.6,385.6 367.9,382.4 366.6,379.4 M387.8,379.4 386,377.3 383.6,375.9 381.6,374.2 379.4,372.5 M367.6,377.1 369.5,375.2 372,374.4 374.5,373.9 377.1,373.4 379.4,372.5 M391,379 389.8,375.9 390.9,373.2 390.7,370.2 391.9,367.4 392.9,364.6 393,361.7 M388.9,359.8 385.7,360.6 383.7,363 381.1,364.7 379,367 M379.4,372.5 379.9,369.7 379,367 M299.2,314.8 300.1,311.6 301.1,308.4 302.5,305.4 M299.2,314.8 300.1,316.3 300.7,317.9 M300.7,317.9 303.8,317 306.9,317.8 309.9,319 313,317.9 M313,317.9 312.6,314.9 312.6,311.8 311.8,308.9 310.8,306 M302.5,305.4 305.6,305.5 308.3,304.1 M310.8,306 309.8,304.7 308.3,304.1 M289.5,311.8 292,312.4 294.3,313.4 296.8,314.1 299.2,314.8 M296.9,301 299.4,303.6 302.5,305.4 M310.1,293 310.4,295.9 309.5,298.6 308.3,301.3 308.3,304.1 M305.9,291.2 307.9,292.3 310.1,293 M320.3,303.9 317.3,305.2 314,305.5 310.8,306 M314.3,291.4 312.3,292.5 310.1,293 M321.2,294.1 317.7,293 314.3,291.4 M291,326.8 288.2,328.6 287.1,331.5 286.1,334.4 M291,326.8 294.4,327 297.6,325.6 M297.6,325.6 299.7,327.9 301.3,330.8 304,332.6 M304,332.6 302,334.4 301.3,336.9 300.1,339.2 298.7,341.3 297.8,343.7 M297.8,343.7 295.4,343.1 293.1,341.8 290.3,342.5 288,341.2 M286.1,334.4 286.3,338 288,341.2 M286.3,320.5 287.2,323.1 288.5,325.4 291,326.8 M275.9,330.9 278.5,331.7 280.9,333 283.5,333.6 286.1,334.4 M300.7,317.9 299.6,320.4 299.3,323.3 297.6,325.6 M279.9,350.1 282.4,348.2 283.7,345.4 285.9,343.3 288,341.2 M292.1,362.1 292.4,362 292.6,361.7 M297.8,343.7 299.3,344.8 299.7,346.6 M292.6,361.7 293.7,359.2 295.5,356.9 296.6,354.4 297.3,351.6 298.5,349.1 299.7,346.6 M309.4,366.5 309.3,363.8 309,361.2 M292.6,361.7 295.3,360.9 298,360.3 300.8,361.3 303.6,361.7 306.3,361.8 309,361.2 M321.8,373.4 323.7,371.3 324.2,368.7 324.9,366.1 324.7,363.3 M324.7,363.3 321.9,362.2 319.3,360.9 316.8,359 314,358.4 310.8,358.5 M309,361.2 309.3,359.5 310.8,358.5 M314.2,339.8 317,340.5 318.9,342.8 321.6,343.6 M314.2,339.8 313.6,343 311.9,345.4 309.5,347.3 307.2,349.3 M321.6,343.6 321.7,347 320.5,350.2 M320.5,350.2 317.8,350.7 315.6,352.2 313.5,354 310.9,354.7 M310.9,354.7 308.5,352.4 307.2,349.3 M299.7,346.6 302.3,347.2 304.6,348.5 307.2,349.3 M311.9,332.1 312.5,334.7 313,337.3 314.2,339.8 M311.9,332.1 309.2,332.1 306.5,331.2 304,332.6 M310.8,358.5 310.6,356.6 310.9,354.7 M320.4,533.9 318.7,532 316.3,530.8 314.5,529.1 313.6,526.5 M320.4,533.9 319.7,536.5 318.1,538.5 317.4,541.1 314.9,542.7 314.1,545.3 M301.5,544.8 302.1,542.3 302.2,539.7 302.8,537.3 302.1,534.6 302.3,532 303.4,529.7 304.9,527.4 M301.5,544.8 304,546 306.6,545.6 309.1,545.4 311.6,545.2 314.1,545.3 M304.9,527.4 307.8,527 310.8,527.9 313.6,526.5 M298,547 299.7,545.7 301.5,544.8 M296.7,519.6 298.7,521.6 300.3,524 302.6,525.7 304.9,527.4 M319.8,551.5 320.1,554.2 320.2,556.9 319.8,559.6 319.2,562.3 318.4,565 318.6,567.7 M319.8,551.5 318,549.4 315.7,547.6 314.1,545.3 M316.1,522 316.1,522.1 315.2,524.5 313.6,526.5 M367.7,522 365.2,522.8 362.8,523.4 360.1,523.7 358,525.1 355.5,525.8 353.2,526.9 M366.1,543.9 363.5,544.2 360.9,545 358.3,544 355.8,543.8 M353.2,526.9 353.2,529.8 353.3,532.7 354.5,535.4 355.1,538.1 355.5,541 355.8,543.8 M319.8,551.5 322.2,550.1 324.8,549.6 327.2,548.4 329.5,546.9 332.1,546.3 335,546.6 337.5,545.8 M335.4,564.9 335.7,562.4 336.7,560 336.6,557.4 336.8,554.9 338.2,552.6 338.7,550.1 339.6,547.7 M339.6,547.7 338.3,547 337.5,545.8 M354.8,560.6 354.1,558.1 353.2,555.6 352.3,553.1 351.5,550.6 349.9,548.5 M339.6,547.7 342.1,548.4 344.7,548.5 347.3,548.3 349.9,548.5 M349.9,548.5 352.8,546.1 355.8,543.8 M222.4,578.3 222.8,580.9 223,583.5 222.2,586 222.2,588.5 221.8,591.1 M222.4,578.3 225.1,578.5 227.8,578.8 230.5,578.9 233.2,578.9 235.9,578.7 238.5,580.1 M221.8,591.1 224.3,592.1 226.6,593.4 229.1,594.2 231.3,595.7 233.9,596.4 236.2,597.6 M236.2,597.6 236.1,594.9 237.6,592.6 238.7,590.2 239.7,587.8 239.5,585 240.7,582.7 M238.5,580.1 239.1,581.8 240.7,582.7 M221.3,576.9 221.3,578 222.4,578.3 M214.8,596.7 217.2,594.9 219.8,593.4 221.8,591.1 M240.6,563.2 240,565.9 240.3,568.9 241.2,571.8 241,574.7 240,577.4 238.5,580.1 M237.7,601.4 237.2,599.4 236.2,597.6 M253.3,582.6 250.7,582.3 248.2,581.8 245.7,582.5 243.2,582.6 240.7,582.7 M686.3,308.3 684.3,310.1 681.5,309.7 679.1,310.6 676.6,310.9 674.4,312.3 M681.6,323.6 681.3,323.7 681,323.7 M681,323.7 680.5,320.9 678.5,319 677.8,316.4 675.5,314.7 674.4,312.3 M669.4,304.4 671.2,307.5 670.9,311.1 M659.4,315.2 663,315.3 666.6,315.4 M666.6,315.4 669.1,313.6 670.9,311.1 M670.9,311.1 672.9,311 674.4,312.3 M605.1,364.6 607.3,365.9 608.8,368.1 610.9,369.6 M605.1,364.6 603.7,366.8 602.3,369.1 599.6,370.1 598.1,372.2 M610.9,369.6 611,372.4 612.3,375.2 610.9,378.1 611.4,379.7 M598.1,372.2 599.1,374.6 599.6,377 601,379.2 601,379.7 M605,363.6 605.1,364.1 605.1,364.6 M619.6,367.2 616.6,367.5 613.9,369.3 610.9,369.6 M589.6,370.9 592.5,371 595.4,370.8 598.1,372.2 M613.6,408.8 613.5,406.2 613,404.4 M630.8,402.8 628.8,400.8 626.6,399.1 625.4,396.2 625.1,395.9 M631.1,405 630.5,404 630.8,402.8 M622.9,369.9 623.3,372.5 622.9,375.1 623.5,377.7 623.5,379.9 M323.9,250.8 322.3,253.6 322.6,256.8 M335.7,260.8 333.1,261.1 330.8,262.3 M330.8,262.3 327.6,261.1 324.9,259.2 322.6,256.8 M311,253.8 313.7,255.4 316.4,257 319.2,258.2 M322.6,256.8 320.6,256.7 319.2,258.2 M334.5,313.9 334.2,317.2 332.4,320.1 331.7,323.3 M333.3,324.6 332.2,324.3 331.7,323.3 M341.4,312.2 343.4,314.9 345.8,317.3 M333.3,324.6 336.1,325.5 338.9,325.2 341.7,323.6 344.5,324.6 M345.8,317.3 345.8,321.1 344.5,324.6 M358.2,313.4 357.5,313.5 357.7,314.2 M345.8,317.3 348.7,316.5 351.6,315.4 354.6,314.7 357.7,314.2 M370.8,327.6 368.2,327 365.7,327.5 363.1,327.7 360.6,328.2 358,327.9 M370.8,327.6 371.6,327.5 371.4,328.4 M371.4,328.4 371.7,331.6 371.3,334.7 M371.3,334.7 369.4,336.6 367.3,338.2 365.5,340.1 363.7,342 M361.7,341.3 362.6,341.9 363.7,342 M361.7,341.3 360.6,338.9 359.9,336.4 358,334.3 357,331.8 356.9,329 M356.9,329 357.9,328.9 358,327.9 M371.6,317 371.1,319.7 370.3,322.3 371,325 370.8,327.6 M357.7,314.2 357.3,317 357.3,319.7 357.4,322.4 356.6,325.2 358,327.9 M384.3,328.5 381.7,328.8 379.1,329 376.5,329.6 374,328.9 371.4,328.4 M378.6,341.9 376.5,340.5 375.4,337.9 373.7,335.9 371.3,334.7 M384.1,341.7 381.4,342.3 378.6,341.9 M348.7,330.7 351.4,330.4 353.9,328.3 356.9,329 M345.8,336.3 347.3,333.6 348.7,330.7 M354,344.8 356.5,343.5 359,342.3 361.7,341.3 M345.8,336.3 348.4,337.8 350.3,340.1 351.9,342.7 354,344.8 M344.5,324.6 346.8,327.6 348.7,330.7 M420.9,372.3 418.3,373.4 416.4,375.3 414,376.8 M420.9,372.3 420.6,369.4 419,366.9 418.7,364 417.8,361.3 M414,376.8 411.5,375.8 409.5,374.1 407.9,372 405.9,370.3 M417.8,361.3 415.5,362.5 413.2,363.8 410.6,364.3 408.5,366.1 405.9,366.7 M405.9,366.7 406.5,368.5 405.9,370.3 M427.9,373.4 424.5,372.5 420.9,372.3 M413.6,387.2 413.8,384.6 413.7,382 413.6,379.4 414,376.8 M419.3,358.1 418.1,359.5 417.8,361.3 M393.9,380 395.5,377.8 398,376.7 399.7,374.8 402.4,374.1 403.8,371.8 405.9,370.3 M403.8,363.9 405,365.2 405.9,366.7 M357.9,366.2 358.6,363.6 359.6,361.1 359.8,358.3 360.2,355.6 M360.2,355.6 357.2,355.6 355,353.7 352.6,352.1 M352.1,368.2 354.8,366.7 357.9,366.2 M352.1,368.2 350.2,366.3 349.5,363.6 347.6,361.7 M347.6,361.7 349,359.4 349.9,356.7 351.1,354.3 352.6,352.1 M350.9,371 348.4,372 346.2,374 343.3,374 340.8,375.1 338,375.4 M350.9,371 351.4,373.8 352.3,376.4 353.4,378.9 355.2,381.1 M349.3,390.7 350.9,388.4 352.1,385.8 353.7,383.5 355.2,381.1 M349.3,390.7 347.9,388.5 345.6,387.3 343.5,385.8 341.7,384.1 340.1,382.2 337.6,381.2 336,379.2 M336,379.2 336.8,377.2 338,375.4 M366.6,379.4 363.9,381.2 361,380.8 358.1,381 355.2,381.1 M357.9,366.2 360.7,368.2 364,368.8 M367.6,377.1 366.6,374.3 364.8,371.7 364,368.8 M352.1,368.2 350.9,369.4 350.9,371 M349.8,394.5 349.8,392.5 349.3,390.7 M332.8,380.2 334.3,379.4 336,379.2 M345.8,336.3 344.8,337.2 343.5,337.5 M333.3,324.6 334.5,327.7 335.5,330.8 334.5,334.2 M334.5,334.2 337.8,334.5 340.7,335.8 343.5,337.5 M354,344.8 353.3,348.2 352.4,351.5 M352.4,351.5 349.6,350.9 347,349.9 344.1,349.9 341.6,348.5 338.7,348.8 M343.5,337.5 342.2,340.3 340.8,343 339.4,345.8 338.7,348.8 M313.2,330.6 316.3,331.3 319.4,330.3 322.5,330.4 M313.2,330.6 314.5,327.5 313.6,324.4 313.4,321.3 313.3,318.2 M322.5,330.4 323.8,327.8 326.1,325.9 327.8,323.6 M327.8,323.6 325.9,321.9 324.2,319.9 322.6,317.8 320.2,316.6 M320.2,316.6 316.7,317.3 313.3,318.2 M311.9,332.1 312.5,331.3 313.2,330.6 M327.2,340.8 327.8,339.7 327.8,338.5 M327.8,338.5 325.6,336.1 324.1,333.2 322.5,330.4 M321.6,343.6 324.4,342.1 327.2,340.8 M313,317.9 313.3,317.8 313.3,318.2 M331.7,323.3 329.8,323.5 327.8,323.6 M327.8,338.5 330,337 331.8,334.9 334.5,334.2 M324.8,308.7 322.9,311.2 320.9,313.5 320.2,316.6 M330.2,522.6 329.8,525.1 329.7,527.8 329.4,530.4 329.8,533.1 M329.8,533.1 332.4,534 M349.3,506 348.8,508.5 347.3,510.6 345.6,512.7 345.7,514.2 M353.2,526.9 351.9,526.2 M337.5,545.8 336.6,543.4 M320.4,533.9 323.6,534.1 326.7,533.2 329.8,533.1 M673.6,334.5 673.9,332.2 673.6,329.9 M673.6,334.5 671.2,335.3 668.3,334.6 665.9,335.6 663.6,336.7 661.4,338.2 659,339 M673.6,329.9 671.9,328 670,326.3 667.7,325.2 M667.7,325.2 664.7,326.1 662,327.7 659.1,328.9 655.8,328.9 M655.5,329.8 656,329.4 655.8,328.9 M655.5,329.8 656.7,332.8 659,335.4 658.8,338.9 M658.8,338.9 659.2,338.4 659,339 M677,339.6 675.2,337.1 673.6,334.5 M681,323.7 679,326.3 676.1,327.9 673.6,329.9 M663.5,349.8 662.4,347.1 660.7,344.7 660.8,341.4 659,339 M666.6,315.4 666,318.8 667.3,321.9 667.7,325.2 M654,322.2 654.5,325.6 655.8,328.9 M646.8,331.5 649.6,330.3 652.6,330.1 655.5,329.8 M647.7,344.6 650.6,343.4 653.8,342.7 656.2,340.7 658.8,338.9 M631.7,365.8 634.5,366.7 636.7,368.6 M627,380.5 629,379.3 631.3,377.5 634.1,377 M634.1,377 633.8,373.8 635.7,371.3 636.7,368.6 M644.7,363.1 643.2,364.7 642.6,366.8 M642.6,366.8 639.8,368.2 636.7,368.6 M630.8,402.8 632.7,401 634.4,399.1 636.1,397.1 638.1,395.4 639.8,393.4 M626.5,388.2 629.1,387.9 631.8,387 634.4,388.6 637.1,388.9 M639.8,393.4 637.9,391.5 637.1,388.9 M645.7,403.3 645.5,400.5 646.5,397.5 645.1,394.7 M639.8,393.4 642.4,394.2 645.1,394.7 M634.1,377 636,380 638.8,382.3 M637.1,388.9 637.9,385.6 638.8,382.3 M656.6,396.4 654.4,393.4 651.4,391.3 M645.1,394.7 648.7,393.9 651.4,391.3 M335.5,279.5 333.6,279.2 331.7,279.2 M330.8,262.3 329.2,265.6 327.4,268.7 M327.4,268.7 328.2,271.5 329.5,274 330.5,276.7 331.7,279.2 M325.3,292.5 327.1,290.1 327,287.1 326.8,284.1 328.2,281.6 M328.2,281.6 330.1,280.5 331.7,279.2 M362.3,355 364.8,356.2 366.6,358.5 369.1,359.7 371.7,360.6 M362.3,355 364,352.4 365.6,349.7 366.4,346.6 M372.4,347.8 369.3,347.6 366.4,346.6 M372.4,347.8 373.2,350.4 375.1,352.6 375.5,355.3 M375.5,355.3 374.4,357.9 373,360.5 M373,360.5 372.3,360.1 371.7,360.6 M364,368.8 366.6,367.3 367.5,364.4 369.1,362 371.7,360.6 M360.2,355.6 361.2,355 362.3,355 M352.6,352.1 352.6,351.7 352.4,351.5 M363.7,342 364.9,344.4 366.4,346.6 M378.6,341.9 377,344.4 374.5,345.9 372.4,347.8 M384.3,353 381.6,354.8 378.4,354.5 375.5,355.3 M379,367 378,364 375.3,362.4 373,360.5 M336.3,366 338.4,363.1 340.9,360.6 M336.3,366 334.2,363.8 331.6,363 328.5,363.6 326,362.2 M340.9,360.6 339.9,357.9 338.8,355.3 337.9,352.6 337,349.9 M326,362.2 327,359.2 327.3,356 M327.3,356 329.8,354.9 332,353.4 333.9,351.5 336,349.9 M336,349.9 336.5,350.2 337,349.9 M338,375.4 337.4,372.3 337.6,369 336.3,366 M347.6,361.7 344.2,361.8 340.9,360.6 M324.7,363.3 325.1,362.5 326,362.2 M338.7,348.8 337.5,348.8 337,349.9 M320.5,350.2 322.5,352.5 324.8,354.4 327.3,356 M327.2,340.8 329.5,342.1 331,344.1 333.1,345.7 334.5,347.8 336,349.9 M649.2,376.8 648.7,378.4 647.8,379.9 M649.2,376.8 652.3,375.3 655.8,375.3 M647.8,379.9 649,382.5 649.9,385.2 649.6,388.4 651.5,390.8 M655.8,375.3 657.3,377.4 658.8,379.6 661.2,381.1 662.2,383.7 M662.2,383.7 660.5,385.9 658.2,387 655.1,387 653,388.5 651.5,390.8 M642.6,366.8 644.5,369.2 646.8,371.2 648.1,373.9 649.2,376.8 M638.8,382.3 641.6,380.8 644.9,381 647.8,379.9 M661.7,366.8 659.7,368.5 659.6,371.6 658.2,373.8 655.8,375.3 M651.4,391.3 651.5,391.1 651.5,390.8 M666.4,384.5 664.3,383.9 662.2,383.7 M316.8,265 318.4,267.2 320.2,269.3 M316.8,265 313.1,265.5 309.5,266 M320.2,269.3 318.4,272.1 317,275.1 316.3,278.4 M309.5,266 308.7,268.5 308.7,271.2 310.1,273.9 308.8,276.4 M308.8,276.4 312,277.7 315.3,278.8 M315.3,278.8 315.9,278.9 316.3,278.4 M319.2,258.2 318.1,261.6 316.8,265 M327.4,268.7 323.8,268.7 320.2,269.3 M305.5,262.2 307.4,264.2 309.5,266 M328.2,281.6 325,281.7 322,280.8 319.3,278.9 316.3,278.4 M302.1,278.7 305.4,277.5 308.8,276.4 M314.3,291.4 313.8,288.9 314.4,286.4 314.6,283.8 314.9,281.3 315.3,278.8 M180,121.6 186.2,121.6 192.5,117.4 200.8,116.4 209.1,118.4 221.6,121.6 232,121.6 240.3,118.4 246.5,117.4 248.6,123.6 252.7,129.9 253.8,136.1 256.9,142.3 263.1,146.5 269.4,150.6 273.5,154.8 271.4,163.1 269.4,167.3 M246.5,117.4 254.8,113.2 259,109.1 267.3,104.9 273.5,100.8 279.7,96.6 283.9,94.5 286,93.5 287,89 M286,94.5 287,100.8 288,109.1 292.2,117.4 298.4,121.6 304.7,125.7 308.8,129.9 306.8,136.1 304.7,142.3 306.8,148.6 310.9,154.8 317.1,156.9 M121,392.3 123,398.6 122,409 123,417.3 119,423.5 110.6,427.7 106.5,434" fill="none" stroke="#ffffff" stroke-width="0.9" stroke-opacity="0.85" stroke-linejoin="round"/>
<path d="M257.3,481.8 255.5,487.3 256.4,494.5 255.5,503.6 256.4,511.8 M257.3,481.8 264.5,480.9 266.4,489.1 271.8,492.7 276.4,494.5 276.4,501.8 274.5,509.1 273.6,516.4 M256.4,500 262.7,498.2 268.2,494.5 271.8,492.7 M276.4,494.5 282,493.5 288.2,492.7 291.8,485.5 290,478.2 288.2,474.5 M294.4,477.4 297,480.5 301.2,483.6 306.4,487.8 311.6,492 315.7,495.1 319.9,493 323,489.9 324,484.7 323,479.5 322,474.3 321,470.6 M291.8,485.5 299.1,492.7 306.4,498.2 310,501.8 315.7,495.1 M310,501.8 308.2,509.1 306.4,516.4 307.8,518.6 M310,501.8 320.9,500 330,494.5 335.5,492.7 342.7,492.7 346.1,492.6 M323,489.9 330,494.5 M328.2,467.3 329.1,472.7 331.8,481.8 330,487.3 330,494.5 M335.5,472.7 339,480 337.3,487.3 335.5,492.7 M331.8,494.5 331.8,505.5 330,516.4 329.1,521.5 M328.2,467.3 335.5,472.7 342.7,473.6 346.4,472.7 M240,497 247,499 252,500 256.4,500 M276.4,501.8 285,503 292,505 300,507 306.4,509" fill="none" stroke="#ffe3d3" stroke-width="0.9" stroke-opacity="0.9" stroke-linejoin="round"/>
<polygon points="431.2,428.2 432.4,424.5 437.3,420.8 439.8,419.5 443.5,420.2 448.4,422 451.5,418.9 454.6,418.3 458.3,420.8 462,421.4 467,422.6 470.7,423.2 472.5,425.7 472.5,430.7 471.9,434.4 470.7,436.8 468.8,435.6 468.2,431.9 467,429.4 460.8,428.2 455.8,428.2 452.8,430 451.5,433.1 450.3,433.1 451.5,438.1 447.2,439.9 443.5,441.1 439.8,439.3 436.1,436.8 432.4,434.4 430.6,431.9" fill="none" stroke="#fff0ea" stroke-width="0.9" stroke-opacity="0.9"/>
<polygon points="480.5,413.4 484.2,409.7 489.2,410.3 492.9,413.4 494.1,416.5 489.2,417.7 485.5,418.3 481.8,416.5" fill="none" stroke="#fff0ea" stroke-width="0.9" stroke-opacity="0.9"/>
<polygon points="499,396.1 504,394.3 510.1,396.1 513.8,398 513.8,403.5 511.4,407.2 506.4,408.4 501.5,406.6 499,402.3" fill="none" stroke="#fff0ea" stroke-width="0.9" stroke-opacity="0.9"/>
<polygon points="481.8,436.8 484.2,435.6 486.7,439.3 489.2,443 492.9,446.7 495.3,450.4 496.6,454.1 494.1,454.7 490.4,451.6 486.7,449.2 481.8,446.7 480.5,441.8" fill="none" stroke="#fff0ea" stroke-width="0.9" stroke-opacity="0.9"/>
<polygon points="474.4,390 481.8,392.4 484.2,397.3 488,403.5 486.7,409.7 481.8,411.5 476.8,409.7 471.9,404.7 472.5,397.3" fill="none" stroke="#fff0ea" stroke-width="0.9" stroke-opacity="0.9"/>
<polygon points="489,395.5 496,394.8 499,399 499.5,405 497,409.7 491,409.5 488.5,403" fill="none" stroke="#fff0ea" stroke-width="0.9" stroke-opacity="0.9"/>
<polygon points="500.5,390 505,386 511,384 517,379 521.5,384 520.5,393 518,399 514,400 510.1,396.1 504,394.3 499,396.1" fill="none" stroke="#fff0ea" stroke-width="0.9" stroke-opacity="0.9"/>
<polygon points="468.2,413 476.5,410.5 480.5,413.5 480,420 476,423.2 471,423.2 468.5,419" fill="none" stroke="#fff0ea" stroke-width="0.9" stroke-opacity="0.9"/>
<polygon points="457.1,443 462,439.3 468.2,439.3 471.9,436.8 474.4,440.5 475.6,449.2 473.1,456.6 465.7,459 459.5,456.6 456.5,450.4" fill="none" stroke="#fff0ea" stroke-width="0.9" stroke-opacity="0.9"/>
<polygon points="474.4,433.1 478,431.9 481.8,436.8 480.5,441.8 481.8,446.7 477,447 475,440" fill="none" stroke="#fff0ea" stroke-width="0.9" stroke-opacity="0.9"/>
<polygon points="419.4,455.8 425,451.5 432,450 440,449 447.2,448 451.5,447 456.5,450.4 459.5,456.6 458.1,461 447.1,468.7 436,465 424.9,465 419.4,461.3" fill="none" stroke="#fff0ea" stroke-width="0.9" stroke-opacity="0.9"/>
<polygon points="478,447 481.8,446.7 486.7,449.2 490.4,451.6 494.1,454.7 496.6,454.1 502.4,461.3 498.7,472.4 487.7,476.1 480.3,472.4 476.6,460 473.1,456.6 475.6,449.2" fill="none" stroke="#fff0ea" stroke-width="0.9" stroke-opacity="0.9"/>
<polygon points="293,450 298,444 306,441.5 315,442 318.8,448 318,460 319.1,469 311.8,470 302.7,471.8 297.3,472.7 294,466 294.5,457" fill="none" stroke="#fff0ea" stroke-width="0.9" stroke-opacity="0.9"/>
<polygon points="263.2,613 270,613.5 278,612.7 288,612.9 297,612.7 304.8,612.9 304.8,624 304,636.6 296,634 290,636 283,634.7 276,635.5 268,636.6 263.5,634 264.5,625" fill="none" stroke="#fff0ea" stroke-width="0.9" stroke-opacity="0.9"/>
<polygon points="271.7,287.7 276,288 278,298.6 275,299 272.5,294" fill="none" stroke="#fff0ea" stroke-width="0.9" stroke-opacity="0.9"/>
<polygon points="271,304.8 277,305 282,312 284,323.5 278,323.5 274,316 271,310" fill="none" stroke="#fff0ea" stroke-width="0.9" stroke-opacity="0.9"/>
<polygon points="201,171 205,167 210,168 213,174 212,180 209,181 205,176" fill="none" stroke="#fff0ea" stroke-width="0.9" stroke-opacity="0.9"/>
<polygon points="700,286 706,284 714,285 720.5,288 718,296 712,301 703,302 700,295" fill="none" stroke="#fff0ea" stroke-width="0.9" stroke-opacity="0.9"/>
<polygon points="602.6,409 608.8,408.8 608,416 603,416" fill="none" stroke="#fff0ea" stroke-width="0.9" stroke-opacity="0.9"/>
<polygon points="618,401 624,400.5 626.5,405 625,412 619,411" fill="none" stroke="#fff0ea" stroke-width="0.9" stroke-opacity="0.9"/>
</g>
<path d="M221.8,183.6 224.2,183.8 226.7,184.3 229.1,184.5 232,183.6 234.5,181.8 234.5,179.5 234.5,177.2 234.6,175 234.5,172.7 236.1,169.8 238.2,167.3 240.5,166.2 242.8,165.1 245.2,164.1 247.3,162.7 249.5,161.8 251.8,161.6 254,160.9 256.4,160.9 258.6,162.7 261.1,164.1 263.6,165.5 266.2,165.6 268.3,167.2 270.9,167.3 273.3,168.1 275.7,168.1 278.2,168.2 279.9,169.8 282,170.9 283.6,172.7 285.7,173.5 287.2,175.2 289.1,176.4 292.2,176.3 295.1,177.1 M234.5,181.8 233,184.7 230.9,187.3 229.1,190.9 231.1,193.5 232.7,196.4 234.5,197.9 235.5,200 236.9,201.8 238.2,203.6 239.1,206.2 240.6,208.5 241.8,210.9 244.5,211.9 247.3,212.7 249.1,214.5 250.9,216.4 252.6,219.2 254.5,221.8 256.4,223.6 258.2,225.5 258.9,227.7 259.2,230 258.7,233.1 259.2,236.2 M259.2,236.2 261.5,236 263.5,235.1 265.5,234 267,234.7 269,235.9 271.2,236.6 273.2,237.8 276.3,236.7 279.5,236.2 279.7,233.1 280.3,230 279.7,227.3 280.4,224.5 280,221.8 281.7,219.9 283.6,218.2 286.5,217.2 289.1,215.5 291.5,215 294,215.3 296.4,214.5 298.7,215.5 301.3,215.2 303.6,216.4 307.3,218.2 309.9,215.4 M188.2,249.1 191.4,249.2 194.5,250 197.1,251.3 200,251.8 203.1,251 206.2,250.3 209.3,251.2 212.5,251 214.6,252.2 216.9,253.2 218.7,254.9 219.4,258.1 220.3,261.2 223.4,258.8 225.9,257.5 228.1,255.7 231.2,255 234.3,254.9 237.3,253.7 240.5,253.4 241.4,251.2 243,249.4 243.6,247.1 246.8,246.6 249.9,245.6 253.8,244 253.7,241.6 254.5,239.4 256.7,237.6 259.2,236.2 M201.6,251.5 202.5,253.6 203.1,255.7 203.1,258 203.2,260.4 204.2,262.6 204.2,265.1 204.7,267.4 207.1,267.3 209.4,267.4 212.6,267.9 215.6,269 218.2,269.8 220.9,269.6 223.4,270.5 224,273.7 224.9,276.8 226.1,279.8 226.5,283 228.1,285.3 229.6,287.7 232.2,289.8 234.3,292.3 236,293.7 237.4,295.5 236.9,298.6 237.4,301.7 237.5,304.4 238.2,307.1 242.1,307.9 242.6,304.7 243.6,301.7 246.8,300.1 249,301.3 251.4,301.7 254.5,300.1 257.7,298.6 259.2,301.7 259.5,304.8 259.2,307.9 259.7,310.2 260,312.6 262.3,311 265.5,309.5 268.6,309.5 271.7,307.9 M279.5,236.2 277.7,237.5 276.4,239.4 274.7,241.6 273.2,244 271.2,246.7 268.6,248.7 267.3,250.6 267.3,252.9 266.2,254.9 266.1,258.1 265.5,261.2 265.2,263.8 265.7,266.4 265.5,269 266,271.6 266.4,274.2 266.2,276.8 267,279 267,281.4 268.1,283.4 269.6,285.2 270.4,287.3 271.7,289.2 272.6,291.5 273.2,293.9 274,296.2 274.8,298.6 273.5,300.7 273.2,303.2 272.5,305.6 271.7,307.9 M279.5,236.2 279.7,238.7 279.7,241.2 280.7,243.7 281.1,246.2 281,248.7 280.6,251.3 280.7,253.9 281,256.5 283.5,257.8 285.7,259.6 287.9,258.5 290.4,258 292.6,257.2 294.7,256.4 296.6,254.9 297.9,256.9 298.2,259.3 299.7,261.2 301.8,263.8 304.4,265.8 307.5,267.4 308.2,269.8 309.1,272.1 311.5,273.6 313.8,275.2 316.4,277.2 318.4,279.9 320.7,279.8 322.7,281.1 325,281 327.3,280.9 329.6,281.6 332,281.3 334.3,281.8 M262,282 265,279.5 268.5,281 269.5,285 268.4,287.4 268,290 264,291.5 260.5,289 259.5,285 262,282 M271.7,307.9 271.3,310.5 271.4,313.1 270.9,315.7 272,317.6 272.2,319.9 273.2,321.9 275.2,324 276.4,326.6 275.9,329.8 274.8,332.9 274.3,337.1 M274.3,337.1 276.5,336.5 278.7,336.1 280.8,335.1 282.9,334.3 285.2,333.8 287.5,334.2 289.7,333.1 292,332.7 294.3,332.9 296.5,333.4 298.6,334.2 300.9,334.5 302.9,335.7 306.2,337.4 307.9,339.3 309.1,341.5 310.4,343.6 311,345.7 312.2,347.7 312.5,349.9 311.6,352 310,353.9 308.9,355.9 308.3,358.2 306.1,360.1 304.2,362.3 302.3,364.1 300.6,366.1 299.2,368.3 297.1,370 296.1,372.6 294.8,375 292.9,377.1 292.2,379.3 292.1,381.7 291.5,383.9 292.2,386.4 291.4,388.6 292,390.8 292.9,392.8 293.3,395.1 294.3,397.1 296.6,398.4 298.3,400.5 301,401.1 302.9,402.9 305,400.8 307.1,398.6 307,396.1 306.8,393.5 306.3,391.1 305.7,388.6 305.2,386.4 304.6,384.2 304,382 302.9,380 303.7,377.6 305,375.3 305.7,372.9 307.7,374.6 310,375.9 312.5,376.9 315.6,376.3 318.7,375.8 321.7,377.2 324.9,377.9 327.2,377.2 329.1,375.9 331.2,374.8 334.3,374.4 337.4,373.8 338.9,375.5 340.1,377.3 341.6,379 344.7,380.1 347.8,381 350.8,380 354,380 356,381.7 358.2,383.1 360.5,382.6 362.5,381.4 364.4,380 367.5,379.7 370.6,379 372.8,380.3 374.7,382 376.9,383.1 378.9,384.6 381.1,385.8 383.1,387.3 385,389 387.5,389.6 389.4,391.4 392.4,392.7 395.6,393.5 398.7,395.6 399.4,398.8 399,402 M274.3,337.1 271.5,336.5 268.6,336.2 265.7,335.7 264.2,337.9 262.1,339.6 260.5,341.7 258.7,343.6 257.1,345.7 255.3,347.6 254.5,350.1 253.3,352.4 251.4,354.3 251.3,356.6 250.6,358.8 250.9,361.2 250.6,363.5 250,365.7 250.7,368 252,370.1 253.3,372.1 254.3,374.3 256.3,375.4 258.7,375.5 260.7,376.6 262.9,377.1 264.9,376.1 267.1,375.6 269.4,375.3 271.4,374.3 269.2,375.9 267.3,377.8 265.7,380 264.4,382.9 262.9,385.7 261.4,385.7 260.6,387.8 260.2,390.1 259.7,392.3 258.6,394.3 257.9,396.5 256.8,398.5 256.1,400.6 255.7,402.9 252.8,402.7 250,402.9 247.7,403.1 245.8,404.5 243.7,405.3 241.4,405.7 238.6,407.2 235.7,408.6 233,410.2 230,411.4 230.4,409.2 231.4,407.1 232.3,405.1 232.9,402.9 233.6,400.7 234.1,398.5 235.4,396.6 235.7,394.3 233.1,392.4 230,391.4 228.1,389.5 225.9,387.9 224.3,385.7 221.2,384.8 218.6,382.9 216.3,383.2 214.5,384.8 212.1,384.8 210,385.7 210.7,387.9 211.6,389.9 211.9,392.3 212.9,394.3 212.9,397.3 212.3,400.1 211.4,402.9 211,405.7 211,408.7 210,411.4 208.9,413.4 208.8,415.8 208.2,418 207.1,420 206.5,422.4 204.9,424.2 204,426.5 202.9,428.6 201.4,431.4 M121,392.3 123.2,392.2 125.4,392.1 127.7,392 129.9,392 132.1,391.5 134.2,390.7 136.5,390.8 138.6,390.3 140.8,389.9 143.1,390.2 145.3,390 147.3,391.4 149.6,392.2 151.7,393.5 153.7,394.8 155.7,396.2 158.3,396.9 160.9,397.3 163.5,397.9 166.1,398.3 168,400.6 170.3,402.5 171.4,405.6 172.3,408.7 173.6,411 175.1,413.1 177.4,414.7 178.6,417 180.4,418.9 182.6,420.3 185.1,421.3 186.9,423.2 189,424.6 191,426.1 193.1,427.4 194.9,429.2 197.4,430.1 199.4,431.6 201.4,431.4 M201.4,431.4 201.3,434.2 201.4,437 200.8,440 198.9,442.1 197.7,444.7 195.2,446 193,447.8 192.5,450.1 193,452.5 194.5,455.6 194.5,458 194.5,460.3 192.1,461.7 189.9,463.4 186.8,464.9 187.1,467.2 186.8,469.6 188.3,472.7 190.6,473.3 193,473.5 195.4,473.4 197.7,472.7 195.3,474.1 193,475.8 190.8,476.7 189,478.2 186.8,479 184.2,480.2 182.1,482.1 185.2,485.2 188.3,488.3 188.2,490.7 189.1,493 186.8,494.1 185.2,496.1 182.9,495.3 180.5,494.5 178.2,496.1 177.5,498.4 177.4,500.8 176.8,503.2 175.8,505.5 172.7,507 169.6,508.6 168.1,505.5 164.9,503.9 163.4,505.5 161.8,508.6 M194.5,460.3 197.6,461.1 200.8,461 202,463.2 203.9,464.9 205.6,467.2 207,469.6 210.2,470 213.2,471.2 215.6,472.7 217.9,474.3 220.2,474.7 222.6,475.3 225,475.4 227.3,475.8 229.7,475.5 231.9,476.5 234.3,475.9 236.6,476.6 238.9,477.3 241.3,477.4 242.1,479.7 242.1,482.1 244,485 248.2,484.5 250.8,482.5 253.6,480.9 255.7,478.4 257.3,475.5 258.3,473 260,470.9 262,469.9 264.3,469.7 266.4,469.1 268.9,468.7 271.3,468.3 273.6,467.3 275.5,470.9 278.1,472 280.9,472.7 283.5,474.1 286.4,474.5 289.1,474 291.8,473.6 294.6,473.6 297.3,472.7 299.9,471.8 302.7,471.8 304.9,471 307.3,470.9 309.5,470.2 311.8,470 314.3,469.9 316.7,469.6 319.1,469.1 321.8,469.6 324.5,470 326.6,469 328.2,467.3 330.1,464.6 331.8,461.8 333.5,459 335.5,456.4 338.1,454.9 340.9,453.6 343.6,454.4 346.4,454.5 350,452.7 352.7,453.6 355.5,453.6 M355.5,453.6 355.2,455.8 353.9,457.8 353.6,460 351.4,462.5 350,465.5 348.8,467.9 347.5,470.3 346.4,472.7 345.8,475.6 344.5,478.2 344.5,480.6 344.5,483.1 344.5,485.5 344.9,487.9 346.1,490.1 346.1,492.6 345.9,495.3 346.8,497.8 346.4,500.4 346.1,503 344.8,506.9 345.3,509.5 345.5,512.1 346.8,516 347.8,518.1 349.4,519.9 351.3,521.9 353.2,523.8 351.9,527.7 349.4,529 346.8,530.3 344.7,531.4 342.9,532.9 342.7,535.6 341.6,538.1 340.9,540.6 340.3,543.2 336.4,543.9 M399,402 399,404.8 398.2,407.5 398.6,410.3 396.2,410 393.8,410.9 391.4,410.8 388.6,411.3 385.9,412.1 383.1,412.2 380.9,412.5 378.7,412.3 376.5,412.5 374.3,413.2 372.1,413.4 372.8,416 373.4,418.5 373.6,421.2 375.9,422.5 378.1,423.9 380.8,424.3 383,425.8 383.5,428.2 384.5,430.5 383.4,432.7 381.7,434.5 380.1,436.3 378.2,437.9 376.8,439.9 375.4,442 373.8,443.9 372,445.7 370.5,447.7 368.2,448.5 365.8,448.2 363.6,449.2 361.2,449.2 358.1,451 355.5,453.6 M426.8,319 427.5,321.7 428.4,324.3 428.8,327 430.5,328.9 431.6,331.2 433,333.2 435.1,335.3 437.1,337.4 435.1,339.6 433,341.6 431,343.2 428.8,344.7 428.3,347.3 427.8,349.9 429.2,351.8 430.2,353.9 430.9,356.1 432.9,357.3 435,358.3 437.1,359.3 439.2,360.3 441.1,362.2 443.4,363.4 439.2,364.4 436.1,365.3 433,366.5 430.1,366.8 427.5,368.2 424.7,368.6 422.5,369.7 420.3,371 418.4,372.7 416.5,374.5 415.3,376.9 414.4,380.1 413.2,383.1 414,386.2 414.3,389.4 414.9,391.7 416.4,393.5 414.3,395.6 M399,402 400.8,404.1 401.5,406.8 403.1,409 405,411 407.2,409.6 409.7,408.7 412.2,408 412.9,404.9 413.2,401.8 413.5,398.7 414.3,395.6 M414.3,395.6 416.9,395.2 419.4,395.7 421.8,395.5 424,394.5 426.5,394.3 428.7,393.4 430.9,394.2 432.7,395.6 434.4,397 436.5,398 438.9,397.9 441.2,398.5 443.4,399.4 445.8,399.6 448.6,399 451.2,398 453.6,396.5 456,395.1 458.8,394.4 461.4,393.4 464.1,392.6 466.6,391.3 469.2,390.3 472.4,389.7 475.5,388.7 478.7,389.2 481.7,390.3 484.1,391.5 486.1,393.1 487.9,395 490.2,394.1 492.6,394.2 494.7,392.9 496.7,391.6 498.8,390.3 500.4,388.8 501.7,386.9 503.5,385.6 504.8,383.1 506.6,380.9 508.8,379.1 511.3,377.8 514.5,377.4 517.5,376.2 520.6,373.1 M528.2,342.7 525.5,344.5 524,347.1 523.6,350 522.7,352.2 523.1,354.6 522.7,356.8 521.8,359 522.2,361.9 523.6,364.5 525.5,368.2 524.6,370.9 523.6,373.6 520.6,373.1 M520.6,373.1 520.6,375.6 521.4,378.1 521.6,380.6 521.9,383.1 522.2,385.6 521.7,388.2 521,390.8 520.6,393.4 519.8,396 518,398 516.3,401 514.9,402.7 513.5,404.5 512.9,406.7 511.4,408.4 508.9,409.7 506.4,410.9 503.9,411 501.5,411.8 499,412.1 497.4,414.2 495.3,415.8 493.7,417.9 491.6,419.5 489.1,420.7 486.7,422 483.7,423.1 480.5,423.2 477.9,423.4 475.6,424.5 473.1,427 472.5,429.4 472.5,431.9 474.4,433.1 478,431.9 480.4,433.4 483,434.4 484.6,435.9 486.7,436.8 489.2,439.3 490.3,441.2 491.6,443 493.5,444.8 495.3,446.7 496.5,449.2 497.8,451.6 499,455.3 500.2,457.2 501.5,459 502.8,460.9 504.7,462.3 506.6,463.5 508.8,464.3 510.6,466 512.9,466.6 514.9,467.7 517.1,468.3 M419.4,457.3 420.4,455 420.9,452.6 423.6,451.9 426.1,450.4 428.7,449.5 431.2,449.9 433.7,449.9 436.2,449.7 438.7,449.8 441.2,449.5 443.6,450.1 446.2,450 448.6,450.6 451.2,450.2 453.6,451 454.6,454.1 455.2,457.3 457.5,458 460,458.3 462.2,459.5 464.5,460.4 467.1,460 469.7,459.5 472.3,458.8 473.6,456.6 475.8,455 477,452.6 478,450.3 478.6,447.9 480,445.5 481.7,443.2 M405,411 407.1,410.3 409.1,409.3 411.1,408.3 413.1,407.4 414.8,408.9 415.8,410.9 417.8,412.1 419.3,413.8 420.8,415.4 422.5,416.8 425,418.3 426.7,419.8 428.7,420.8 429.9,424.5 429.6,427 430.9,429.4 430.6,431.9 432.4,434.4 434.9,436.8 437.3,439.3 436.1,443 433.6,445.5 431.7,446.6 429.9,448 427.5,450.4 425,452.9 422,455 419.4,457.3 M419.4,457.3 417.9,459.1 417.2,461.4 415.7,463.2 415.1,465.5 414.8,467.8 414,470 413.1,472.2 412.8,474.5 411.9,476.7 411,478.8 408.7,479.5 406.8,480.9 404.8,482 402.2,482.5 399.5,482.5 397,483.5 394.6,485 392.3,486.6 391,489.6 390.8,492.9 390.2,496 390,499.1 390.1,502.2 390.8,505.3 391.3,507.6 390.8,510 388.6,510.6 386.4,511.1 384.4,512.1 382.2,511.2 380.5,509.5 377.9,510.8 379.2,513.4 380.1,516.2 381.8,518.6 383.4,521 384.4,523.8 385.7,527.7 386.1,530.9 386.4,534.2 386.4,536.8 385.7,539.4 384.4,542 383.1,544.5 381.1,547 379.2,549.7 378.3,551.9 376.6,553.6 374.9,555.3 374,557.5 372.8,560.1 371.4,562.7 370,565.3 M370,565.3 372.3,563.5 374.6,561.8 376.8,559.9 379.3,559.1 381.9,558.4 384.6,558.1 387.1,557.3 388.5,555.4 389.5,553.3 391.2,551.6 392.3,549.5 395,550.2 397.7,550.7 400.1,552.1 401.9,550.6 403.7,549.1 405.7,547.9 407.9,546.9 409.7,545.5 410.9,543.7 412.9,542.5 414.3,540.9 415.7,539.1 417.1,537 419.5,536 420.9,533.9 422.3,536 424.7,537 426.1,539.1 428.6,540.4 431.3,540.8 433.9,541.7 435.8,540.4 438.1,539.5 439.6,537.6 441.7,536.5 443.7,535.2 445.6,533.9 M336.4,543.9 339,545.8 340.7,547.5 342.9,548.4 344.9,549.9 347.3,551 349.4,552.3 350.9,554.6 353.2,556.2 354.2,558.3 355.8,560.1 357.1,564 359.7,565.3 362.3,565.4 364.9,565.3 367.4,564.9 370,565.3 M370,565.3 370.3,567.9 370.8,570.5 369.7,573.1 368.9,575.8 367.5,578.3 365.1,580 362.3,580.9 359.7,582.2 357.1,583.5 354.6,584.3 352,584.4 349.4,584.8 347.2,585.1 345.1,585.7 342.9,586.1 340.7,587.4 338.2,588.2 336,589.4 333.6,590.4 331.1,591.3 328.9,592.7 326.4,593.4 324.3,595.1 321.8,595.2 319.5,596 317.3,597.1 314.9,597.4 312.7,598.6 310.1,598.5 307.9,599.7 305.5,600.2 303.2,601.2 300.9,602.1 298.6,603.4 296.4,604.7 293.8,605.4 291.6,606.8 289.2,607.6 286.9,608.5 284.5,609.3 282.2,610.3 279.4,610.4 276.8,611.4 274,611.4 M292.9,517.1 291.7,519.4 289.6,521.1 288.2,523.3 287.1,525.7 286,527.7 286.2,530.2 285.5,532.3 284.3,534.3 283.8,536.5 282.9,538.6 282,540.7 281.4,542.9 281.1,545.2 280,547.1 279.7,549.4 278.6,551.4 277,553.6 274.7,555.1 272.9,557.1 M272.9,557.1 270.7,557.8 268.6,558.4 266.5,559.4 264.3,560 262.4,561.8 260.6,563.7 258.6,565.4 256.5,567 254,568.3 251.6,569.8 249.5,571.7 248.3,573.6 246.7,575.1 244.8,576.4 242.5,576.1 240.2,576.3 237.8,576.1 235.5,576.4 233.4,578.9 230.8,581 229.3,582.6 227.9,584.3 226.1,585.7 223.7,586.3 221.5,587.6 219.1,588.2 216.8,589.2 214.3,589.6 212.2,591.1 209.7,591.8 207.4,592.7 204.9,594 202.5,595.4 200.4,597.4 199.7,599.8 198.9,602.1 198,604.4 199.2,606.6 199.2,609.2 200.4,611.4 199.2,614 197.6,616.3 195.7,618.4 193.4,617.8 191,617.3 188.7,617.9 186.4,618.4 183,616.5 M195.7,618.4 195.9,620.6 196.8,622.8 197,625 197,627.4 198.1,629.6 198,632 198,634.7 197.3,637.3 195.8,638.9 194.5,640.8 M272.9,557.1 275.2,560 276,562.3 276,564.7 275.9,567.1 276.4,569.4 275.3,571.6 274.9,574.1 274.1,576.5 272.9,578.7 273.1,581 272.7,583.4 273,585.7 272.9,588 272.7,590.5 271.5,592.6 271,595 270.5,597.4 270.9,599.9 271.6,602.2 272.9,604.4 272.8,606.8 273.7,609.1 274,611.4 M274,611.4 271.2,611.9 268.6,613.2 265.8,613.8 265.2,616.2 264.4,618.5 263.5,620.8 263.8,623.3 264.6,625.6 265.8,627.8 264.6,629.7 263,631.4 261.6,633.1 260,634.8 259.4,637.2 258.6,639.5 257.7,641.8 258.6,644.1 259.6,646.4 260,648.8 260.7,651.2 261.2,653.6 262.3,655.8 262.7,658.2 262.7,660.6 263.5,662.9 265.8,664.5 268.4,665.7 270.5,667.5 272.9,667.3 275.3,667 277.5,665.9 279.8,665.1 282.2,665.2 284.5,666.8 286.8,668.4 289.2,669.9 291.5,671.5 293.6,673.4 296.2,674.5 296.6,676.9 297.1,679.3 298.5,681.4 298.6,683.9 298.5,686.2 298.3,688.6 298.6,690.9 M298.6,690.9 300.7,689.3 303.1,688.2 305.6,687.4 308.1,686.2 310.5,684.9 312.3,682.7 314.9,681.6 317.3,680.6 319.4,678.9 322.1,678.3 324.3,676.9 326.7,675.9 328.8,674.3 331.1,673.1 333.6,672.2 336.1,671.3 338.3,669.9 M298.6,690.9 296.3,691.3 293.9,691.5 291.6,692.4 289.3,692.9 286.9,693.2 284.8,694.6 283.3,696.6 281.7,698.5 279.9,700.3 279.1,702.6 278.1,704.9 277.5,707.3 275.1,708.2 272.6,709.2 270.6,710.8 268.2,711.9 265.7,712.8 263.4,714.1 261,715.1 258.8,716.6 256.4,716.9 254.1,717.4 251.7,718 249.5,719 247.8,717.4 M214.4,690.9 215.8,693 217.8,694.5 219.6,696.2 221.4,697.9 223,699.8 224.7,701.6 226.7,703.1 228.4,704.9 230.2,706.6 232.2,708.1 233.5,710.3 235.5,711.9 237.5,713.9 240.2,714.9 242.5,716.6 245.2,716.6 247.8,717.4 M247.8,717.4 245.8,718.7 243.6,719.5 244.7,721.5 245.7,723.6 247.9,724.4 249.6,726.2 252.1,726.3 254,727.8 255.2,730.8 256.1,734 257.2,736.7 257.3,739.6 258.2,742.3 259,744.5 260.6,746.3 261.7,748.3 262.3,750.6 266.5,751.7 267.2,754.1 267.8,756.6 268.6,759 268.1,761.8 269.1,764.5 268.6,767.3 269.7,770 270.3,772.8 270.6,775.6 269.9,777.8 268.8,779.9 267.3,781.7 266.5,783.9 266.4,786.7 266.8,789.4 266.5,792.2 267.9,795.2 268.6,798.4 270.6,801.6 M342,586.5 345,584.5 348,586.5 348,588.8 347.5,591 344.5,592 342,590 342,586.5 M333.5,671 336,668.8 338.8,670.5 338.5,674 335.5,674.5 333.5,671 M524.5,328 527.1,326.7 530,326 532.9,327 536,327.5 538.4,326.1 541,325 544.5,326.4 M568.6,337.7 568.3,340.1 567.9,342.5 568,345 568.1,347.2 568.5,349.4 567.9,351.6 567.9,353.8 568.5,356 M568.5,358 571.7,357.3 575,357 577.5,357.8 579.9,359 582.5,359.2 585,360 587.4,359.2 589.9,358.5 592.6,359 595,358 597.2,359.6 599.7,360.6 602,362 604,361 606,360 607.9,358.8 610,358 612.7,358.2 615.4,357.5 618,357 619.7,358.6 621.4,360.3 622.5,362.4 624,364.2 626.4,365.1 628.6,366.2 630.4,368.5 632.7,370.4 634.7,371.7 636.9,372.5 637.9,375.6 636.3,377.6 634.8,379.7 M621.6,333 623.8,332.1 626.2,331.6 628.6,331.4 631.2,331.3 633.8,331.4 636.4,332.2 639,332 641.6,332.1 644.2,332.1 646.8,332.3 649.4,331.4 652,331.5 654.8,331 657.5,330.1 660.3,330 662.4,328.2 663.7,325.6 666,324 667.8,321.7 669.4,319.2 670.6,316.5 672.9,315.6 674.5,313.6 676.7,312.6 679,311.7 681,310.3 683.4,309.2 686,309 688.5,308.3 691.1,308.2 693.5,307.1 696,306.8 698.6,306.7 701,305.7 703.6,305.8 706,305.1 708.8,305 711.5,305.6 714.3,305.1 714.2,307.8 713.2,310.3 712.1,312.2 712,314.6 710.8,316.5 710.1,318.6 711.1,320.7 712.2,322.7 713,324.5 M697.7,333.1 695.8,334.5 693.4,334.9 691.6,336.4 689.4,337.3 688,339 686.6,340.7 684.8,342.1 683.1,343.5 681.1,345.6 678.8,347.5 676.9,349.7 675.4,351.4 673.6,352.7 672.5,354.7 670.6,356 668.6,357.5 666.5,358.8 664.4,360.1 662.6,361.9 661.4,364.1 660.3,366.4 658.6,367.8 657.5,369.9 655.7,371.1 654,372.6 652.8,375.6 652,378.8 M684.7,364.2 682.5,365.1 680.2,365.3 678,366 675.7,367 673.5,368.5 671,369 668.5,369.5 666.2,370.7 664,372 662.2,373.6 659.9,374.6 658,376 656.1,377.1 654.1,378 652,378.8 M652,378.8 651.3,381.6 650.8,384.4 649.9,387.1 649.4,389.9 648.6,392.7 647.8,395.5 648.2,397.8 649.3,399.9 649.9,402.1 650,404.4 651,406.5 651.4,408.8 M651.4,408.8 649.5,407.4 647.2,406.9 645,406 642.7,405.4 640.3,405.5 638,405 634.9,405.7 632,407 631,409.3 629.6,411.3 628.2,413.3 626.5,415.1 M616.1,403.6 616.9,405.8 617.8,408 619,410 622.3,412 624.6,413.3 626.5,415.1" fill="none" stroke="#7f7f7f" stroke-width="1.6" stroke-linejoin="round" stroke-linecap="round"/>
<polygon points="544,444 547,445.5 548.6,453.2 550.1,461 550.9,469.6 548.6,472 542.3,472.7 536.1,472.7 531.4,472 528.3,469.6 526.8,467.3 527.5,464 530,462 534,463 538,460 541,456 543,452" fill="#878787"/>
<polygon points="51.4,417.3 52.5,413.1 54.5,410 60.8,410 64,412 62,416 59.7,419.4 57.7,418.3 53.5,420.4" fill="#878787"/>
<polygon points="385,590 388,588.5 389.8,592.5 388.5,596 386,594.5" fill="#8a8a8a"/>
<polygon points="243,752 245.5,754 247.5,760 249.5,768 248,770 246,765 244,758" fill="#8a8a8a"/>
<polygon points="155.6,79 154.8,75.8 156.4,72 160.3,70.4 163.4,68 166.5,63.4 169.6,58.7 174.3,57.1 180.5,57.9 183.6,55.6 182.9,53.2 186,53.2 188.3,54 193,51.7 197.7,50.1 202.3,49.4 205.5,47.5 208.6,48.6 213.2,50.1 216.4,50.1 219.5,47.8 222.6,49.4 224.9,53.2 227.3,57.1 230.4,61 235.1,63.4 239.7,65.7 244.4,68.8 249.1,71.2 253.8,75.1 256.1,79.7 257.7,83.6 264.1,85.8 270.1,87.5 271.8,93.6 277.9,93.6 284.8,91 291.6,87.5 296.8,84.1 303.7,82.4 310.6,81.5 314,79.8 319.2,80.7 324.4,83.2 329.5,84.1 333.8,85.8 338.1,90.1 339.8,92.7 339,97.9 339,104.8 337.3,109.9 333,113.4 329.5,116.8 326.1,123.7 322.6,125.4 320.9,130.6 319.2,134 315.7,135.7 308.9,136.6 307.1,139.2 308.9,142.6 310.6,146.1 308,148.7 308.9,153 312.3,156.4 317.5,158.1 320,161.6 319.2,168.5 322.6,173.6 322.6,177.1 317.5,180.5 312.3,183.1 308.9,184 305.4,180.5 303.7,177.1 298.5,178.8 295.1,177.1 296.8,182.2 299.4,187.4 302,192.6 303.7,197.7 304.8,206.6 307.7,211 309.9,215.4 310.7,209.5 313.6,211 316.6,215.4 319.5,219.1 323.9,222.8 328.4,222 334.3,225.7 338.7,228.7 340.2,231.6 344.6,235.3 349,237.5 353.4,240.5 357.9,242.7 354.9,244.9 353.4,249.3 349,252.3 344.6,255.2 341.6,259.7 340.9,264.1 340.2,268.5 340.2,272.9 337.2,277.4 334.3,281.8 336.2,281.7 341,283.5 345.6,285.6 351,288.5 356.5,291.8 362.7,294.9 365.8,298.8 370.5,302.7 375,304.5 379.9,306.6 382,305.5 389.2,309.7 393.9,312.1 398.6,312.1 399.4,316.8 404.8,318.3 411,319.9 414.2,318.3 418.8,319.1 423.5,319.9 426.6,319.9 431.3,316.8 434.4,318.3 440,319.5 445,321.8 446.5,329.6 451.2,331.2 457.4,334.3 462.1,335.8 466.8,334.3 469.9,335.8 471.4,339.7 476.1,340.5 482.3,341.3 488.6,342.9 494.8,344.4 501,342.1 502.6,345.2 508.8,346 516.6,346 522.9,346.8 527.3,345.5 528.2,342.7 525.5,337 524.5,328 526.4,322.7 527.3,315.5 527,305.5 531,303.6 538,301 543.6,301.8 544.5,310 545.5,317.3 546.4,323.6 544.5,326.4 548,330 552.7,332.7 560,335.5 564.7,336.9 568.6,337.7 574,336.1 580.3,333.8 584.9,334.5 591.2,335.3 597.4,335.3 603.6,334.5 609.9,334.5 616.1,333.8 621.6,333 622.3,329.9 621.6,325.2 620.8,322.1 620.8,317.4 617.7,315.1 613,314.3 609.9,312.7 609.1,308.1 611.4,308.1 614.5,309.6 619.2,309.6 623.9,308.1 628.6,308.8 633.2,307.3 636.4,303.4 636.4,300.3 641,297.1 645.7,294.8 648.8,292.5 649.6,289.4 653.5,286.2 659.7,285.5 666,282.3 668.6,280.1 670.6,277 674.8,272.9 681,268.7 685.2,269.7 687.3,270.8 695.6,273.9 701.8,274.9 703.9,271.8 710.1,268.7 716.4,265.6 719.5,266.6 722.6,269.7 724.7,270.8 720.5,274.9 718.4,278 724.7,277 728.8,281.2 725.7,286.4 722.6,289.5 724.7,291.6 730.9,292.6 741.3,296.8 747.5,298.8 748.6,304 745.5,306.1 741.3,308.2 737.1,312.3 735.1,318.6 737.1,322.7 741.3,326.9 743.4,327.9 739.2,326.9 733,321.7 730.9,320.6 724.7,321.7 716.4,322.7 712.2,324.8 706,326.9 701.8,330 697.7,333.1 696.6,337.3 695.6,345.6 694.5,351.8 693.5,358 689.4,362.2 686.8,362 684.7,364.2 683.6,368.3 682.6,372.5 684.7,376.6 684.7,382.9 682.6,387 679.5,393.2 676.4,401.6 673.2,409.9 670.1,413 663.9,410.9 657.7,409.9 651.4,408.8 653.5,412 653.5,420.3 651.4,428.6 649.4,434.8 647.3,441 648.3,447.3 648.3,454.5 645.2,457.7 643.1,459.7 640,462.9 636.9,459.7 633.8,461.8 632.7,451.4 630.6,443.1 628.6,432.7 627.5,422.3 626.5,415.1 622.3,418.2 618.2,422.3 616.1,426.5 614,432.7 609.9,436.9 604.7,432.7 602.6,426.5 599.5,420.3 600.5,414 602.6,408.8 607.8,407.8 612,404.7 616.1,403.6 622.3,400.5 624.4,397.4 626.5,393.2 626.5,387 630.6,382.9 634.8,379.7 628.6,380.8 622.3,379.7 612,379.7 601.6,379.7 591.2,379.7 580.8,378.7 572.5,376.6 568.3,374.5 569,365 568.5,356 565.5,353.6 563.6,355.5 560,351.8 552.7,350 549,348 543.6,344.5 538,346.4 534.5,347.3 529,350 527.3,353.6 526.4,357.3 527.3,362.7 532.7,366.4 538,370 543.6,371.8 546.4,375.5 547.3,377.3 541.8,378 536.4,380 533.8,383.1 529.9,386.2 526,389.4 525.2,392.5 528.3,395.6 533,398.7 537.7,401 541.6,401.8 542.3,406.5 541.6,411.2 538.4,414.3 539.2,419 542.3,422.1 543.1,426.8 547,429.1 545.5,431.4 546.2,436.1 547.8,442.3 547,445.5 548.6,453.2 550.1,461 550.9,469.6 548.6,472 542.3,472.7 536.1,472.7 531.4,472 528.3,469.6 526.8,467.3 525.2,466 522,466.5 517.1,468.3 508.8,471.4 502.6,474.5 498.4,478.7 496.4,483.9 497.4,489.1 499.5,492.2 501.6,493.2 498.4,495.3 495.3,499.5 493.2,503.6 488,507.8 483.9,510.9 477.7,513 471.4,515.1 465.2,519.2 459,523.4 452.7,528.6 446.5,533.8 442.3,539 438.2,545.3 434.3,550.5 431.7,554.4 427.8,556.4 423.9,558.3 419.5,561.8 413.2,566 407,570.1 400.8,574.3 394.5,578.4 390.4,583.6 388.3,588.8 387.8,594.2 384.7,597.3 378.4,600.4 372.2,602.5 366,603.5 361.8,606.6 358.7,612.9 355.6,617 351.4,616 347.3,614.9 343.1,616 340,619.1 336.9,625.3 335.8,631.6 335.8,637.8 337.9,646.1 337.9,654.4 337.9,662.7 336.9,669 340,671 341,677.3 340.3,688.3 338.2,696.6 333,704.9 329.9,711.2 328.8,719.5 329.9,727.8 330.9,738.2 330.9,749.6 324.7,750.6 318.4,751.7 314.3,754.8 310.1,761 308.1,767.3 308.8,771.2 313,772.8 319.5,776.2 313,774.2 307.5,775 302.3,777 297.1,779 292,781.6 290,785.5 289.4,790.6 288,794.5 284.2,798.4 279,801.7 275,803 270.6,801.6 266.5,798.4 262.3,794.3 258.2,788.1 254,781.8 250.9,775.6 247.8,769.4 244.7,761 241.6,752.7 237.4,742.3 233.2,731.9 229.1,721.6 224.9,715.3 220.8,709.1 217.7,702.9 214.5,696.6 211.4,688.3 209.4,680 208.2,675.1 205.1,666.8 201.9,658.4 198.8,650.1 194.7,641.8 191.6,635.6 187.4,627.3 184.3,624.2 184.3,619 182.2,614.8 179.1,606.5 177,598.2 174.9,589.9 172.9,581.6 170.8,573.2 168.7,564.9 166.6,556.6 165,548.3 164.5,543 164,537.5 162,531.3 159.9,523 158.8,514.7 159.9,508.4 162,503.2 163,498.1 162,491.8 159.9,483.5 158.8,477.3 159.9,471 157.8,464.8 156.8,458.6 159.9,456.5 165.1,453.4 159.9,453.4 155.7,454.4 152.6,452.3 150.5,454.4 148.4,460.6 147.4,466.9 146.4,473.1 145.3,479.4 141.2,483.5 134.9,486.6 128.7,489.7 122.5,491.8 116.2,492.9 110,491.8 106.5,487.9 100.3,484.8 94,479.6 87.8,473.4 81.6,467.1 75.3,460.9 72.2,456.8 71.2,452.6 74.3,449.5 79.5,450.5 83.6,451.6 89.9,449.5 96.1,446.4 101.3,443.2 104.4,438 106.5,433.9 101.3,437 96.1,439.1 89.9,441.2 83.6,440.1 76.4,438 69.1,434.9 63.9,431.8 61.8,428.7 59.7,424.5 59.7,419.4 57.7,418.3 53.5,420.4 51.4,417.3 52.5,413.1 54.5,410 60.8,410 66,409 67,402.7 69.1,401.7 75.3,401.7 81.6,402.7 87.8,403.8 94,403.8 98.2,402.7 102.3,399.6 106.5,398.6 109.6,399.6 110.6,401.7 117.9,400.6 120,396.5 121,392.3 120,388.2 116.9,382 113.8,375.7 111.7,369.5 108.6,365.3 102.3,363.2 98.2,359.1 98.2,349.6 97.1,343.4 90.9,341.3 84.7,338.2 82.6,333 83.6,326.8 87.8,321.6 94,314.3 98.2,308.1 102.3,303.9 107.5,302.9 111.7,304.9 113.8,310.1 116.9,311.2 125.2,308.1 133.5,307 139.7,304.9 141.8,299.7 146,293.5 149.1,287.3 152.2,283.1 158.4,280 164.7,276.9 168.8,270.6 173,262.3 175.1,256.1 177.1,250.9 183.4,248.8 187.5,249.9 188.2,247.3 188.2,238.2 190.9,232.7 196.4,227.3 200,221.8 203.6,218.2 203.6,209.1 203.6,201.8 205.5,196.4 211,192.7 216.4,190.9 223.6,187.3 221.8,183.6 216.4,180 211,178.2 205.5,174.5 198.2,170.9 189,167.3 181,162 179.7,155.3 179,149.1 178.2,142.9 177.4,136.6 176.6,130.4 175.8,124.2 177.4,121 179.7,120.3 182.1,117.9 185.2,114.8 188.3,113.2 190.6,110.1 191.4,107 189.9,103.9 186.8,102.3 183.6,100.8 183.6,97.7 185.2,94.5 183.6,92.2 179,91.4 174.3,89.9 170.4,86.8 168.1,83.6 164.9,82.9 160.3,83.6 157.1,82.1" fill="none" stroke="#7f7f7f" stroke-width="1.45" stroke-linejoin="round"/>
<polygon points="641.5,668.3 645,670.6 646,677.3 645,684 643.4,688.6 643.8,697.6 641.5,704.4 638.2,711.1 637,720 634.8,724.6 632.5,720 632.5,711.1 634.8,702.1 635.2,693.1 634.8,686.3 638.2,684 639.3,675 640.4,669.4" fill="#e4d2cd" stroke="#858585" stroke-width="1.3" stroke-linejoin="round"/>
<polygon points="629,736 632,735.5 634,739 633.5,744 630.5,745 628.5,741" fill="#e4d2cd" stroke="#858585" stroke-width="1.3" stroke-linejoin="round"/>
<polygon points="643,701 645.8,700 646.5,705 645.5,711 643.5,713.5 641.8,708" fill="#8a8a8a"/>
<polygon points="635,684 638.5,683 638.8,688 636,689.5" fill="#8a8a8a"/>
<polygon points="633,719 636.5,718.5 636.5,723.5 634.5,725 632.5,722.5" fill="#8a8a8a"/>
<circle cx="158" cy="743.7" r="0.9" fill="#8a8a8a"/>
<circle cx="182.3" cy="738" r="0.9" fill="#8a8a8a"/>
<circle cx="168" cy="798.4" r="0.9" fill="#8a8a8a"/>
<circle cx="325.5" cy="709" r="1.2" fill="#8a8a8a"/>
<circle cx="327.5" cy="735" r="1.0" fill="#8a8a8a"/>
<circle cx="246" cy="760" r="1.0" fill="#8a8a8a"/>
<circle cx="247.5" cy="766" r="0.9" fill="#8a8a8a"/>
<circle cx="658" cy="639" r="0.8" fill="#8a8a8a"/>
<circle cx="663.4" cy="702.1" r="1.0" fill="#8a8a8a"/>
<circle cx="625.3" cy="719.5" r="1.0" fill="#8a8a8a"/>
<circle cx="638.2" cy="777" r="1.3" fill="#8a8a8a"/>
<circle cx="658.5" cy="792" r="0.8" fill="#8a8a8a"/>
<circle cx="646" cy="797.9" r="1.4" fill="#8a8a8a"/>
<circle cx="649" cy="798.5" r="1.2" fill="#8a8a8a"/>
<circle cx="651.7" cy="805.8" r="1.8" fill="#8a8a8a"/>
<circle cx="656.2" cy="802.4" r="1.6" fill="#8a8a8a"/>
<circle cx="654" cy="806" r="1.4" fill="#8a8a8a"/>
</svg>
<h1 style="top:10.5px;left:16px">DNA J2b Mahli density interactive map</h1>
</body></html>
